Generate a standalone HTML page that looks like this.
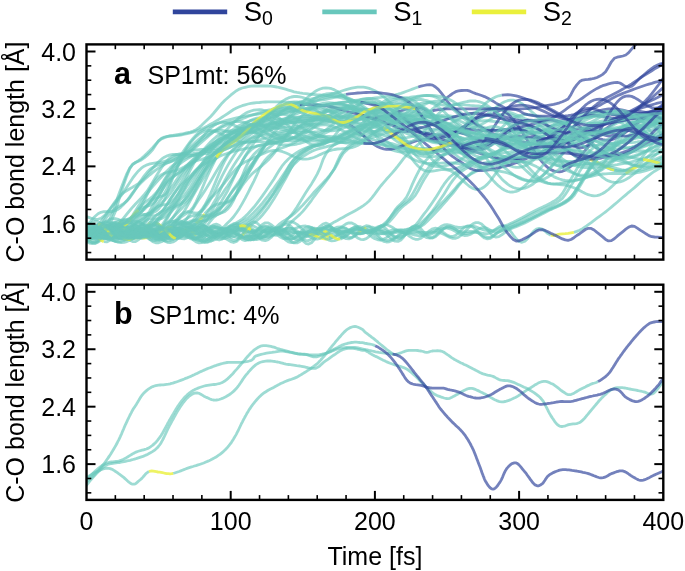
<!DOCTYPE html><html><head><meta charset="utf-8"><style>html,body{margin:0;padding:0;background:#fff;}svg{display:block;filter:blur(0.35px)}text{font-family:"Liberation Sans",sans-serif;fill:#000}</style></head><body>
<svg width="685" height="571" viewBox="0 0 685 571">
<defs><clipPath id="ca"><rect x="86.5" y="44.4" width="576.8" height="215.20000000000002"/></clipPath><clipPath id="cb"><rect x="86.5" y="284.7" width="576.8" height="215.20000000000002"/></clipPath></defs>
<g clip-path="url(#ca)">
<polyline points="86.5,233.6 89.4,234.0 92.3,233.7 95.2,232.7" fill="none" stroke="#68c7bc" stroke-opacity="0.65" stroke-width="2.8" stroke-linejoin="round" stroke-linecap="butt"/>
<polyline points="95.2,232.7 98.0,231.1 100.9,229.3 103.8,227.6 106.7,226.4 109.6,225.7" fill="none" stroke="#eaf03c" stroke-opacity="0.8" stroke-width="2.8" stroke-linejoin="round" stroke-linecap="butt"/>
<polyline points="109.6,225.7 112.5,225.6 115.3,225.8 118.2,225.9 121.1,225.6 124.0,224.5 126.9,222.3 129.8,219.2 132.6,215.2 135.5,210.7 138.4,206.1 141.3,201.7 144.2,197.8 147.1,193.8 149.9,189.9 152.8,186.4 155.7,183.1 158.6,179.9 161.5,176.7 164.4,173.6 167.3,170.7 170.1,167.9 173.0,165.4 175.9,163.1 178.8,160.9 181.7,158.8 184.6,156.6 187.4,154.1 190.3,151.4 193.2,148.4 196.1,145.1 199.0,141.6 201.9,138.0 204.7,134.4 207.6,131.1 210.5,128.2 213.4,125.8 216.3,124.0 219.2,122.9 222.0,122.3 224.9,122.3 227.8,122.9 230.7,123.9 233.6,125.1 236.5,126.6 239.4,128.0 242.2,129.4 245.1,130.7 248.0,131.6 250.9,132.3 253.8,132.6 256.7,132.6 259.5,132.3 262.4,131.8 265.3,131.1 268.2,130.3 271.1,129.4 274.0,128.7 276.8,128.0 279.7,127.5 282.6,127.2 285.5,127.0 288.4,126.8 291.3,126.8 294.1,126.6 297.0,126.4 299.9,126.0 302.8,125.3 305.7,124.3 308.6,123.0 311.5,121.3 314.3,119.4 317.2,117.2 320.1,114.9 323.0,112.6 325.9,110.4 328.8,108.4 331.6,106.8 334.5,105.5 337.4,104.8 340.3,104.6 343.2,104.9 346.1,105.7 348.9,107.0 351.8,108.6 354.7,110.4 357.6,112.2 360.5,114.1 363.4,115.7 366.2,117.1 369.1,118.2 372.0,118.8 374.9,119.1 377.8,119.0 380.7,118.6 383.6,118.0 386.4,117.3 389.3,116.7 392.2,116.2 395.1,116.0 398.0,116.2 400.9,116.9 403.7,118.0 406.6,119.6 409.5,121.7 412.4,124.1 415.3,126.8 418.2,129.6 421.0,132.4 423.9,135.1 426.8,137.4 429.7,139.4 432.6,140.9 435.5,141.8 438.3,142.2 441.2,142.0 444.1,141.2 447.0,140.0 449.9,138.5 452.8,136.6 455.7,134.6 458.5,132.5 461.4,130.4 464.3,128.3 467.2,126.4 470.1,124.5 473.0,122.7 475.8,121.0 478.7,119.3 481.6,117.6 484.5,115.8 487.4,113.8 490.3,111.7 493.1,109.5 496.0,107.3 498.9,105.2 501.8,103.3 504.7,101.8 507.6,100.7 510.4,100.1 513.3,100.1 516.2,100.8 519.1,102.0 522.0,103.7 524.9,105.8 527.8,108.2 530.6,110.8 533.5,113.4 536.4,115.9 539.3,118.4 542.2,120.6 545.1,122.7 547.9,126.2 550.8,130.0 553.7,133.4 556.6,136.2 559.5,138.3 562.4,139.8 565.2,140.7 568.1,141.0 571.0,140.8 573.9,140.2 576.8,139.4 579.7,138.5 582.5,137.5 585.4,136.6 588.3,135.8 591.2,135.2 594.1,134.8 597.0,134.5 599.9,134.2 602.7,134.0 605.6,133.8 608.5,133.3 611.4,132.7 614.3,131.8 617.2,130.6 620.0,129.0 622.9,127.2 625.8,125.1 628.7,123.1 631.6,122.0 634.5,120.9 637.3,119.9 640.2,119.0 643.1,118.2 646.0,117.6 648.9,117.2 651.8,116.9 654.6,116.8 657.5,116.9 660.4,117.1 663.3,117.3" fill="none" stroke="#68c7bc" stroke-opacity="0.65" stroke-width="2.8" stroke-linejoin="round" stroke-linecap="butt"/>
<polyline points="86.5,241.9 89.4,240.2" fill="none" stroke="#68c7bc" stroke-opacity="0.65" stroke-width="2.8" stroke-linejoin="round" stroke-linecap="butt"/>
<polyline points="89.4,240.2 92.3,237.1 95.2,233.5 98.0,230.5 100.9,228.9 103.8,228.8 106.7,229.6 109.6,230.7" fill="none" stroke="#eaf03c" stroke-opacity="0.8" stroke-width="2.8" stroke-linejoin="round" stroke-linecap="butt"/>
<polyline points="109.6,230.7 112.5,231.0 115.3,230.1 118.2,228.1 121.1,225.5 124.0,223.2 126.9,221.9 129.8,222.0 132.6,223.2 135.5,224.9 138.4,226.1 141.3,225.9 144.2,224.0 147.1,220.4 149.9,216.1 152.8,211.7 155.7,208.3 158.6,206.1 161.5,205.1 164.4,204.7 167.3,204.3 170.1,202.9 173.0,200.4 175.9,197.0 178.8,193.0 181.7,188.9 184.6,185.0 187.4,181.4 190.3,178.1 193.2,174.8 196.1,171.3 199.0,167.6 201.9,163.6 204.7,159.4 207.6,155.3 210.5,151.4 213.4,147.8 216.3,144.6 219.2,141.6 222.0,138.9 224.9,136.3 227.8,133.8 230.7,131.4 233.6,129.2 236.5,127.2 239.4,125.4 242.2,123.9 245.1,122.6 248.0,121.6 250.9,120.7 253.8,120.0 256.7,119.4 259.5,118.9 262.4,118.5 265.3,118.3 268.2,118.2 271.1,118.2 274.0,118.4 276.8,118.8 279.7,119.2 282.6,119.9 285.5,120.7 288.4,121.6 291.3,122.7 294.1,123.9 297.0,125.3 299.9,126.8 302.8,128.3 305.7,129.9 308.6,131.6 311.5,133.2 314.3,134.7 317.2,136.2 320.1,137.5 323.0,138.6 325.9,139.5 328.8,140.1 331.6,140.5 334.5,140.6 337.4,140.4 340.3,139.9 343.2,139.1 346.1,138.0 348.9,136.7 351.8,135.3 354.7,133.6 357.6,131.8 360.5,130.0 363.4,128.1 366.2,126.3 369.1,124.5 372.0,122.8 374.9,121.3 377.8,120.0 380.7,118.8 383.6,117.8 386.4,117.0 389.3,116.4 392.2,116.0 395.1,115.8 398.0,115.7 400.9,115.7 403.7,115.7 406.6,115.8 409.5,116.0 412.4,116.1 415.3,116.2 418.2,116.2 421.0,116.3 423.9,116.2 426.8,116.2 429.7,116.2 432.6,116.2 435.5,116.2 438.3,116.3 441.2,116.6 444.1,117.1 447.0,117.8 449.9,118.7 452.8,120.0 455.7,121.6 458.5,123.6 461.4,125.9 464.3,128.6 467.2,131.6 470.1,135.0 473.0,138.7 475.8,142.6 478.7,146.8 481.6,151.0 484.5,155.4 487.4,159.7 490.3,164.0 493.1,168.1 496.0,172.0 498.9,175.6 501.8,178.9 504.7,181.7 507.6,184.1 510.4,186.1 513.3,187.5 516.2,188.4 519.1,188.8 522.0,188.7 524.9,188.1 527.8,187.0 530.6,185.5 533.5,183.7 536.4,181.5 539.3,179.0 542.2,176.2 545.1,173.3 547.9,170.2 550.8,166.9 553.7,163.6 556.6,160.2 559.5,156.8 562.4,153.4 565.2,150.1 568.1,146.8 571.0,143.6 573.9,140.4 576.8,137.4 579.7,134.5 582.5,131.7 585.4,129.1 588.3,126.7 591.2,124.4 594.1,122.9 597.0,122.1 599.9,121.4 602.7,120.8 605.6,120.4 608.5,120.1 611.4,119.9 614.3,119.9 617.2,120.1 620.0,120.4 622.9,120.8 625.8,121.4 628.7,122.0 631.6,122.8 634.5,124.1 637.3,126.2 640.2,128.4 643.1,130.6 646.0,132.8 648.9,134.9 651.8,137.0 654.6,138.8 657.5,140.6 660.4,142.0 663.3,143.3" fill="none" stroke="#68c7bc" stroke-opacity="0.65" stroke-width="2.8" stroke-linejoin="round" stroke-linecap="butt"/>
<polyline points="86.5,225.9 89.4,222.8 92.3,219.3 95.2,216.2 98.0,213.8 100.9,212.3 103.8,211.7 106.7,211.6 109.6,211.7 112.5,211.5 115.3,210.7 118.2,209.2 121.1,206.8 124.0,203.9 126.9,200.8 129.8,196.9 132.6,192.8 135.5,189.0 138.4,185.6 141.3,182.6 144.2,179.8 147.1,177.3 149.9,174.8 152.8,172.4 155.7,170.2 158.6,168.1 161.5,166.2 164.4,164.6 167.3,163.1 170.1,161.7 173.0,160.2 175.9,158.7 178.8,156.9 181.7,154.8 184.6,152.5 187.4,149.9 190.3,147.1 193.2,144.4 196.1,141.7 199.0,139.1 201.9,136.8 204.7,134.8 207.6,133.2 210.5,131.9 213.4,131.0 216.3,130.5 219.2,130.3 222.0,130.4 224.9,130.8 227.8,131.4 230.7,132.1 233.6,132.8 236.5,133.4 239.4,133.8 242.2,133.9 245.1,133.6 248.0,132.9 250.9,131.6 253.8,129.9 256.7,127.7 259.5,125.1 262.4,122.2 265.3,119.0 268.2,115.7 271.1,112.4 274.0,109.2 276.8,106.2 279.7,103.6 282.6,101.2 285.5,99.3 288.4,97.9 291.3,97.0 294.1,96.5 297.0,96.5 299.9,96.8 302.8,97.5 305.7,98.6 308.6,99.8 311.5,101.2 314.3,102.7 317.2,104.3 320.1,105.9 323.0,107.6 325.9,109.2 328.8,110.9 331.6,112.5 334.5,114.1 337.4,115.8 340.3,117.5 343.2,119.1 346.1,120.8 348.9,122.3 351.8,123.9 354.7,125.2 357.6,126.5 360.5,127.4 363.4,128.1 366.2,128.5 369.1,128.4 372.0,128.0 374.9,127.1 377.8,125.8 380.7,124.1 383.6,122.0 386.4,119.6 389.3,117.1 392.2,114.4 395.1,111.7 398.0,109.1 400.9,106.6 403.7,104.4 406.6,102.6 409.5,101.1 412.4,100.1 415.3,99.5 418.2,99.3 421.0,99.5 423.9,100.0 426.8,100.7 429.7,101.6 432.6,102.5 435.5,103.4 438.3,104.2 441.2,104.8 444.1,105.2 447.0,105.3 449.9,105.2 452.8,104.9 455.7,104.3 458.5,103.6 461.4,102.8 464.3,102.1 467.2,101.5 470.1,101.0 473.0,100.9 475.8,101.0 478.7,101.6 481.6,102.5 484.5,103.8 487.4,105.6 490.3,107.6 493.1,109.9 496.0,112.6 498.9,115.3 501.8,117.9 504.7,120.4 507.6,122.7 510.4,124.8 513.3,126.7 516.2,128.4 519.1,129.8 522.0,130.8 524.9,131.6 527.8,132.2 530.6,132.5 533.5,132.6 536.4,132.7 539.3,132.7 542.2,132.6 545.1,132.5 547.9,132.3 550.8,132.1 553.7,131.9 556.6,131.6 559.5,131.2 562.4,130.6 565.2,129.8 568.1,128.7 571.0,127.3 573.9,125.7 576.8,123.8 579.7,122.5 582.5,121.4 585.4,120.2 588.3,119.0 591.2,117.7 594.1,116.5 597.0,115.3 599.9,114.3 602.7,113.3 605.6,112.6 608.5,112.0 611.4,111.7 614.3,111.6 617.2,111.7 620.0,112.0 622.9,112.4 625.8,113.1 628.7,113.8 631.6,114.6 634.5,115.5 637.3,116.4 640.2,117.3 643.1,118.1 646.0,118.9 648.9,119.7 651.8,120.5 654.6,121.2 657.5,121.8 660.4,122.5 663.3,123.2" fill="none" stroke="#68c7bc" stroke-opacity="0.65" stroke-width="2.8" stroke-linejoin="round" stroke-linecap="butt"/>
<polyline points="86.5,230.2 89.4,230.9 92.3,231.7 95.2,232.2 98.0,232.4 100.9,232.1 103.8,231.3 106.7,230.2 109.6,229.0 112.5,227.8 115.3,227.0 118.2,226.6 121.1,226.8 124.0,227.5 126.9,228.7 129.8,230.1 132.6,231.6 135.5,232.8 138.4,233.7 141.3,234.1 144.2,234.0 147.1,233.4 149.9,232.5 152.8,231.5 155.7,230.6 158.6,229.8 161.5,229.5 164.4,229.5 167.3,229.8 170.1,230.4 173.0,231.1 175.9,231.6 178.8,231.9 181.7,231.9 184.6,231.6 187.4,230.9 190.3,230.1 193.2,229.3 196.1,228.7 199.0,228.4 201.9,228.4 204.7,228.8 207.6,229.5 210.5,230.4 213.4,231.4 216.3,232.2 219.2,232.8 222.0,233.0 224.9,232.8 227.8,232.2 230.7,231.5 233.6,230.7 236.5,229.9 239.4,229.4 242.2,229.1 245.1,229.2 248.0,229.5 250.9,230.0 253.8,230.6 256.7,231.2 259.5,231.5 262.4,231.6 265.3,231.4 268.2,231.1 271.1,230.6 274.0,230.2 276.8,229.8 279.7,229.7 282.6,229.9 285.5,230.4 288.4,231.0 291.3,231.7 294.1,232.3 297.0,232.7 299.9,232.8 302.8,232.6 305.7,232.1 308.6,231.3 311.5,230.4 314.3,229.5 317.2,228.8 320.1,228.3 323.0,228.2 325.9,228.4 328.8,229.0 331.6,229.6 334.5,230.3 337.4,230.9 340.3,231.3 343.2,231.4 346.1,231.3 348.9,231.0 351.8,230.6 354.7,230.3 357.6,230.2 360.5,230.3 363.4,230.7 366.2,231.4 369.1,232.2 372.0,233.0 374.9,233.7 377.8,234.0 380.7,233.9 383.6,233.4 386.4,232.3 389.3,231.1 392.2,230.2 395.1,229.8 398.0,229.8 400.9,230.0 403.7,229.9 406.6,229.4 409.5,228.6 412.4,227.7 415.3,226.7 418.2,225.0 421.0,222.8 423.9,220.2 426.8,217.4 429.7,214.6 432.6,212.0 435.5,209.3 438.3,206.5 441.2,203.6 444.1,200.6 447.0,197.5 449.9,194.5 452.8,191.1 455.7,187.8 458.5,184.5 461.4,181.7 464.3,179.1 467.2,176.6 470.1,174.6 473.0,172.9 475.8,171.5 478.7,170.2 481.6,169.0 484.5,167.7 487.4,166.4 490.3,165.0 493.1,163.7 496.0,162.4 498.9,161.2 501.8,160.0 504.7,158.8 507.6,157.8 510.4,156.9 513.3,155.9 516.2,155.0 519.1,154.2 522.0,153.4 524.9,152.6 527.8,151.9 530.6,151.2 533.5,150.6 536.4,150.9 539.3,151.2 542.2,151.3 545.1,151.4 547.9,151.3 550.8,151.2 553.7,150.9 556.6,150.7 559.5,150.5 562.4,150.3 565.2,150.2 568.1,150.2 571.0,150.4 573.9,150.9 576.8,151.5 579.7,152.4 582.5,153.5 585.4,154.9 588.3,156.4 591.2,158.1 594.1,159.9 597.0,161.7 599.9,163.6 602.7,165.3 605.6,167.0 608.5,168.4 611.4,169.6 614.3,170.5 617.2,171.0 620.0,171.2 622.9,171.1 625.8,170.5 628.7,169.6 631.6,168.4 634.5,166.8 637.3,165.0 640.2,162.9 643.1,160.7 646.0,158.3 648.9,155.8 651.8,153.3 654.6,150.7 657.5,148.2 660.4,145.8 663.3,143.4" fill="none" stroke="#68c7bc" stroke-opacity="0.65" stroke-width="2.8" stroke-linejoin="round" stroke-linecap="butt"/>
<polyline points="86.5,239.8 89.4,237.9 92.3,234.8 95.2,231.1 98.0,227.6 100.9,225.2 103.8,224.5 106.7,225.4 109.6,227.8 112.5,230.9" fill="none" stroke="#68c7bc" stroke-opacity="0.65" stroke-width="2.8" stroke-linejoin="round" stroke-linecap="butt"/>
<polyline points="112.5,230.9 115.3,233.9 118.2,236.0 121.1,236.6 124.0,235.5" fill="none" stroke="#eaf03c" stroke-opacity="0.8" stroke-width="2.8" stroke-linejoin="round" stroke-linecap="butt"/>
<polyline points="124.0,235.5 126.9,232.9 129.8,229.5 132.6,226.0 135.5,223.3 138.4,222.1 141.3,222.7 144.2,224.9 147.1,228.3 149.9,232.0 152.8,235.2 155.7,237.3 158.6,237.9 161.5,236.8 164.4,234.6 167.3,231.9 170.1,229.5 173.0,227.9 175.9,227.7 178.8,228.9 181.7,231.2 184.6,234.0 187.4,236.7 190.3,238.6 193.2,239.3 196.1,238.7 199.0,236.8 201.9,234.2 204.7,231.5 207.6,229.1 210.5,227.6 213.4,227.0 216.3,227.4 219.2,228.3 222.0,229.0 224.9,229.1 227.8,228.1 230.7,226.4 233.6,224.5 236.5,222.7 239.4,221.0 242.2,219.1 245.1,216.6 248.0,213.7 250.9,210.5 253.8,207.3 256.7,203.7 259.5,199.9 262.4,195.9 265.3,191.7 268.2,187.5 271.1,183.3 274.0,179.0 276.8,174.3 279.7,169.6 282.6,165.3 285.5,161.9 288.4,159.0 291.3,156.5 294.1,154.4 297.0,152.5 299.9,150.8 302.8,149.3 305.7,148.1 308.6,147.1 311.5,146.3 314.3,145.5 317.2,144.8 320.1,144.0 323.0,143.0 325.9,142.0 328.8,140.9 331.6,139.8 334.5,138.6 337.4,137.4 340.3,136.1 343.2,134.8 346.1,133.5 348.9,131.2 351.8,129.3 354.7,127.7 357.6,126.5 360.5,125.7 363.4,125.1 366.2,124.8 369.1,124.7 372.0,124.7 374.9,124.8 377.8,124.9 380.7,124.9 383.6,124.8 386.4,124.6 389.3,124.1 392.2,123.4 395.1,122.5 398.0,121.3 400.9,119.8 403.7,118.1 406.6,116.3 409.5,114.3 412.4,112.3 415.3,110.2 418.2,108.3 421.0,106.4 423.9,104.8 426.8,103.4 429.7,102.3 432.6,101.6 435.5,101.2 438.3,101.3 441.2,101.7 444.1,102.5 447.0,103.7 449.9,105.2 452.8,107.0 455.7,108.9 458.5,111.0 461.4,113.2 464.3,115.5 467.2,117.7 470.1,119.8 473.0,121.7 475.8,123.5 478.7,125.1 481.6,126.5 484.5,127.7 487.4,128.6 490.3,129.4 493.1,130.0 496.0,130.4 498.9,130.7 501.8,130.9 504.7,131.1 507.6,131.2 510.4,131.3 513.3,131.4 516.2,131.6 519.1,131.7 522.0,131.8 524.9,131.9 527.8,131.9 530.6,131.8 533.5,131.6 536.4,131.3 539.3,130.8 542.2,130.0 545.1,129.0 547.9,127.8 550.8,126.3 553.7,124.6 556.6,123.0 559.5,122.0 562.4,121.0 565.2,119.9 568.1,118.7 571.0,117.6 573.9,116.5 576.8,115.5 579.7,114.6 582.5,113.7 585.4,113.0 588.3,112.5 591.2,112.1 594.1,112.0 597.0,111.9 599.9,112.1 602.7,112.4 605.6,112.8 608.5,113.3 611.4,113.9 614.3,114.6 617.2,115.3 620.0,116.0 622.9,116.7 625.8,117.3 628.7,117.9 631.6,118.3 634.5,118.7 637.3,118.9 640.2,119.1 643.1,119.2 646.0,119.2 648.9,119.1 651.8,119.0 654.6,118.9 657.5,118.7 660.4,118.7 663.3,118.6" fill="none" stroke="#68c7bc" stroke-opacity="0.65" stroke-width="2.8" stroke-linejoin="round" stroke-linecap="butt"/>
<polyline points="86.5,237.7 89.4,240.7 92.3,242.7 95.2,243.1 98.0,241.5 100.9,238.1 103.8,233.6 106.7,228.9 109.6,225.3 112.5,223.3 115.3,223.3 118.2,225.0 121.1,227.8 124.0,230.7 126.9,232.8 129.8,233.8 132.6,233.3 135.5,232.0 138.4,230.3 141.3,228.9 144.2,228.4 147.1,228.7 149.9,229.8 152.8,231.1 155.7,232.3 158.6,232.9 161.5,233.0 164.4,232.7 167.3,232.5 170.1,232.9 173.0,233.9 175.9,235.5 178.8,237.3 181.7,238.6 184.6,238.8 187.4,237.6 190.3,235.0 193.2,231.6 196.1,228.2 199.0,225.6 201.9,224.7 204.7,225.8 207.6,228.5 210.5,232.3 213.4,236.1 216.3,238.9 219.2,240.0 222.0,239.2 224.9,236.8 227.8,233.6 230.7,230.4 233.6,228.2 236.5,227.2 239.4,227.6 242.2,229.0 245.1,230.6 248.0,232.0 250.9,232.6 253.8,232.3 256.7,231.6 259.5,230.6 262.4,230.1 265.3,230.0 268.2,230.6 271.1,231.4 274.0,232.1 276.8,232.1 279.7,231.4 282.6,230.1 285.5,228.8 288.4,227.9 291.3,228.3 294.1,230.1 297.0,233.2 299.9,237.0 302.8,240.7 305.7,243.3 308.6,244.1 311.5,242.7 314.3,239.6 317.2,235.4 320.1,231.2 323.0,228.0 325.9,226.3 328.8,226.5 331.6,228.1 334.5,230.3 337.4,232.5 340.3,233.7 343.2,233.6 346.1,232.4 348.9,230.4 351.8,228.4 354.7,226.9 357.6,226.4 360.5,226.7 363.4,227.8 366.2,229.0 369.1,230.0 372.0,230.6 374.9,230.8 377.8,230.9 380.7,231.4 383.6,232.6 386.4,234.6 389.3,237.1 392.2,239.5 395.1,241.2 398.0,241.4 400.9,240.0 403.7,237.0 406.6,233.2 409.5,229.4 412.4,226.6 415.3,225.6 418.2,226.4 421.0,228.9 423.9,232.2 426.8,235.4 429.7,237.5 432.6,238.0 435.5,236.7 438.3,234.2 441.2,231.1 444.1,228.5 447.0,226.8 449.9,226.6 452.8,227.6 455.7,229.4 458.5,231.4 461.4,232.8 464.3,233.5 467.2,233.5 470.1,232.9 473.0,232.4 475.8,232.1 478.7,232.4 481.6,233.0 484.5,233.6 487.4,233.6 490.3,232.8 493.1,231.2 496.0,229.0 498.9,226.9 501.8,225.7 504.7,225.9 507.6,227.7 510.4,231.0 513.3,235.0 516.2,238.8 519.1,241.5 522.0,242.3 524.9,241.2 527.8,238.4 530.6,234.8 533.5,231.4 536.4,229.1 539.3,228.3 542.2,229.2 545.1,231.2 547.9,233.6 550.8,235.2" fill="none" stroke="#68c7bc" stroke-opacity="0.65" stroke-width="2.8" stroke-linejoin="round" stroke-linecap="butt"/>
<polyline points="550.8,235.2 553.7,235.5 556.6,234.9 559.5,234.2 562.4,233.8 565.2,233.7 568.1,233.3 571.0,232.8 573.9,232.3" fill="none" stroke="#eaf03c" stroke-opacity="0.8" stroke-width="2.8" stroke-linejoin="round" stroke-linecap="butt"/>
<polyline points="573.9,232.3 576.8,231.4 579.7,230.2 582.5,228.6 585.4,226.8 588.3,224.7 591.2,222.6 594.1,220.4 597.0,218.2 599.9,216.1 602.7,214.0 605.6,211.8 608.5,209.5 611.4,207.1 614.3,204.7 617.2,202.2 620.0,199.7 622.9,197.2 625.8,194.8 628.7,192.3 631.6,190.0 634.5,187.6 637.3,185.1 640.2,182.5 643.1,180.0 646.0,177.6 648.9,175.3 651.8,173.1 654.6,171.2 657.5,169.5 660.4,168.0 663.3,166.7" fill="none" stroke="#68c7bc" stroke-opacity="0.65" stroke-width="2.8" stroke-linejoin="round" stroke-linecap="butt"/>
<polyline points="86.5,227.3 89.4,228.7 92.3,229.6 95.2,229.7 98.0,229.1 100.9,228.3 103.8,227.4 106.7,226.9 109.6,226.8 112.5,227.1 115.3,227.6 118.2,227.9 121.1,227.8 124.0,226.9 126.9,225.2 129.8,222.9 132.6,220.2 135.5,217.7 138.4,215.8 141.3,214.6 144.2,214.3 147.1,214.6 149.9,215.2 152.8,215.6 155.7,215.3 158.6,214.0 161.5,211.7 164.4,208.5 167.3,204.5 170.1,199.8 173.0,195.3 175.9,191.2 178.8,187.6 181.7,184.4 184.6,181.5 187.4,178.8 190.3,175.9 193.2,173.0 196.1,169.9 199.0,166.7 201.9,163.7 204.7,160.8 207.6,158.3 210.5,156.2 213.4,154.4 216.3,153.0 219.2,151.8 222.0,150.7 224.9,149.6 227.8,148.3 230.7,146.9 233.6,145.2 236.5,143.2 239.4,141.0 242.2,138.5 245.1,135.8 248.0,132.9 250.9,129.9 253.8,127.0 256.7,124.0 259.5,121.2 262.4,118.5 265.3,116.1 268.2,113.9 271.1,112.1 274.0,110.6 276.8,109.4 279.7,108.5 282.6,108.0 285.5,107.7 288.4,107.6 291.3,107.7 294.1,108.0 297.0,108.3 299.9,108.7 302.8,109.2 305.7,109.7 308.6,110.2 311.5,110.7 314.3,111.4 317.2,112.1 320.1,112.8 323.0,113.7 325.9,114.8 328.8,116.0 331.6,117.3 334.5,118.8 337.4,120.5 340.3,122.2 343.2,124.1 346.1,126.0 348.9,127.9 351.8,129.8 354.7,131.6 357.6,133.3 360.5,134.9 363.4,136.2 366.2,137.5 369.1,138.5 372.0,139.4 374.9,140.1 377.8,140.8 380.7,141.3 383.6,141.9 386.4,142.4 389.3,143.0 392.2,143.7 395.1,144.5 398.0,145.4 400.9,146.4 403.7,147.5 406.6,148.6 409.5,149.8 412.4,150.9 415.3,151.9 418.2,152.7 421.0,153.3 423.9,153.6 426.8,153.5 429.7,153.1 432.6,152.3 435.5,151.1 438.3,149.6 441.2,147.6 444.1,145.4 447.0,143.0 449.9,140.3 452.8,137.7 455.7,135.0 458.5,132.4 461.4,129.9 464.3,127.7 467.2,125.8 470.1,124.1 473.0,122.8 475.8,121.8 478.7,121.2 481.6,120.8 484.5,120.7 487.4,120.7 490.3,121.0 493.1,121.3 496.0,121.7 498.9,122.1 501.8,122.4 504.7,122.7 507.6,123.0 510.4,123.2 513.3,123.4 516.2,123.6 519.1,123.9 522.0,124.2 524.9,124.7 527.8,125.3 530.6,126.0 533.5,127.0 536.4,128.2 539.3,129.5 542.2,131.1 545.1,132.9 547.9,134.8 550.8,136.8 553.7,138.8 556.6,140.9 559.5,143.0 562.4,145.0 565.2,146.9 568.1,148.7 571.0,150.4 573.9,151.9 576.8,153.4 579.7,154.8 582.5,156.1" fill="none" stroke="#68c7bc" stroke-opacity="0.65" stroke-width="2.8" stroke-linejoin="round" stroke-linecap="butt"/>
<polyline points="582.5,156.1 585.4,157.4 588.3,158.7 591.2,160.0 594.1,161.3 597.0,162.6 599.9,164.0 602.7,165.4 605.6,166.7 608.5,168.0 611.4,169.1 614.3,170.0" fill="none" stroke="#eaf03c" stroke-opacity="0.8" stroke-width="2.8" stroke-linejoin="round" stroke-linecap="butt"/>
<polyline points="614.3,170.0 617.2,170.6 620.0,170.8 622.9,170.6 625.8,170.0 628.7,168.9 631.6,167.2 634.5,165.1 637.3,162.4 640.2,159.4 643.1,156.0 646.0,152.3 648.9,148.5 651.8,144.7 654.6,141.0 657.5,137.5 660.4,134.4 663.3,131.6" fill="none" stroke="#68c7bc" stroke-opacity="0.65" stroke-width="2.8" stroke-linejoin="round" stroke-linecap="butt"/>
<polyline points="86.5,228.4 89.4,224.8 92.3,222.2 95.2,221.1 98.0,221.6 100.9,223.4 103.8,226.4 106.7,229.8 109.6,233.1 112.5,235.7 115.3,237.2 118.2,237.5 121.1,236.6 124.0,234.9 126.9,232.7 129.8,230.7 132.6,229.2 135.5,228.6 138.4,229.0 141.3,230.3 144.2,232.2 147.1,234.4 149.9,236.4 152.8,238.0 155.7,238.7 158.6,238.7 161.5,238.0 164.4,236.8 167.3,235.3 170.1,234.0 173.0,232.9 175.9,232.3 178.8,232.0 181.7,231.9 184.6,232.0 187.4,231.9 190.3,231.6 193.2,231.1 196.1,230.3 199.0,229.6 201.9,229.0 204.7,228.8 207.6,229.2 210.5,230.1 213.4,231.4 216.3,233.0 219.2,234.4 222.0,235.4 224.9,235.7 227.8,235.2 230.7,234.0 233.6,232.2 236.5,230.2 239.4,228.5 242.2,227.4 245.1,227.4 248.0,228.4 250.9,230.4 253.8,233.1 256.7,236.0 259.5,238.5 262.4,240.2 265.3,240.7 268.2,239.7 271.1,237.5 274.0,234.4 276.8,230.9 279.7,227.6 282.6,225.3 285.5,224.2 288.4,224.7 291.3,226.6 294.1,229.6 297.0,233.1 299.9,236.5 302.8,239.2 305.7,240.6 308.6,240.6 311.5,239.1 314.3,236.5 317.2,233.4 320.1,230.2 323.0,227.6 325.9,226.2 328.8,226.0 331.6,227.2 334.5,229.4 337.4,232.2 340.3,235.0 343.2,237.3 346.1,238.7 348.9,238.9 351.8,237.9 354.7,236.1 357.6,233.7" fill="none" stroke="#68c7bc" stroke-opacity="0.65" stroke-width="2.8" stroke-linejoin="round" stroke-linecap="butt"/>
<polyline points="357.6,233.7 360.5,231.2 363.4,229.0 366.2,227.6" fill="none" stroke="#eaf03c" stroke-opacity="0.8" stroke-width="2.8" stroke-linejoin="round" stroke-linecap="butt"/>
<polyline points="366.2,227.6 369.1,226.9 372.0,227.2 374.9,228.1 377.8,229.4 380.7,230.7 383.6,231.9 386.4,232.6 389.3,233.0 392.2,232.9 395.1,232.6 398.0,232.3 400.9,232.2 403.7,232.4 406.6,232.9 409.5,233.7 412.4,234.5 415.3,235.2 418.2,235.6 421.0,235.5 423.9,235.0 426.8,234.1 429.7,233.2 432.6,232.4 435.5,232.1 438.3,232.3 441.2,233.2 444.1,234.5 447.0,236.0 449.9,237.4 452.8,238.3 455.7,238.3 458.5,237.2 461.4,235.2 464.3,232.4 467.2,229.2 470.1,226.2 473.0,223.8 475.8,222.6 478.7,222.7 481.6,224.1 484.5,226.7 487.4,229.9 490.3,233.2 493.1,235.9 496.0,237.2 498.9,236.6 501.8,234.8 504.7,232.6 507.6,230.4 510.4,228.9 513.3,227.7 516.2,226.6 519.1,225.4 522.0,224.2 524.9,222.9 527.8,221.5 530.6,220.1 533.5,218.6 536.4,217.1 539.3,215.6 542.2,214.1 545.1,212.5 547.9,211.0 550.8,209.6 553.7,208.3 556.6,207.0 559.5,205.7 562.4,204.3 565.2,202.7 568.1,200.9 571.0,198.7 573.9,195.6 576.8,191.3 579.7,186.5 582.5,181.7 585.4,177.0 588.3,172.1 591.2,167.5 594.1,163.1 597.0,158.9 599.9,155.6 602.7,152.9 605.6,150.5 608.5,148.4 611.4,146.9 614.3,146.5 617.2,144.1 620.0,141.8 622.9,139.6 625.8,137.4 628.7,135.4 631.6,133.5 634.5,131.7 637.3,130.0 640.2,128.5 643.1,127.3 646.0,126.2 648.9,125.3 651.8,124.7 654.6,124.2 657.5,124.0 660.4,124.0 663.3,124.2" fill="none" stroke="#68c7bc" stroke-opacity="0.65" stroke-width="2.8" stroke-linejoin="round" stroke-linecap="butt"/>
<polyline points="86.5,230.1 89.4,229.5 92.3,229.7 95.2,230.7 98.0,232.2 100.9,233.8" fill="none" stroke="#68c7bc" stroke-opacity="0.65" stroke-width="2.8" stroke-linejoin="round" stroke-linecap="butt"/>
<polyline points="100.9,233.8 103.8,235.2 106.7,236.0 109.6,236.2 112.5,235.7" fill="none" stroke="#eaf03c" stroke-opacity="0.8" stroke-width="2.8" stroke-linejoin="round" stroke-linecap="butt"/>
<polyline points="112.5,235.7 115.3,234.7 118.2,233.2 121.1,231.6 124.0,230.0 126.9,228.5 129.8,227.0 132.6,225.4 135.5,223.8 138.4,222.0 141.3,219.9 144.2,217.7 147.1,215.3 149.9,212.9 152.8,210.5 155.7,208.1 158.6,205.7 161.5,203.0 164.4,200.2 167.3,197.1 170.1,193.7 173.0,189.6 175.9,184.9 178.8,180.4 181.7,176.1 184.6,172.2 187.4,168.7 190.3,165.7 193.2,162.9 196.1,160.2 199.0,157.7 201.9,155.1 204.7,152.6 207.6,150.1 210.5,147.7 213.4,145.6 216.3,143.6 219.2,141.9 222.0,140.4 224.9,139.2 227.8,138.2 230.7,137.3 233.6,136.5 236.5,135.8 239.4,135.1 242.2,134.4 245.1,133.8 248.0,133.1 250.9,132.4 253.8,131.8 256.7,131.1 259.5,130.4 262.4,129.6 265.3,128.8 268.2,127.9 271.1,127.0 274.0,126.0 276.8,125.1 279.7,124.1 282.6,123.2 285.5,122.3 288.4,121.5 291.3,120.8 294.1,120.2 297.0,119.7 299.9,119.3 302.8,119.0 305.7,118.7 308.6,118.5 311.5,118.3 314.3,118.0 317.2,117.7 320.1,117.3 323.0,116.7 325.9,116.1 328.8,115.2 331.6,114.2 334.5,113.0 337.4,111.6 340.3,110.1 343.2,108.5 346.1,106.9 348.9,105.2 351.8,103.6 354.7,102.1 357.6,100.8 360.5,99.7 363.4,98.9 366.2,98.5 369.1,98.4 372.0,98.7 374.9,99.4 377.8,100.4 380.7,101.9 383.6,103.6 386.4,105.7 389.3,108.0 392.2,110.4 395.1,112.9 398.0,115.5 400.9,118.1 403.7,120.5 406.6,122.8 409.5,125.0 412.4,126.9 415.3,128.6 418.2,130.1 421.0,131.3 423.9,132.4 426.8,133.3 429.7,134.1 432.6,134.7 435.5,135.4 438.3,136.0 441.2,136.7 444.1,137.4 447.0,138.1 449.9,139.0 452.8,139.9 455.7,140.9 458.5,141.9 461.4,142.9 464.3,143.8 467.2,144.7 470.1,145.4 473.0,145.9 475.8,146.1 478.7,146.2 481.6,145.9 484.5,145.3 487.4,144.5 490.3,143.4 493.1,142.1 496.0,140.6 498.9,138.9 501.8,137.2 504.7,135.6 507.6,134.0 510.4,132.6 513.3,131.4 516.2,130.6 519.1,130.1 522.0,130.0 524.9,130.3 527.8,131.0 530.6,132.2 533.5,133.8 536.4,135.7 539.3,137.9 542.2,140.4 545.1,143.0 547.9,145.8 550.8,148.6 553.7,151.3 556.6,154.0 559.5,156.5 562.4,158.8 565.2,160.8 568.1,162.6 571.0,164.1 573.9,165.3 576.8,166.2 579.7,166.9 582.5,167.4 585.4,167.6 588.3,167.7 591.2,167.6 594.1,167.4 597.0,167.2 599.9,166.9 602.7,166.6 605.6,166.2 608.5,165.9 611.4,165.5 614.3,165.1 617.2,164.7 620.0,164.2 622.9,163.7 625.8,163.2 628.7,162.6 631.6,161.9 634.5,161.2 637.3,160.4 640.2,159.5 643.1,158.6 646.0,157.6 648.9,156.6 651.8,155.6 654.6,154.6 657.5,153.5 660.4,152.5 663.3,151.5" fill="none" stroke="#68c7bc" stroke-opacity="0.65" stroke-width="2.8" stroke-linejoin="round" stroke-linecap="butt"/>
<polyline points="86.5,228.2 89.4,228.0 92.3,228.4 95.2,229.1 98.0,230.0 100.9,230.9 103.8,231.4 106.7,231.5 109.6,230.9 112.5,229.5" fill="none" stroke="#68c7bc" stroke-opacity="0.65" stroke-width="2.8" stroke-linejoin="round" stroke-linecap="butt"/>
<polyline points="112.5,229.5 115.3,227.3 118.2,224.5 121.1,221.2" fill="none" stroke="#eaf03c" stroke-opacity="0.8" stroke-width="2.8" stroke-linejoin="round" stroke-linecap="butt"/>
<polyline points="121.1,221.2 124.0,217.6 126.9,214.0 129.8,210.5 132.6,207.2 135.5,204.0 138.4,201.0 141.3,198.0 144.2,194.7 147.1,191.2 149.9,186.8 152.8,182.0 155.7,177.0 158.6,172.2 161.5,167.7 164.4,163.7 167.3,160.4 170.1,157.8 173.0,155.9 175.9,154.7 178.8,154.0 181.7,153.7 184.6,153.6 187.4,153.6 190.3,153.6 193.2,153.4 196.1,153.1 199.0,152.5 201.9,151.6 204.7,150.5 207.6,149.1 210.5,147.5 213.4,145.7 216.3,143.8 219.2,141.8 222.0,139.8 224.9,137.9 227.8,136.0 230.7,134.2 233.6,132.6 236.5,131.2 239.4,129.9 242.2,128.9 245.1,128.0 248.0,127.3 250.9,126.7 253.8,126.3 256.7,125.9 259.5,125.5 262.4,125.1 265.3,124.6 268.2,124.1 271.1,123.5 274.0,122.8 276.8,121.9 279.7,120.9 282.6,119.8 285.5,118.6 288.4,117.4 291.3,116.1 294.1,114.8 297.0,113.6 299.9,112.5 302.8,111.5 305.7,110.6 308.6,109.9 311.5,109.4 314.3,109.2 317.2,109.1 320.1,109.2 323.0,109.6 325.9,110.1 328.8,110.9 331.6,111.8 334.5,112.8 337.4,113.9 340.3,115.2 343.2,116.5 346.1,117.9 348.9,119.3 351.8,120.7 354.7,122.2 357.6,123.7 360.5,125.2 363.4,126.6 366.2,128.0 369.1,129.4 372.0,130.8 374.9,132.1 377.8,133.3 380.7,134.4 383.6,135.4 386.4,136.3 389.3,137.0 392.2,137.5 395.1,137.9 398.0,138.1 400.9,138.1 403.7,137.9 406.6,137.6 409.5,137.1 412.4,136.5 415.3,135.7 418.2,134.9 421.0,134.1 423.9,133.2 426.8,132.4 429.7,131.6 432.6,131.0 435.5,130.4 438.3,130.0 441.2,129.7 444.1,129.5 447.0,129.5 449.9,129.5 452.8,129.5 455.7,129.6 458.5,129.6 461.4,129.5 464.3,129.3 467.2,129.0 470.1,128.5 473.0,127.7 475.8,126.8 478.7,125.6 481.6,124.2 484.5,122.7 487.4,121.1 490.3,119.4 493.1,117.8 496.0,116.3 498.9,115.2 501.8,114.4 504.7,114.0 507.6,114.0 510.4,114.6 513.3,115.5 516.2,116.9 519.1,118.5 522.0,120.4 524.9,122.4 527.8,125.1 530.6,128.8 533.5,132.7 536.4,136.8 539.3,141.0 542.2,145.1 545.1,149.1 547.9,152.8 550.8,156.2 553.7,159.1 556.6,161.5 559.5,163.4 562.4,164.8 565.2,165.6 568.1,165.8 571.0,165.6 573.9,164.9 576.8,163.9 579.7,162.6 582.5,161.1 585.4,159.4 588.3,157.7 591.2,156.1 594.1,154.5 597.0,153.2 599.9,152.0 602.7,151.0 605.6,150.2 608.5,149.6 611.4,149.2 614.3,149.0 617.2,148.8 620.0,148.7 622.9,148.5 625.8,148.2 628.7,147.8 631.6,147.3 634.5,146.5 637.3,145.4 640.2,144.1 643.1,142.5 646.0,140.7 648.9,138.6 651.8,136.3 654.6,133.9 657.5,131.3 660.4,128.7 663.3,126.0" fill="none" stroke="#68c7bc" stroke-opacity="0.65" stroke-width="2.8" stroke-linejoin="round" stroke-linecap="butt"/>
<polyline points="86.5,237.6 89.4,237.6 92.3,236.0 95.2,233.5 98.0,230.7 100.9,228.6 103.8,227.7 106.7,228.3 109.6,230.3 112.5,233.1 115.3,236.0 118.2,238.2 121.1,239.1 124.0,238.5 126.9,236.3 129.8,233.0 132.6,229.5 135.5,226.6 138.4,224.8 141.3,224.7 144.2,226.1 147.1,228.7 149.9,231.7 152.8,234.4 155.7,235.8 158.6,235.8 161.5,234.1 164.4,231.1 167.3,227.5 170.1,224.1 173.0,221.5 175.9,220.2 178.8,220.3 181.7,221.3 184.6,222.7 187.4,223.8 190.3,223.9 193.2,222.5 196.1,219.7 199.0,215.7 201.9,211.0 204.7,206.3 207.6,202.0 210.5,198.4 213.4,195.7 216.3,192.5 219.2,189.3 222.0,186.0 224.9,182.5 227.8,178.8 230.7,175.1 233.6,171.6 236.5,168.5 239.4,165.8 242.2,163.7 245.1,161.9 248.0,160.5 250.9,159.2 253.8,157.9 256.7,156.6 259.5,155.2 262.4,153.9 265.3,152.6 268.2,151.5 271.1,150.8 274.0,150.4 276.8,150.4 279.7,150.9 282.6,151.7 285.5,152.8 288.4,154.0 291.3,155.4 294.1,156.7 297.0,157.8 299.9,158.6 302.8,159.1 305.7,159.2 308.6,158.8 311.5,158.2 314.3,157.2 317.2,156.0 320.1,154.6 323.0,153.3 325.9,152.0 328.8,151.0 331.6,150.1 334.5,149.5 337.4,149.0 340.3,148.8 343.2,148.6 346.1,148.5 348.9,148.2 351.8,147.6 354.7,146.7 357.6,145.5 360.5,143.8 363.4,141.8 366.2,139.4 369.1,136.9 372.0,134.4 374.9,132.0 377.8,130.0 380.7,128.5 383.6,127.7 386.4,127.8 389.3,128.8 392.2,130.7 395.1,133.5 398.0,137.0 400.9,141.2 403.7,145.7 406.6,150.4 409.5,155.0 412.4,159.3 415.3,163.1 418.2,166.3 421.0,168.7 423.9,170.3 426.8,171.2 429.7,171.4 432.6,171.2 435.5,170.7 438.3,170.1 441.2,169.6 444.1,169.5 447.0,169.8 449.9,170.6 452.8,172.1 455.7,174.0 458.5,176.4 461.4,179.1 464.3,181.9 467.2,184.5 470.1,186.8 473.0,188.4 475.8,189.3 478.7,189.4 481.6,188.5 484.5,186.7 487.4,184.1 490.3,180.8 493.1,177.1 496.0,173.1 498.9,169.2 501.8,165.6 504.7,162.4 507.6,160.0 510.4,158.5 513.3,157.9 516.2,158.2 519.1,159.4 522.0,161.3 524.9,163.8 527.8,166.7 530.6,169.7 533.5,172.8 536.4,175.6 539.3,178.2 542.2,180.2 545.1,181.9 547.9,183.0 550.8,183.8 553.7,184.2 556.6,184.4 559.5,184.6 562.4,184.8 565.2,185.2 568.1,185.8 571.0,186.7 573.9,187.8 576.8,189.1 579.7,190.6 582.5,192.1 585.4,193.5 588.3,194.7 591.2,195.5 594.1,195.8 597.0,195.6 599.9,194.8 602.7,193.5 605.6,191.7 608.5,189.5 611.4,186.9 614.3,184.2 617.2,181.4 620.0,178.6 622.9,176.0 625.8,173.6" fill="none" stroke="#68c7bc" stroke-opacity="0.65" stroke-width="2.8" stroke-linejoin="round" stroke-linecap="butt"/>
<polyline points="625.8,173.6 628.7,171.5 631.6,169.7 634.5,168.1 637.3,166.7 640.2,165.5" fill="none" stroke="#eaf03c" stroke-opacity="0.8" stroke-width="2.8" stroke-linejoin="round" stroke-linecap="butt"/>
<polyline points="640.2,165.5 643.1,164.3 646.0,163.2 648.9,162.0 651.8,160.8 654.6,159.6 657.5,158.3 660.4,157.1 663.3,156.0" fill="none" stroke="#68c7bc" stroke-opacity="0.65" stroke-width="2.8" stroke-linejoin="round" stroke-linecap="butt"/>
<polyline points="86.5,235.3 89.4,236.4 92.3,237.5 95.2,238.1 98.0,237.9 100.9,236.9 103.8,235.0 106.7,232.4 109.6,229.6 112.5,227.1 115.3,225.3 118.2,224.5 121.1,224.9 124.0,226.2 126.9,228.3 129.8,230.6 132.6,232.6 135.5,233.8 138.4,233.7" fill="none" stroke="#68c7bc" stroke-opacity="0.65" stroke-width="2.8" stroke-linejoin="round" stroke-linecap="butt"/>
<polyline points="138.4,233.7 141.3,232.4 144.2,229.9 147.1,226.6 149.9,222.8" fill="none" stroke="#eaf03c" stroke-opacity="0.8" stroke-width="2.8" stroke-linejoin="round" stroke-linecap="butt"/>
<polyline points="149.9,222.8 152.8,219.2 155.7,216.0 158.6,213.5 161.5,211.6 164.4,210.2 167.3,208.8 170.1,207.1 173.0,204.8 175.9,201.6 178.8,197.6 181.7,193.0 184.6,188.1 187.4,182.6 190.3,177.6 193.2,173.4 196.1,170.0 199.0,167.5 201.9,165.6 204.7,164.0 207.6,162.5 210.5,160.8 213.4,158.8 216.3,156.3 219.2,153.3 222.0,150.0 224.9,146.4 227.8,142.8 230.7,139.2 233.6,135.7 236.5,132.4 239.4,129.3 242.2,126.5 245.1,124.1 248.0,122.0 250.9,120.3 253.8,119.0 256.7,118.2 259.5,117.8 262.4,117.9 265.3,118.5 268.2,119.4 271.1,120.7 274.0,122.2 276.8,123.8 279.7,125.4 282.6,126.9 285.5,128.1 288.4,129.1 291.3,129.7 294.1,129.8 297.0,129.5 299.9,128.8 302.8,127.7 305.7,126.2 308.6,124.4 311.5,122.4 314.3,120.2 317.2,118.0 320.1,115.9 323.0,113.9 325.9,112.1 328.8,110.6 331.6,109.4 334.5,108.5 337.4,107.9 340.3,107.6 343.2,107.6 346.1,107.9 348.9,108.3 351.8,108.7 354.7,109.2 357.6,109.6 360.5,109.9 363.4,110.0 366.2,109.9 369.1,109.5 372.0,108.8 374.9,107.9 377.8,106.8 380.7,105.5 383.6,104.1 386.4,102.7 389.3,101.3 392.2,100.0 395.1,98.9 398.0,98.1 400.9,97.6 403.7,97.6 406.6,97.9 409.5,98.7 412.4,100.0 415.3,101.6 418.2,103.6 421.0,106.0 423.9,108.6 426.8,111.4 429.7,114.2 432.6,117.1 435.5,119.8 438.3,122.5 441.2,124.9 444.1,127.0 447.0,128.8 449.9,130.4 452.8,131.6 455.7,132.4 458.5,133.0 461.4,133.3 464.3,133.4 467.2,133.2 470.1,133.0 473.0,132.7 475.8,132.3 478.7,131.9 481.6,131.5 484.5,131.1 487.4,130.8 490.3,130.5 493.1,130.3 496.0,130.1 498.9,129.9 501.8,129.7 504.7,129.6 507.6,129.3 510.4,129.1 513.3,128.8 516.2,128.6 519.1,128.3 522.0,128.0 524.9,127.8 527.8,127.7 530.6,127.7 533.5,128.0 536.4,128.4 539.3,129.1 542.2,130.0 545.1,131.3 547.9,132.8 550.8,134.7 553.7,136.8 556.6,139.2 559.5,141.8 562.4,144.5 565.2,147.3 568.1,150.1 571.0,152.8 573.9,155.4 576.8,157.7 579.7,159.8 582.5,161.5 585.4,162.8 588.3,163.7 591.2,164.2 594.1,164.1 597.0,163.7 599.9,162.8 602.7,161.5 605.6,159.9 608.5,158.1 611.4,156.0 614.3,153.7 617.2,151.4 620.0,149.0 622.9,146.6 625.8,144.3 628.7,142.1 631.6,140.0 634.5,138.1 637.3,136.4 640.2,134.8 643.1,133.4 646.0,132.1 648.9,131.0 651.8,130.1 654.6,129.3 657.5,128.6 660.4,128.1 663.3,127.8" fill="none" stroke="#68c7bc" stroke-opacity="0.65" stroke-width="2.8" stroke-linejoin="round" stroke-linecap="butt"/>
<polyline points="86.5,234.6 89.4,234.6 92.3,234.6 95.2,234.5 98.0,234.5 100.9,234.5 103.8,234.4 106.7,234.4 109.6,234.3 112.5,234.2 115.3,234.1 118.2,234.0 121.1,233.9 124.0,233.7 126.9,233.6 129.8,233.4 132.6,233.2 135.5,233.0 138.4,232.8 141.3,232.6 144.2,232.4 147.1,232.1 149.9,231.9 152.8,231.6 155.7,231.3 158.6,231.0 161.5,230.1 164.4,228.1 167.3,225.2 170.1,221.7 173.0,217.5 175.9,213.1 178.8,208.4 181.7,203.7 184.6,199.2 187.4,195.1 190.3,191.0 193.2,186.5 196.1,181.7 199.0,176.8 201.9,172.0 204.7,167.2 207.6,162.8 210.5,158.6 213.4,155.0 216.3,152.0 219.2,149.4 222.0,146.9 224.9,144.4 227.8,142.1 230.7,139.8 233.6,137.6 236.5,135.5 239.4,133.4 242.2,131.5 245.1,129.6 248.0,127.9 250.9,126.2 253.8,124.6 256.7,123.1 259.5,121.7 262.4,120.4 265.3,119.2 268.2,118.1 271.1,117.1 274.0,116.1 276.8,115.3 279.7,114.4 282.6,113.6 285.5,112.9 288.4,112.2 291.3,111.5 294.1,110.8 297.0,110.2 299.9,109.6 302.8,109.0 305.7,108.5 308.6,107.9 311.5,107.4 314.3,106.9 317.2,106.4 320.1,105.9 323.0,105.4 325.9,105.0 328.8,104.5 331.6,104.1 334.5,103.6 337.4,103.2 340.3,102.7 343.2,102.2 346.1,101.8 348.9,101.3 351.8,100.9 354.7,100.5 357.6,100.1 360.5,99.7 363.4,99.4 366.2,99.1 369.1,98.7 372.0,98.4 374.9,98.0 377.8,97.6 380.7,97.3 383.6,96.9 386.4,96.4 389.3,95.9 392.2,95.4 395.1,94.9 398.0,94.2 400.9,93.4 403.7,92.4 406.6,91.3 409.5,90.2 412.4,89.1 415.3,88.0 418.2,87.0" fill="none" stroke="#68c7bc" stroke-opacity="0.65" stroke-width="2.8" stroke-linejoin="round" stroke-linecap="butt"/>
<polyline points="418.2,87.0 421.0,86.2 423.9,85.5 426.8,84.9 429.7,84.6 432.6,85.1 435.5,87.0 438.3,89.4 441.2,92.9 444.1,96.6 447.0,100.8 449.9,104.4 452.8,107.3 455.7,110.0 458.5,112.4 461.4,114.7 464.3,116.8 467.2,118.8 470.1,120.6 473.0,122.4 475.8,124.2 478.7,126.0 481.6,127.6 484.5,129.3 487.4,130.8 490.3,132.2 493.1,133.6 496.0,134.8 498.9,135.9 501.8,136.9 504.7,137.7 507.6,138.4 510.4,139.1 513.3,139.8 516.2,140.5 519.1,141.1 522.0,141.8 524.9,142.3 527.8,142.9 530.6,143.4 533.5,143.8 536.4,144.2 539.3,144.4 542.2,144.7 545.1,144.8 547.9,144.8 550.8,144.7 553.7,144.4 556.6,143.9 559.5,143.2 562.4,142.4 565.2,141.4 568.1,140.4 571.0,139.2 573.9,138.0 576.8,136.8 579.7,135.5 582.5,134.2 585.4,132.9 588.3,131.7 591.2,130.5 594.1,129.3 597.0,128.0 599.9,126.7 602.7,125.4 605.6,123.9 608.5,122.5 611.4,121.0 614.3,119.5 617.2,118.0 620.0,116.4 622.9,114.9 625.8,113.4 628.7,111.9 631.6,110.4 634.5,108.9 637.3,107.5 640.2,106.1 643.1,104.6 646.0,103.2 648.9,101.8 651.8,100.3 654.6,98.9 657.5,97.5 660.4,96.0 663.3,94.6" fill="none" stroke="#30459c" stroke-opacity="0.68" stroke-width="2.8" stroke-linejoin="round" stroke-linecap="butt"/>
<polyline points="86.5,231.0 89.4,234.2 92.3,236.8 95.2,238.1 98.0,237.5 100.9,235.2 103.8,231.7 106.7,227.8 109.6,224.4 112.5,222.3 115.3,222.0 118.2,223.5 121.1,226.1 124.0,229.2 126.9,231.8 129.8,233.2 132.6,232.9 135.5,231.1 138.4,228.2 141.3,224.9 144.2,221.9 147.1,219.7 149.9,218.7 152.8,218.5 155.7,218.8 158.6,219.0 161.5,218.5 164.4,216.9 167.3,214.2 170.1,210.8 173.0,206.8 175.9,202.9 178.8,199.3 181.7,194.4 184.6,189.9 187.4,185.6 190.3,181.4 193.2,177.3 196.1,173.2 199.0,169.2 201.9,165.4 204.7,162.0 207.6,158.8 210.5,156.1 213.4,153.5 216.3,151.2 219.2,149.0 222.0,146.7 224.9,144.4 227.8,142.0 230.7,139.7 233.6,137.3 236.5,134.9 239.4,132.6 242.2,130.5 245.1,128.4 248.0,126.4 250.9,124.5 253.8,122.7 256.7,121.0 259.5,119.4 262.4,117.9 265.3,116.6 268.2,115.3 271.1,114.3 274.0,113.3 276.8,112.4 279.7,111.6 282.6,110.9 285.5,110.2 288.4,109.5 291.3,108.8 294.1,108.0 297.0,107.2 299.9,106.3 302.8,105.4 305.7,104.4 308.6,103.3 311.5,102.3 314.3,101.2 317.2,100.2 320.1,99.2 323.0,98.3 325.9,97.5 328.8,96.8 331.6,96.3 334.5,96.1 337.4,96.0 340.3,96.2 343.2,96.7 346.1,97.4 348.9,98.4 351.8,99.6 354.7,101.0 357.6,102.7 360.5,104.4 363.4,106.3 366.2,108.3 369.1,110.3 372.0,112.3 374.9,114.2 377.8,116.0 380.7,117.6 383.6,119.1 386.4,120.3 389.3,121.3 392.2,122.1 395.1,122.6 398.0,122.8 400.9,122.8 403.7,122.6 406.6,122.2 409.5,121.7 412.4,121.0 415.3,120.2 418.2,119.4 421.0,118.6 423.9,117.9 426.8,117.2 429.7,116.6 432.6,116.1 435.5,115.8 438.3,115.6 441.2,115.5 444.1,115.6 447.0,115.8 449.9,116.0 452.8,116.4 455.7,116.8 458.5,117.2 461.4,117.5 464.3,117.8 467.2,118.0 470.1,118.1 473.0,118.0 475.8,117.8 478.7,117.4 481.6,116.9 484.5,116.2 487.4,115.3 490.3,114.3 493.1,113.2" fill="none" stroke="#68c7bc" stroke-opacity="0.65" stroke-width="2.8" stroke-linejoin="round" stroke-linecap="butt"/>
<polyline points="493.1,113.2 496.0,112.1 498.9,110.9 501.8,109.8 504.7,108.7 507.6,107.6 510.4,106.8 513.3,106.1 516.2,105.6 519.1,105.3 522.0,105.2 524.9,105.4 527.8,105.8 530.6,106.4 533.5,107.2 536.4,108.2 539.3,109.4 542.2,110.6 545.1,111.9 547.9,113.2 550.8,114.5 553.7,115.7 556.6,116.8 559.5,117.8 562.4,118.6 565.2,119.1 568.1,119.3 571.0,119.2 573.9,118.8 576.8,118.3 579.7,117.5 582.5,116.6 585.4,115.6 588.3,114.6 591.2,113.5 594.1,112.5 597.0,111.5 599.9,110.6 602.7,109.9 605.6,109.4 608.5,109.0 611.4,108.9 614.3,108.9 617.2,109.2 620.0,109.6 622.9,110.2 625.8,110.8 628.7,111.5 631.6,112.2 634.5,112.8 637.3,113.3 640.2,113.5 643.1,113.6 646.0,113.3 648.9,112.7 651.8,111.8 654.6,110.4 657.5,108.6 660.4,106.4 663.3,103.7" fill="none" stroke="#30459c" stroke-opacity="0.68" stroke-width="2.8" stroke-linejoin="round" stroke-linecap="butt"/>
<polyline points="86.5,234.3 89.4,236.8 92.3,238.0 95.2,237.7 98.0,236.2 100.9,234.2 103.8,232.3 106.7,231.3 109.6,231.4 112.5,232.6 115.3,234.6 118.2,236.6 121.1,238.3 124.0,239.2 126.9,239.4 129.8,238.9 132.6,238.3" fill="none" stroke="#68c7bc" stroke-opacity="0.65" stroke-width="2.8" stroke-linejoin="round" stroke-linecap="butt"/>
<polyline points="132.6,238.3 135.5,237.9 138.4,237.7 141.3,237.9 144.2,238.0 147.1,237.7 149.9,236.9 152.8,235.5" fill="none" stroke="#eaf03c" stroke-opacity="0.8" stroke-width="2.8" stroke-linejoin="round" stroke-linecap="butt"/>
<polyline points="152.8,235.5 155.7,233.8 158.6,232.2 161.5,231.3 164.4,231.4 167.3,232.5 170.1,234.3 173.0,236.2 175.9,237.5 178.8,237.6 181.7,236.3 184.6,233.9 187.4,230.9 190.3,228.1 193.2,226.4 196.1,226.2 199.0,227.6 201.9,230.2 204.7,233.3 207.6,236.0 210.5,237.6 213.4,237.8 216.3,236.8 219.2,235.0 222.0,233.1 224.9,231.8 227.8,231.4 230.7,231.9 233.6,233.1 236.5,234.5 239.4,235.7 242.2,236.4 245.1,236.5 248.0,236.4 250.9,236.2 253.8,236.2 256.7,236.7 259.5,237.4 262.4,238.0 265.3,238.1 268.2,237.4 271.1,236.0 274.0,234.0 276.8,232.2 279.7,230.9 282.6,230.8 285.5,232.0 288.4,234.1 291.3,236.7 294.1,238.8 297.0,239.8 299.9,239.3 302.8,237.3 305.7,234.5 308.6,231.5 311.5,229.1 314.3,228.1 317.2,228.6 320.1,230.5 323.0,233.0 325.9,235.4 328.8,237.1 331.6,237.6 334.5,237.0 337.4,235.5 340.3,233.7 343.2,232.3 346.1,231.5 348.9,231.5 351.8,232.0 354.7,232.7 357.6,233.3 360.5,233.3 363.4,232.9 366.2,232.4 369.1,232.0 372.0,231.6 374.9,230.7 377.8,229.2 380.7,227.5 383.6,226.0 386.4,224.4 389.3,221.8 392.2,218.6 395.1,215.0 398.0,211.4 400.9,208.2 403.7,205.6 406.6,203.5 409.5,201.3 412.4,198.7 415.3,195.3 418.2,190.5 421.0,185.0 423.9,179.8 426.8,175.2 429.7,170.8 432.6,166.6 435.5,162.9 438.3,160.0 441.2,157.4 444.1,155.1 447.0,153.1 449.9,151.3 452.8,149.7 455.7,148.3 458.5,146.9 461.4,145.6 464.3,144.5 467.2,143.6 470.1,142.9 473.0,141.2 475.8,139.8 478.7,138.7 481.6,137.7 484.5,137.0 487.4,136.5 490.3,136.2 493.1,136.0 496.0,135.9 498.9,136.0 501.8,136.1 504.7,136.3 507.6,136.5 510.4,136.8 513.3,137.1 516.2,137.4 519.1,137.6 522.0,137.8 524.9,137.9 527.8,138.0 530.6,137.9 533.5,137.7 536.4,137.3 539.3,136.8 542.2,136.1 545.1,135.1 547.9,134.0 550.8,132.6 553.7,131.0 556.6,129.2 559.5,127.2 562.4,125.1 565.2,123.1 568.1,122.0 571.0,120.9 573.9,119.7 576.8,118.6 579.7,117.5 582.5,116.5 585.4,115.5 588.3,114.6 591.2,113.8 594.1,113.1 597.0,112.5 599.9,112.1 602.7,111.7 605.6,111.6 608.5,111.5 611.4,111.6 614.3,111.8 617.2,112.1 620.0,112.5 622.9,113.1 625.8,113.6 628.7,114.3 631.6,115.0 634.5,115.8 637.3,116.6 640.2,117.4 643.1,118.3 646.0,119.2 648.9,120.1 651.8,121.0 654.6,121.9 657.5,122.9 660.4,124.4 663.3,126.5" fill="none" stroke="#68c7bc" stroke-opacity="0.65" stroke-width="2.8" stroke-linejoin="round" stroke-linecap="butt"/>
<polyline points="86.5,241.6 89.4,243.1 92.3,243.7 95.2,243.4 98.0,242.2 100.9,240.3 103.8,238.2 106.7,236.1 109.6,234.5 112.5,233.3 115.3,232.8 118.2,232.9 121.1,233.3 124.0,233.9 126.9,234.3 129.8,234.5 132.6,234.3 135.5,233.9 138.4,233.2 141.3,232.5 144.2,232.0 147.1,231.7 149.9,231.7 152.8,232.1 155.7,232.5 158.6,232.9 161.5,233.0 164.4,232.9 167.3,232.3 170.1,231.4 173.0,230.3 175.9,229.2 178.8,228.3 181.7,227.7 184.6,227.4 187.4,227.3 190.3,227.2 193.2,226.8 196.1,225.8 199.0,223.9 201.9,221.1 204.7,217.4 207.6,213.0 210.5,208.1 213.4,203.2 216.3,198.4 219.2,192.1 222.0,186.1 224.9,180.5 227.8,175.3 230.7,170.3 233.6,165.6 236.5,161.0 239.4,156.7 242.2,152.6 245.1,148.8 248.0,145.3 250.9,142.4 253.8,139.8 256.7,137.7 259.5,135.9 262.4,134.3 265.3,132.9 268.2,131.4 271.1,129.9 274.0,128.3 276.8,126.5 279.7,124.4 282.6,122.1 285.5,119.6 288.4,116.9 291.3,114.1 294.1,111.1 297.0,108.0 299.9,105.0 302.8,102.0 305.7,99.2 308.6,96.5 311.5,94.1 314.3,92.0 317.2,90.3 320.1,89.0 323.0,88.2 325.9,87.9 328.8,88.1 331.6,88.7 334.5,89.9 337.4,91.5 340.3,93.5 343.2,95.8 346.1,98.4 348.9,101.3 351.8,104.3 354.7,107.3 357.6,110.4 360.5,113.4 363.4,116.3 366.2,119.0 369.1,121.4 372.0,123.6 374.9,125.5 377.8,127.1 380.7,128.4 383.6,129.5" fill="none" stroke="#68c7bc" stroke-opacity="0.65" stroke-width="2.8" stroke-linejoin="round" stroke-linecap="butt"/>
<polyline points="383.6,129.5 386.4,130.3 389.3,130.8 392.2,131.2 395.1,131.4 398.0,131.5 400.9,131.5 403.7,131.5 406.6,131.6 409.5,131.6 412.4,131.7 415.3,131.9 418.2,132.2 421.0,132.6 423.9,133.0 426.8,133.4 429.7,133.9 432.6,134.3 435.5,134.7 438.3,134.9 441.2,135.0 444.1,134.8 447.0,134.5 449.9,133.9 452.8,133.0 455.7,131.8 458.5,130.4 461.4,128.7 464.3,126.8 467.2,124.6 470.1,122.4 473.0,120.1 475.8,117.8 478.7,115.5 481.6,113.5 484.5,111.6 487.4,110.1 490.3,109.1 493.1,108.4 496.0,108.3 498.9,108.8 501.8,109.8 504.7,111.4 507.6,113.6 510.4,116.4 513.3,119.6 516.2,123.3 519.1,127.4 522.0,131.8 524.9,136.4 527.8,141.0 530.6,145.7 533.5,150.2 536.4,154.5 539.3,158.4 542.2,162.0 545.1,165.1 547.9,167.6 550.8,169.6 553.7,170.9 556.6,171.6 559.5,171.8 562.4,171.3 565.2,170.1 568.1,168.4 571.0,166.1 573.9,163.4 576.8,160.4 579.7,157.1 582.5,153.7 585.4,150.2 588.3,146.8 591.2,143.4 594.1,140.1 597.0,137.1 599.9,134.2 602.7,131.5 605.6,129.1 608.5,126.9 611.4,124.9 614.3,123.0 617.2,121.3 620.0,119.7 622.9,118.1 625.8,116.5 628.7,114.9 631.6,113.2 634.5,111.4 637.3,109.5 640.2,107.4 643.1,105.2 646.0,102.9 648.9,100.4 651.8,97.8 654.6,95.3 657.5,92.7 660.4,90.1 663.3,87.7" fill="none" stroke="#30459c" stroke-opacity="0.68" stroke-width="2.8" stroke-linejoin="round" stroke-linecap="butt"/>
<polyline points="86.5,232.2 89.4,230.7 92.3,229.8 95.2,229.5 98.0,230.1 100.9,231.4 103.8,233.4 106.7,235.6 109.6,237.9 112.5,239.9 115.3,241.3 118.2,241.9 121.1,241.5 124.0,240.3 126.9,238.3 129.8,235.9 132.6,233.3 135.5,230.9 138.4,229.0 141.3,227.9 144.2,227.8 147.1,228.6 149.9,230.2 152.8,232.4 155.7,234.9 158.6,237.3 161.5,239.3 164.4,240.6 167.3,241.0 170.1,240.5 173.0,239.2 175.9,237.4 178.8,235.2 181.7,233.2 184.6,231.5 187.4,230.4 190.3,230.2 193.2,230.8 196.1,232.1 199.0,234.0 201.9,236.1 204.7,238.1 207.6,239.6 210.5,240.4 213.4,240.3 216.3,239.3 219.2,236.9 222.0,233.8 224.9,230.8 227.8,228.7 230.7,227.1 233.6,225.9 236.5,224.5 239.4,223.0 242.2,221.5 245.1,219.8 248.0,217.8 250.9,215.3 253.8,212.5 256.7,209.5 259.5,206.5 262.4,203.1 265.3,199.5 268.2,195.8 271.1,191.9 274.0,188.0 276.8,184.0 279.7,180.0 282.6,175.8 285.5,171.4 288.4,166.9 291.3,162.9 294.1,159.7 297.0,157.0 299.9,154.5 302.8,152.4 305.7,150.6 308.6,148.9 311.5,147.4 314.3,146.1 317.2,145.0 320.1,144.1 323.0,143.3 325.9,142.6 328.8,141.9 331.6,141.1 334.5,140.2 337.4,139.3 340.3,138.3 343.2,137.3 346.1,136.2 348.9,135.1 351.8,133.9 354.7,132.7 357.6,131.5 360.5,130.2 363.4,128.0 366.2,125.9 369.1,123.9 372.0,122.1 374.9,120.6 377.8,119.5 380.7,118.7 383.6,118.4 386.4,118.6 389.3,119.2 392.2,120.3 395.1,121.8 398.0,123.5 400.9,125.5 403.7,127.7 406.6,129.8 409.5,131.8 412.4,133.7 415.3,135.2 418.2,136.4 421.0,137.2 423.9,137.6 426.8,137.7 429.7,137.4 432.6,136.8 435.5,136.0 438.3,135.0 441.2,134.1 444.1,133.2" fill="none" stroke="#68c7bc" stroke-opacity="0.65" stroke-width="2.8" stroke-linejoin="round" stroke-linecap="butt"/>
<polyline points="444.1,133.2 447.0,132.5 449.9,132.0 452.8,131.8 455.7,131.9 458.5,132.2 461.4,132.9 464.3,133.8 467.2,134.9 470.1,136.1 473.0,137.3 475.8,138.4 478.7,139.4 481.6,140.3 484.5,140.9 487.4,141.2 490.3,141.3 493.1,141.1 496.0,140.6 498.9,140.0 501.8,139.3 504.7,138.5 507.6,137.8 510.4,137.1 513.3,136.6 516.2,136.2 519.1,136.1 522.0,136.1 524.9,136.4 527.8,136.8 530.6,137.2 533.5,137.8 536.4,138.3 539.3,138.7 542.2,138.9 545.1,139.0 547.9,138.8 550.8,138.4 553.7,137.7 556.6,136.9 559.5,135.9 562.4,134.8 565.2,133.6 568.1,132.3 571.0,131.0 573.9,130.0 576.8,129.2 579.7,128.7 582.5,128.5 585.4,128.7 588.3,129.2 591.2,130.0 594.1,131.0 597.0,132.1 599.9,133.3 602.7,134.4 605.6,135.4 608.5,136.1 611.4,136.4 614.3,136.4 617.2,136.0 620.0,135.1 622.9,133.8 625.8,132.2 628.7,130.3 631.6,128.1 634.5,125.9 637.3,123.5 640.2,121.2 643.1,119.0 646.0,117.0 648.9,115.1 651.8,113.5 654.6,112.1 657.5,110.9 660.4,109.9 663.3,108.9" fill="none" stroke="#30459c" stroke-opacity="0.68" stroke-width="2.8" stroke-linejoin="round" stroke-linecap="butt"/>
<polyline points="86.5,238.2 89.4,238.2 92.3,238.2 95.2,238.2 98.0,238.1 100.9,238.1 103.8,238.1 106.7,238.0 109.6,238.0 112.5,237.9 115.3,237.8 118.2,237.8 121.1,237.7 124.0,237.6 126.9,237.5 129.8,237.4 132.6,237.3 135.5,237.2 138.4,237.0 141.3,236.9 144.2,236.7 147.1,236.6 149.9,236.4 152.8,236.2 155.7,236.0 158.6,235.8 161.5,235.6 164.4,235.3 167.3,235.1 170.1,234.9 173.0,234.6 175.9,234.0 178.8,232.8 181.7,231.0 184.6,228.7 187.4,226.1 190.3,223.1 193.2,219.9 196.1,216.5 199.0,213.0 201.9,209.5 204.7,205.3 207.6,200.0 210.5,193.8 213.4,187.1 216.3,180.1 219.2,173.2 222.0,166.6 224.9,160.7 227.8,155.7 230.7,152.0 233.6,149.1 236.5,146.3 239.4,143.6 242.2,141.0 245.1,138.6 248.0,136.3 250.9,134.1 253.8,132.1 256.7,130.3 259.5,128.6 262.4,127.2 265.3,125.9 268.2,124.8 271.1,123.9 274.0,123.3 276.8,122.8 279.7,122.3 282.6,121.8 285.5,121.3 288.4,120.9 291.3,120.4 294.1,120.0 297.0,119.6 299.9,119.2 302.8,118.9 305.7,118.5 308.6,118.2 311.5,117.9 314.3,117.6 317.2,117.4 320.1,117.1 323.0,116.9 325.9,116.7 328.8,116.6 331.6,116.4 334.5,116.3 337.4,116.2 340.3,116.2 343.2,116.1 346.1,116.1 348.9,116.1 351.8,116.2 354.7,116.3 357.6,116.5 360.5,116.6 363.4,116.8 366.2,117.1 369.1,117.4 372.0,117.6 374.9,118.0 377.8,118.3 380.7,118.6 383.6,119.0 386.4,119.4 389.3,119.7 392.2,120.1 395.1,120.5 398.0,120.9 400.9,121.3 403.7,121.6 406.6,122.0 409.5,122.3 412.4,122.7 415.3,123.0 418.2,123.3 421.0,123.6 423.9,123.9 426.8,124.3 429.7,124.6 432.6,125.0 435.5,125.3 438.3,125.7 441.2,126.1 444.1,126.5 447.0,126.9 449.9,127.2 452.8,127.6 455.7,128.0 458.5,128.3 461.4,128.6" fill="none" stroke="#68c7bc" stroke-opacity="0.65" stroke-width="2.8" stroke-linejoin="round" stroke-linecap="butt"/>
<polyline points="461.4,128.6 464.3,129.0 467.2,129.2 470.1,129.5 473.0,129.8 475.8,130.0 478.7,130.1 481.6,130.3 484.5,130.4 487.4,130.5 490.3,130.5 493.1,130.4 496.0,130.3 498.9,130.2 501.8,129.9 504.7,129.6 507.6,129.3 510.4,128.8 513.3,128.4 516.2,127.9 519.1,127.3 522.0,126.7 524.9,126.0 527.8,125.4 530.6,124.6 533.5,123.9 536.4,123.1 539.3,122.3 542.2,121.4 545.1,120.6 547.9,119.7 550.8,118.7 553.7,117.3 556.6,115.7 559.5,113.8 562.4,111.8 565.2,109.8 568.1,107.7 571.0,105.6 573.9,103.6 576.8,101.8 579.7,99.9 582.5,98.0 585.4,95.9 588.3,93.9 591.2,91.9 594.1,90.1 597.0,88.4 599.9,86.9 602.7,85.7 605.6,84.8 608.5,83.9 611.4,83.2 614.3,82.6 617.2,82.4 620.0,83.0 622.9,84.8 625.8,86.7 628.7,87.4 631.6,86.3 634.5,83.9 637.3,80.9 640.2,77.9 643.1,75.5 646.0,73.0 648.9,70.5 651.8,68.3 654.6,66.4 657.5,65.0 660.4,63.8 663.3,63.0" fill="none" stroke="#30459c" stroke-opacity="0.68" stroke-width="2.8" stroke-linejoin="round" stroke-linecap="butt"/>
<polyline points="86.5,234.4 89.4,233.6 92.3,233.5 95.2,234.1 98.0,235.4 100.9,236.9 103.8,238.2 106.7,238.8 109.6,238.5 112.5,237.3 115.3,235.4 118.2,233.5 121.1,232.1 124.0,231.5 126.9,232.0 129.8,233.3 132.6,235.1 135.5,236.6 138.4,237.4 141.3,237.2 144.2,235.8 147.1,233.8 149.9,231.8 152.8,230.3 155.7,229.9 158.6,230.8 161.5,232.8 164.4,235.4 167.3,237.8 170.1,239.3 173.0,239.3 175.9,238.0 178.8,235.5 181.7,232.5 184.6,229.8 187.4,228.0 190.3,227.2 193.2,227.4 196.1,227.8 199.0,227.7 201.9,226.5 204.7,223.6 207.6,219.3 210.5,213.8 213.4,208.0 216.3,202.7 219.2,198.1 222.0,194.3 224.9,189.8 227.8,185.7 230.7,181.4 233.6,176.7 236.5,171.7 239.4,166.5 242.2,161.3 245.1,156.2 248.0,151.5 250.9,147.2 253.8,143.2 256.7,139.4 259.5,135.8 262.4,132.3 265.3,128.8 268.2,125.5 271.1,122.2 274.0,119.1 276.8,116.3 279.7,113.6 282.6,111.2 285.5,109.1 288.4,107.3 291.3,105.6 294.1,104.2 297.0,103.0 299.9,101.9 302.8,101.0 305.7,100.2 308.6,99.5 311.5,98.9 314.3,98.3 317.2,97.7 320.1,97.1 323.0,96.5 325.9,95.8 328.8,95.0 331.6,94.2 334.5,93.3 337.4,92.4 340.3,91.5 343.2,90.5 346.1,89.6 348.9,88.8 351.8,88.1 354.7,87.6 357.6,87.2 360.5,87.1 363.4,87.2 366.2,87.7 369.1,88.4 372.0,89.5 374.9,90.8 377.8,92.5 380.7,94.5 383.6,96.8 386.4,99.3 389.3,101.9 392.2,104.7 395.1,107.6 398.0,110.5 400.9,113.3 403.7,116.1 406.6,118.7 409.5,121.1 412.4,123.2 415.3,125.1 418.2,126.6 421.0,127.8 423.9,128.7 426.8,129.2 429.7,129.4 432.6,129.3 435.5,128.8 438.3,128.2 441.2,127.2 444.1,126.2 447.0,124.9 449.9,123.6 452.8,122.2 455.7,120.7 458.5,119.3 461.4,117.9 464.3,116.6 467.2,115.3 470.1,114.2 473.0,113.1 475.8,112.2 478.7,111.3 481.6,110.6 484.5,110.0 487.4,109.6 490.3,109.2 493.1,109.1 496.0,109.2 498.9,109.4 501.8,110.0 504.7,110.6 507.6,111.5 510.4,112.5 513.3,113.6 516.2,114.8 519.1,116.1 522.0,117.3 524.9,118.6 527.8,119.8 530.6,121.0 533.5,122.1 536.4,123.2 539.3,125.1 542.2,127.2 545.1,129.3 547.9,131.3 550.8,133.4 553.7,135.3 556.6,137.2 559.5,138.9 562.4,140.5 565.2,141.9 568.1,143.1 571.0,144.1 573.9,144.9 576.8,145.5 579.7,146.0 582.5,146.2 585.4,146.4 588.3,146.4 591.2,146.2 594.1,146.0 597.0,145.7 599.9,145.4 602.7,145.0 605.6,144.6 608.5,144.1 611.4,143.5 614.3,143.0 617.2,142.3 620.0,141.5 622.9,140.7 625.8,139.6 628.7,138.5 631.6,137.1 634.5,135.5 637.3,133.6 640.2,131.5 643.1,129.2 646.0,126.7 648.9,123.9 651.8,122.3 654.6,120.9 657.5,119.4 660.4,118.0 663.3,116.6" fill="none" stroke="#68c7bc" stroke-opacity="0.65" stroke-width="2.8" stroke-linejoin="round" stroke-linecap="butt"/>
<polyline points="86.5,235.3 89.4,232.1 92.3,228.9 95.2,226.2 98.0,224.4 100.9,223.6 103.8,224.0 106.7,225.2 109.6,226.8 112.5,228.5 115.3,229.9 118.2,230.8 121.1,231.1 124.0,230.9 126.9,230.4 129.8,229.9 132.6,229.4 135.5,229.1 138.4,229.0 141.3,228.8 144.2,228.5 147.1,227.7 149.9,226.3 152.8,224.3 155.7,221.7 158.6,218.8 161.5,215.8 164.4,213.1 167.3,210.7 170.1,208.8 173.0,207.2 175.9,205.7 178.8,204.1 181.7,202.2 184.6,199.7 187.4,196.8 190.3,192.5 193.2,188.0 196.1,183.4 199.0,178.9 201.9,174.8 204.7,171.0 207.6,167.5 210.5,164.2 213.4,161.0 216.3,157.8 219.2,154.6 222.0,151.3 224.9,148.0 227.8,144.8 230.7,141.8 233.6,139.1 236.5,136.6 239.4,134.4 242.2,132.6 245.1,130.9 248.0,129.4 250.9,128.1 253.8,126.7 256.7,125.4 259.5,124.1 262.4,122.7 265.3,121.3 268.2,120.0 271.1,118.6 274.0,117.3 276.8,116.1 279.7,115.0 282.6,114.0 285.5,113.2 288.4,112.5 291.3,111.9 294.1,111.3 297.0,110.9 299.9,110.5 302.8,110.1 305.7,109.7 308.6,109.2 311.5,108.7 314.3,108.1 317.2,107.4 320.1,106.6 323.0,105.9 325.9,105.1 328.8,104.4 331.6,103.8 334.5,103.4 337.4,103.3 340.3,103.5 343.2,104.1 346.1,105.2 348.9,106.6 351.8,108.6 354.7,111.0 357.6,113.7 360.5,116.9 363.4,120.3 366.2,123.9 369.1,127.6 372.0,131.3 374.9,134.9 377.8,138.3 380.7,141.4 383.6,144.1 386.4,146.5 389.3,148.4 392.2,149.9 395.1,151.0 398.0,151.7 400.9,152.1 403.7,152.1 406.6,152.0 409.5,151.7 412.4,151.4 415.3,151.0 418.2,150.7 421.0,150.4 423.9,150.2 426.8,150.2 429.7,150.2 432.6,150.3 435.5,150.5 438.3,150.6 441.2,150.8 444.1,150.8 447.0,150.8 449.9,150.6 452.8,150.3 455.7,149.8 458.5,149.2 461.4,148.5 464.3,147.6 467.2,146.7 470.1,145.7 473.0,144.8 475.8,143.9 478.7,143.0 481.6,142.2 484.5,141.6 487.4,141.0 490.3,140.6 493.1,140.3 496.0,140.0 498.9,139.8 501.8,139.7 504.7,139.6 507.6,139.4 510.4,139.3 513.3,139.2 516.2,139.0 519.1,138.9 522.0,138.9 524.9,139.0 527.8,139.2 530.6,139.6 533.5,140.3 536.4,141.3 539.3,142.6 542.2,144.2 545.1,146.2 547.9,148.5 550.8,151.1 553.7,153.9 556.6,156.9 559.5,160.0 562.4,163.0 565.2,166.0 568.1,168.7 571.0,171.2 573.9,173.2 576.8,174.8 579.7,175.9 582.5,176.5 585.4,176.5 588.3,176.0 591.2,175.1 594.1,173.8 597.0,172.1 599.9,170.1 602.7,168.0 605.6,165.8 608.5,163.7 611.4,161.5 614.3,159.5 617.2,157.7 620.0,156.0 622.9,154.6 625.8,153.3 628.7,152.1 631.6,151.1 634.5,150.1 637.3,149.1 640.2,148.1 643.1,147.0 646.0,145.9 648.9,144.6 651.8,143.1 654.6,141.6 657.5,139.9 660.4,138.2 663.3,136.4" fill="none" stroke="#68c7bc" stroke-opacity="0.65" stroke-width="2.8" stroke-linejoin="round" stroke-linecap="butt"/>
<polyline points="86.5,235.6 89.4,233.9 92.3,231.9 95.2,230.2 98.0,229.5 100.9,230.2 103.8,232.2 106.7,235.2 109.6,238.1 112.5,240.3 115.3,240.9 118.2,239.8 121.1,237.1 124.0,233.5 126.9,230.0 129.8,227.5 132.6,226.4 135.5,226.8 138.4,228.4 141.3,230.5 144.2,232.4 147.1,233.7 149.9,234.3 152.8,234.2 155.7,234.1 158.6,234.3 161.5,235.0 164.4,236.3 167.3,237.5 170.1,238.4 173.0,238.2 175.9,237.0 178.8,234.9 181.7,232.4" fill="none" stroke="#68c7bc" stroke-opacity="0.65" stroke-width="2.8" stroke-linejoin="round" stroke-linecap="butt"/>
<polyline points="181.7,232.4 184.6,230.4 187.4,229.5 190.3,230.3 193.2,232.6 196.1,235.8" fill="none" stroke="#eaf03c" stroke-opacity="0.8" stroke-width="2.8" stroke-linejoin="round" stroke-linecap="butt"/>
<polyline points="196.1,235.8 199.0,239.2 201.9,241.7 204.7,242.7 207.6,241.9 210.5,239.6 213.4,236.4 216.3,233.1 219.2,230.6 222.0,229.2 224.9,229.0 227.8,229.6 230.7,230.4 233.6,231.0 236.5,231.1 239.4,230.8 242.2,230.4 245.1,230.4 248.0,231.2 250.9,232.7 253.8,234.7 256.7,236.7 259.5,237.9 262.4,237.8 265.3,236.4 268.2,234.0 271.1,231.2 274.0,229.0 276.8,228.0 279.7,228.8 282.6,231.3 285.5,234.8 288.4,238.4 291.3,241.4 294.1,242.9 297.0,242.9 299.9,241.4 302.8,239.1 305.7,236.8 308.6,235.0 311.5,233.9 314.3,233.6 317.2,233.6 320.1,233.4 323.0,232.8 325.9,231.6 328.8,230.2 331.6,229.1 334.5,228.8 337.4,229.7 340.3,231.5 343.2,233.9 346.1,236.2 348.9,237.5 351.8,237.4 354.7,235.7 357.6,232.9 360.5,229.6 363.4,227.0 366.2,225.7 369.1,226.1 372.0,228.3 374.9,231.5 377.8,235.1 380.7,238.1 383.6,239.9 386.4,240.5 389.3,240.1 392.2,239.0 395.1,237.5 398.0,236.1 400.9,234.9 403.7,233.7 406.6,232.3 409.5,230.8 412.4,229.5 415.3,228.6 418.2,227.6 421.0,226.4 423.9,224.4 426.8,221.8 429.7,218.8 432.6,215.7 435.5,212.8 438.3,209.8 441.2,206.7 444.1,203.4 447.0,200.1 449.9,196.7 452.8,193.3 455.7,189.6 458.5,185.8 461.4,182.4 464.3,179.3 467.2,176.5 470.1,174.0 473.0,172.0 475.8,170.4 478.7,169.0 481.6,167.6 484.5,166.2 487.4,164.7 490.3,163.2 493.1,161.7 496.0,160.3 498.9,158.9 501.8,157.7 504.7,156.5 507.6,155.4 510.4,154.4 513.3,153.4 516.2,152.4 519.1,151.5 522.0,150.7 524.9,149.9 527.8,149.2 530.6,148.7 533.5,147.5 536.4,146.5 539.3,145.7 542.2,145.1 545.1,144.4 547.9,143.7 550.8,142.9 553.7,141.9 556.6,140.6 559.5,139.1 562.4,137.3" fill="none" stroke="#68c7bc" stroke-opacity="0.65" stroke-width="2.8" stroke-linejoin="round" stroke-linecap="butt"/>
<polyline points="562.4,137.3 565.2,135.1 568.1,132.6 571.0,129.8 573.9,126.8 576.8,123.7 579.7,120.6 582.5,117.4 585.4,114.4 588.3,111.5 591.2,108.8 594.1,106.3 597.0,104.0 599.9,102.0 602.7,100.1 605.6,98.3 608.5,96.7 611.4,95.2 614.3,93.7 617.2,92.2 620.0,90.7 622.9,89.1 625.8,87.4 628.7,85.7 631.6,83.9 634.5,82.0 637.3,80.1 640.2,78.2 643.1,76.2 646.0,74.3 648.9,72.5 651.8,70.7 654.6,68.9 657.5,67.2 660.4,65.5 663.3,63.8" fill="none" stroke="#30459c" stroke-opacity="0.68" stroke-width="2.8" stroke-linejoin="round" stroke-linecap="butt"/>
<polyline points="86.5,239.8 89.4,241.8 92.3,242.6 95.2,242.0 98.0,240.3 100.9,237.9 103.8,235.3 106.7,233.2 109.6,231.8 112.5,231.4 115.3,231.9 118.2,232.9 121.1,234.0 124.0,234.8 126.9,235.2 129.8,235.1 132.6,234.6 135.5,234.0 138.4,233.6 141.3,233.5 144.2,233.8 147.1,234.1 149.9,234.2 152.8,233.6 155.7,232.1 158.6,229.4 161.5,225.8 164.4,221.5 167.3,217.1 170.1,213.1 173.0,209.8 175.9,207.3 178.8,205.5 181.7,204.0 184.6,202.3 187.4,199.7 190.3,195.6 193.2,190.7 196.1,185.2 199.0,179.7 201.9,174.5 204.7,169.8 207.6,165.9 210.5,162.7 213.4,160.2 216.3,158.2 219.2,156.6 222.0,155.3 224.9,154.2 227.8,153.2 230.7,152.3 233.6,151.5 236.5,150.7 239.4,150.0 242.2,149.3 245.1,148.7 248.0,148.1 250.9,147.5 253.8,146.8 256.7,146.2 259.5,145.6 262.4,145.0 265.3,144.4 268.2,143.8 271.1,143.3 274.0,142.7 276.8,142.2 279.7,141.7 282.6,141.1 285.5,140.5 288.4,139.8 291.3,139.0 294.1,138.1 297.0,137.0 299.9,135.8 302.8,134.4 305.7,132.9 308.6,131.1 311.5,129.2 314.3,127.1 317.2,124.9 320.1,122.6 323.0,120.3 325.9,117.9 328.8,115.6 331.6,113.5 334.5,111.5 337.4,109.7 340.3,108.3 343.2,107.2 346.1,106.5 348.9,106.1 351.8,106.3 354.7,106.8 357.6,107.8 360.5,109.3 363.4,111.1 366.2,113.2 369.1,115.7 372.0,118.4 374.9,121.2 377.8,124.2 380.7,127.1 383.6,130.0 386.4,132.9 389.3,135.5 392.2,138.0 395.1,140.2 398.0,142.1 400.9,143.7 403.7,145.1 406.6,146.1 409.5,147.0 412.4,147.6 415.3,147.9 418.2,148.2 421.0,148.3 423.9,148.4 426.8,148.5 429.7,148.6 432.6,148.7 435.5,148.8 438.3,149.1 441.2,149.4 444.1,149.8 447.0,150.3 449.9,150.7 452.8,151.2 455.7,151.6 458.5,151.9 461.4,152.0 464.3,152.0 467.2,151.7 470.1,151.2 473.0,150.4 475.8,149.3 478.7,147.8 481.6,146.1 484.5,144.1 487.4,141.7 490.3,139.2 493.1,136.5 496.0,133.6 498.9,130.6 501.8,127.7 504.7,124.7 507.6,122.1 510.4,119.9 513.3,118.0 516.2,116.6 519.1,115.6 522.0,115.0 524.9,114.7 527.8,114.7 530.6,114.9 533.5,115.3 536.4,115.8 539.3,116.4 542.2,117.1 545.1,117.7 547.9,118.4 550.8,119.1 553.7,119.8 556.6,120.7 559.5,121.6 562.4,122.5 565.2,123.8 568.1,126.0 571.0,128.3 573.9,130.6 576.8,133.0 579.7,135.3 582.5,137.7 585.4,140.0 588.3,142.3 591.2,144.5 594.1,146.7 597.0,148.8 599.9,150.7 602.7,152.5 605.6,154.1 608.5,155.6 611.4,156.8 614.3,157.7 617.2,158.4 620.0,158.9 622.9,159.0 625.8,158.9 628.7,158.4 631.6,157.7 634.5,156.8 637.3,155.7 640.2,154.4 643.1,152.9 646.0,151.3 648.9,149.7 651.8,148.1 654.6,146.4 657.5,144.9 660.4,143.4 663.3,142.0" fill="none" stroke="#68c7bc" stroke-opacity="0.65" stroke-width="2.8" stroke-linejoin="round" stroke-linecap="butt"/>
<polyline points="86.5,234.7 89.4,232.4 92.3,230.9 95.2,230.8 98.0,231.7 100.9,233.3 103.8,234.8 106.7,235.7 109.6,235.7 112.5,235.0 115.3,234.1 118.2,233.6 121.1,234.0 124.0,235.5 126.9,237.7 129.8,240.0 132.6,241.5 135.5,241.6 138.4,239.9 141.3,236.7 144.2,232.7 147.1,228.9 149.9,226.1 152.8,224.8 155.7,225.0 158.6,226.3 161.5,227.8 164.4,228.7 167.3,228.5 170.1,227.0 173.0,224.6 175.9,221.7 178.8,219.0 181.7,216.7 184.6,214.7 187.4,212.8 190.3,210.6 193.2,207.1 196.1,201.8 199.0,195.7 201.9,189.1 204.7,182.3 207.6,175.8 210.5,169.5 213.4,163.6 216.3,157.9 219.2,152.5 222.0,147.4 224.9,142.6 227.8,138.4 230.7,134.8 233.6,132.0 236.5,130.0 239.4,128.8 242.2,128.3 245.1,128.5 248.0,129.2 250.9,130.3 253.8,131.6 256.7,133.2 259.5,134.9 262.4,136.7 265.3,138.4 268.2,140.0 271.1,141.4 274.0,142.6 276.8,143.6 279.7,144.3 282.6,144.8 285.5,145.0 288.4,145.0 291.3,144.9 294.1,144.5 297.0,144.0 299.9,143.3 302.8,142.5 305.7,141.6 308.6,140.5 311.5,139.4 314.3,138.2 317.2,137.0 320.1,135.6 323.0,134.2 325.9,132.8 328.8,131.3 331.6,129.8 334.5,128.3 337.4,126.9 340.3,125.4 343.2,124.1 346.1,122.9 348.9,121.7 351.8,120.7 354.7,119.9 357.6,119.2 360.5,118.6 363.4,118.2 366.2,117.9 369.1,117.6 372.0,117.4 374.9,117.2" fill="none" stroke="#68c7bc" stroke-opacity="0.65" stroke-width="2.8" stroke-linejoin="round" stroke-linecap="butt"/>
<polyline points="374.9,117.2 377.8,117.0 380.7,116.6 383.6,116.2 386.4,115.6 389.3,114.9 392.2,114.1 395.1,113.1 398.0,112.1 400.9,111.0 403.7,109.9 406.6,108.9 409.5,108.1 412.4,107.5 415.3,107.2 418.2,107.3 421.0,107.9 423.9,109.0 426.8,110.5 429.7,112.7 432.6,115.3 435.5,118.4 438.3,121.8 441.2,125.6 444.1,129.5 447.0,133.5 449.9,137.5 452.8,141.2 455.7,144.5 458.5,147.4 461.4,149.7 464.3,151.2 467.2,152.0 470.1,152.1 473.0,151.3 475.8,149.7 478.7,147.4 481.6,144.4 484.5,140.9 487.4,136.9 490.3,132.6 493.1,128.2 496.0,123.7 498.9,119.4 501.8,115.3 504.7,111.5 507.6,108.2 510.4,105.4 513.3,103.1 516.2,101.3 519.1,100.1 522.0,99.5 524.9,99.3 527.8,99.5 530.6,100.1 533.5,101.0 536.4,102.1 539.3,103.4 542.2,104.8 545.1,106.3 547.9,107.8 550.8,109.3 553.7,110.8 556.6,112.4 559.5,114.0 562.4,115.6 565.2,117.2 568.1,119.0 571.0,120.7 573.9,122.6 576.8,124.6 579.7,126.6 582.5,128.6 585.4,130.7 588.3,132.7 591.2,134.6 594.1,136.3 597.0,137.7 599.9,138.9 602.7,139.7 605.6,140.1 608.5,140.1 611.4,139.7 614.3,138.8 617.2,137.5 620.0,135.8 622.9,133.8 625.8,131.5 628.7,129.0 631.6,126.4 634.5,123.8 637.3,121.2 640.2,118.8 643.1,116.5 646.0,114.4 648.9,112.6 651.8,111.0 654.6,109.7 657.5,108.6 660.4,107.7 663.3,106.9" fill="none" stroke="#30459c" stroke-opacity="0.68" stroke-width="2.8" stroke-linejoin="round" stroke-linecap="butt"/>
<polyline points="86.5,237.4 89.4,236.2 92.3,233.8 95.2,230.7 98.0,227.4 100.9,224.6 103.8,222.9 106.7,222.6 109.6,223.7 112.5,226.0 115.3,228.8 118.2,231.5 121.1,233.4 124.0,234.0 126.9,233.0 129.8,230.6 132.6,227.2 135.5,223.3 138.4,219.7 141.3,216.7 144.2,214.8 147.1,213.7 149.9,213.2 152.8,212.6 155.7,211.3 158.6,208.9 161.5,205.2 164.4,199.8 167.3,192.8 170.1,185.1 173.0,177.4 175.9,170.0 178.8,163.2 181.7,157.1 184.6,151.8 187.4,147.1 190.3,143.1 193.2,139.6 196.1,136.6 199.0,134.2 201.9,132.3 204.7,131.1 207.6,130.5 210.5,130.4 213.4,130.9 216.3,131.8 219.2,132.9 222.0,134.4 224.9,135.8 227.8,137.3 230.7,138.7 233.6,139.9 236.5,140.9 239.4,141.7 242.2,142.2 245.1,142.4 248.0,142.3 250.9,142.0 253.8,141.4 256.7,140.7 259.5,139.9 262.4,139.0 265.3,138.0 268.2,137.0 271.1,136.1 274.0,135.2 276.8,134.4 279.7,133.8 282.6,133.2 285.5,132.8 288.4,132.5 291.3,132.4 294.1,132.3 297.0,132.2 299.9,132.3 302.8,132.3 305.7,132.3 308.6,132.2 311.5,132.1 314.3,132.0 317.2,131.7 320.1,131.3 323.0,130.8 325.9,130.2 328.8,129.4 331.6,128.6 334.5,127.7 337.4,126.7 340.3,125.6 343.2,124.5 346.1,123.3 348.9,122.0 351.8,120.8 354.7,119.5 357.6,118.2 360.5,116.9 363.4,115.7 366.2,114.4 369.1,113.1 372.0,111.9 374.9,110.7 377.8,109.6 380.7,108.5 383.6,107.5 386.4,106.6 389.3,105.9 392.2,105.3 395.1,104.8 398.0,104.5 400.9,104.4 403.7,104.5 406.6,104.8 409.5,105.3 412.4,105.9 415.3,106.8 418.2,107.9 421.0,109.1 423.9,110.4 426.8,111.9 429.7,113.4 432.6,115.0 435.5,116.6 438.3,118.2 441.2,119.8 444.1,121.4 447.0,123.0 449.9,124.5 452.8,126.0 455.7,127.6 458.5,129.1 461.4,130.6 464.3,132.2 467.2,133.9 470.1,135.6 473.0,137.5 475.8,139.5 478.7,141.6 481.6,143.9 484.5,146.2 487.4,148.7 490.3,151.2 493.1,153.7 496.0,156.2 498.9,158.6 501.8,160.8 504.7,162.8 507.6,164.5 510.4,165.9 513.3,166.8 516.2,167.3 519.1,167.3 522.0,166.8 524.9,165.9 527.8,164.4 530.6,162.5 533.5,160.2 536.4,157.5 539.3,154.6 542.2,151.5 545.1,148.3 547.9,145.1 550.8,142.0 553.7,139.1 556.6,136.4 559.5,134.0 562.4,131.9 565.2,130.3 568.1,129.0 571.0,128.2 573.9,127.7 576.8,127.5 579.7,127.7 582.5,128.0 585.4,128.4 588.3,128.9 591.2,129.4 594.1,129.7 597.0,129.9 599.9,129.8 602.7,129.4 605.6,128.7 608.5,127.7 611.4,126.3 614.3,124.6 617.2,123.0 620.0,122.1 622.9,121.1 625.8,120.0 628.7,119.0 631.6,118.0 634.5,117.2 637.3,116.4 640.2,115.8 643.1,115.4 646.0,115.1 648.9,115.1 651.8,115.3 654.6,115.8 657.5,116.4 660.4,117.2 663.3,118.1" fill="none" stroke="#68c7bc" stroke-opacity="0.65" stroke-width="2.8" stroke-linejoin="round" stroke-linecap="butt"/>
<polyline points="86.5,230.3 89.4,231.1" fill="none" stroke="#68c7bc" stroke-opacity="0.65" stroke-width="2.8" stroke-linejoin="round" stroke-linecap="butt"/>
<polyline points="89.4,231.1 92.3,232.7 95.2,235.0 98.0,237.7 100.9,240.2 103.8,241.7" fill="none" stroke="#eaf03c" stroke-opacity="0.8" stroke-width="2.8" stroke-linejoin="round" stroke-linecap="butt"/>
<polyline points="103.8,241.7 106.7,241.9 109.6,240.4 112.5,237.6 115.3,234.1 118.2,230.6 121.1,228.1 124.0,227.2 126.9,227.9 129.8,230.0 132.6,232.9 135.5,235.7 138.4,237.7 141.3,238.4 144.2,237.7 147.1,235.9 149.9,233.6 152.8,231.5 155.7,230.0 158.6,229.4 161.5,229.6 164.4,230.2 167.3,230.8 170.1,231.2 173.0,231.1 175.9,230.8 178.8,230.5 181.7,230.7 184.6,231.5 187.4,233.2 190.3,235.2 193.2,237.1 196.1,238.3 199.0,238.2 201.9,236.6 204.7,233.9 207.6,230.4 210.5,227.1 213.4,224.8 216.3,224.1 219.2,225.2 222.0,227.9 224.9,231.4 227.8,234.9 230.7,237.0 233.6,236.8 236.5,234.8 239.4,232.0 242.2,228.9 245.1,226.0 248.0,223.5 250.9,221.4 253.8,219.3 256.7,216.7 259.5,213.4 262.4,209.8 265.3,206.1 268.2,201.9 271.1,197.5 274.0,192.9 276.8,188.1 279.7,183.2 282.6,178.4 285.5,173.1 288.4,167.7 291.3,162.8 294.1,159.1 297.0,155.9 299.9,153.2 302.8,151.0 305.7,148.9 308.6,147.2 311.5,145.7 314.3,144.6 317.2,143.6 320.1,142.8 323.0,141.9 325.9,140.9 328.8,139.8 331.6,138.6 334.5,137.3 337.4,136.0 340.3,134.6 343.2,133.2 346.1,131.7 348.9,130.8 351.8,132.2 354.7,133.3 357.6,134.2 360.5,134.8 363.4,134.9 366.2,134.7 369.1,134.2 372.0,133.2 374.9,132.0 377.8,130.4 380.7,128.8 383.6,127.0 386.4,125.2 389.3,123.5 392.2,121.9 395.1,120.5 398.0,119.3 400.9,118.4 403.7,117.7 406.6,117.2 409.5,116.9 412.4,116.8 415.3,116.8 418.2,116.9 421.0,117.0 423.9,117.0 426.8,117.1 429.7,117.1 432.6,117.1 435.5,117.1 438.3,117.2 441.2,117.2 444.1,117.4 447.0,117.7 449.9,118.1 452.8,118.7 455.7,119.5 458.5,120.5 461.4,121.7 464.3,123.1 467.2,124.6 470.1,126.2 473.0,128.0 475.8,129.8 478.7,131.7 481.6,133.6 484.5,135.6 487.4,137.5 490.3,139.5 493.1,141.5 496.0,143.6 498.9,145.8 501.8,148.1 504.7,150.5 507.6,153.0 510.4,155.6 513.3,158.3 516.2,161.1 519.1,163.9 522.0,166.8 524.9,169.5 527.8,172.1 530.6,174.6 533.5,176.8 536.4,178.8 539.3,180.4 542.2,181.7 545.1,182.7 547.9,183.4 550.8,183.7 553.7,183.9 556.6,183.7 559.5,183.5 562.4,183.0 565.2,182.5 568.1,182.0 571.0,181.4 573.9,180.8 576.8,180.1 579.7,179.4 582.5,178.6 585.4,177.7 588.3,176.7 591.2,175.6 594.1,174.2 597.0,172.7 599.9,171.0 602.7,169.2 605.6,167.1 608.5,165.1 611.4,162.9 614.3,160.8 617.2,158.8 620.0,157.0 622.9,155.3 625.8,153.9 628.7,152.8 631.6,152.0 634.5,151.5 637.3,151.2 640.2,151.0 643.1,151.0 646.0,151.1 648.9,151.1 651.8,151.1 654.6,150.9 657.5,150.5 660.4,150.0 663.3,149.2" fill="none" stroke="#68c7bc" stroke-opacity="0.65" stroke-width="2.8" stroke-linejoin="round" stroke-linecap="butt"/>
<polyline points="86.5,233.0 89.4,234.2 92.3,235.4 95.2,236.4 98.0,237.1 100.9,237.7 103.8,238.2 106.7,238.9 109.6,239.6 112.5,240.5 115.3,241.5 118.2,242.2 121.1,242.6 124.0,242.4 126.9,241.6 129.8,240.2 132.6,238.5 135.5,236.8 138.4,235.4 141.3,234.8 144.2,234.9 147.1,235.9 149.9,237.3 152.8,238.8 155.7,239.9 158.6,240.3 161.5,239.7 164.4,238.0 167.3,235.6 170.1,232.8 173.0,230.2 175.9,228.4 178.8,227.8 181.7,228.6 184.6,230.6 187.4,233.5 190.3,236.8 193.2,239.8 196.1,241.9 199.0,242.9 201.9,242.6 204.7,241.3 207.6,239.4 210.5,237.3 213.4,235.7 216.3,234.9 219.2,235.1 222.0,236.2 224.9,238.0 227.8,239.9 230.7,241.6 233.6,242.5 236.5,241.5 239.4,238.8" fill="none" stroke="#68c7bc" stroke-opacity="0.65" stroke-width="2.8" stroke-linejoin="round" stroke-linecap="butt"/>
<polyline points="239.4,238.8 242.2,235.4 245.1,232.0 248.0,228.6 250.9,225.5" fill="none" stroke="#eaf03c" stroke-opacity="0.8" stroke-width="2.8" stroke-linejoin="round" stroke-linecap="butt"/>
<polyline points="250.9,225.5 253.8,222.8 256.7,220.6 259.5,218.2 262.4,215.0 265.3,211.4 268.2,207.6 271.1,203.3 274.0,198.8 276.8,194.0 279.7,189.0 282.6,183.9 285.5,178.9 288.4,173.3 291.3,167.7 294.1,163.0 297.0,159.4 299.9,156.3 302.8,153.7 305.7,151.5 308.6,149.5 311.5,147.9 314.3,146.6 317.2,145.6 320.1,144.7 323.0,143.8 325.9,142.8 328.8,141.6 331.6,140.3 334.5,139.0 337.4,137.6 340.3,136.2 343.2,134.6 346.1,133.1 348.9,132.1 351.8,130.8 354.7,129.2 357.6,127.2 360.5,124.9 363.4,122.2 366.2,119.3 369.1,116.3 372.0,113.1 374.9,109.9 377.8,106.9 380.7,104.1 383.6,101.7 386.4,99.8 389.3,98.4 392.2,97.5 395.1,97.4 398.0,97.8 400.9,98.8 403.7,100.4 406.6,102.4 409.5,104.7 412.4,107.3 415.3,110.1 418.2,112.8 421.0,115.5 423.9,118.0 426.8,120.3 429.7,122.3 432.6,123.9 435.5,125.3 438.3,126.3 441.2,127.1 444.1,127.8 447.0,128.3 449.9,128.8 452.8,129.4 455.7,130.2 458.5,131.1 461.4,132.3 464.3,133.8 467.2,135.6 470.1,137.7 473.0,140.0 475.8,142.6 478.7,145.3 481.6,148.0 484.5,150.7 487.4,153.4 490.3,155.8 493.1,157.9 496.0,159.7 498.9,161.0 501.8,162.0 504.7,162.5 507.6,162.5 510.4,162.1" fill="none" stroke="#68c7bc" stroke-opacity="0.65" stroke-width="2.8" stroke-linejoin="round" stroke-linecap="butt"/>
<polyline points="510.4,162.1 513.3,161.3 516.2,160.1 519.1,158.6 522.0,156.9 524.9,155.0 527.8,152.9 530.6,150.7 533.5,148.5 536.4,146.3 539.3,144.1 542.2,141.9 545.1,139.7 547.9,137.6 550.8,135.5 553.7,133.5 556.6,131.6 559.5,129.7 562.4,127.8 565.2,126.0 568.1,124.2 571.0,122.5 573.9,120.9 576.8,119.4 579.7,118.2 582.5,117.1 585.4,116.3 588.3,115.8 591.2,115.5 594.1,115.5 597.0,115.6 599.9,116.0 602.7,116.4 605.6,117.0 608.5,117.5 611.4,118.0 614.3,118.4 617.2,118.7 620.0,118.7 622.9,118.6 625.8,118.2 628.7,117.6 631.6,116.9 634.5,116.0 637.3,115.0 640.2,114.0 643.1,113.1 646.0,112.4 648.9,111.9 651.8,111.6 654.6,111.8 657.5,112.3 660.4,113.1 663.3,114.4" fill="none" stroke="#30459c" stroke-opacity="0.68" stroke-width="2.8" stroke-linejoin="round" stroke-linecap="butt"/>
<polyline points="86.5,227.3 89.4,230.4 92.3,233.5 95.2,236.2 98.0,238.0 100.9,238.6 103.8,238.0 106.7,236.1 109.6,233.3 112.5,230.0 115.3,226.6 118.2,223.7 121.1,221.5 124.0,220.2 126.9,219.8 129.8,220.1 132.6,220.8 135.5,221.3 138.4,221.2 141.3,220.2 144.2,218.2 147.1,214.9 149.9,210.7 152.8,205.8 155.7,200.7 158.6,195.6 161.5,191.0 164.4,186.8 167.3,183.0 170.1,179.8 173.0,177.2 175.9,175.0 178.8,173.0 181.7,171.1 184.6,169.0 187.4,166.9 190.3,164.6 193.2,162.2 196.1,159.7 199.0,157.1 201.9,154.5 204.7,151.9 207.6,149.2 210.5,146.4 213.4,143.6 216.3,140.7 219.2,137.7 222.0,134.6 224.9,131.5 227.8,128.5 230.7,125.5 233.6,122.7 236.5,120.0 239.4,117.6 242.2,115.5 245.1,113.6 248.0,112.1 250.9,111.0 253.8,110.2 256.7,109.8 259.5,109.7 262.4,110.0 265.3,110.6 268.2,111.6 271.1,112.9 274.0,114.4 276.8,116.3 279.7,118.4 282.6,120.7 285.5,123.2 288.4,125.8 291.3,128.6 294.1,131.3 297.0,134.0 299.9,136.7 302.8,139.1 305.7,141.2 308.6,143.0 311.5,144.4 314.3,145.3 317.2,145.7 320.1,145.5 323.0,144.7 325.9,143.2 328.8,141.2 331.6,138.6 334.5,135.6 337.4,132.1 340.3,128.3 343.2,124.4 346.1,120.4 348.9,116.4 351.8,112.6 354.7,109.2 357.6,106.3 360.5,103.8 363.4,102.1 366.2,101.0 369.1,100.7 372.0,101.2 374.9,102.4 377.8,104.3 380.7,106.9 383.6,110.1 386.4,113.7 389.3,117.8 392.2,122.1 395.1,126.6 398.0,131.2 400.9,135.7 403.7,140.1 406.6,144.2 409.5,148.1 412.4,151.7 415.3,154.9 418.2,157.7 421.0,160.1 423.9,162.1 426.8,163.7 429.7,164.9 432.6,165.8 435.5,166.3 438.3,166.5 441.2,166.4 444.1,166.1 447.0,165.4 449.9,164.6 452.8,163.5 455.7,162.2 458.5,160.7 461.4,159.0 464.3,157.2 467.2,155.2 470.1,153.2 473.0,151.2 475.8,149.1 478.7,147.1 481.6,145.2 484.5,143.4 487.4,141.9 490.3,140.5 493.1,139.4 496.0,138.7 498.9,138.2 501.8,138.1 504.7,138.2 507.6,138.7 510.4,139.5 513.3,140.5 516.2,141.8 519.1,143.2 522.0,144.8 524.9,146.4 527.8,148.2 530.6,149.9 533.5,151.7 536.4,153.4 539.3,155.1 542.2,156.8 545.1,158.5 547.9,160.1 550.8,161.7 553.7,163.3 556.6,164.9 559.5,166.5 562.4,168.0 565.2,169.5 568.1,170.9 571.0,172.2 573.9,173.3 576.8,174.3 579.7,174.9 582.5,175.2 585.4,175.1 588.3,174.6 591.2,173.6 594.1,172.1 597.0,170.0 599.9,167.4 602.7,164.4 605.6,160.8 608.5,156.9 611.4,152.7 614.3,148.3 617.2,143.8 620.0,139.3 622.9,135.0 625.8,131.1 628.7,127.5 631.6,124.5 634.5,122.8 637.3,122.0 640.2,121.6 643.1,121.5 646.0,121.8 648.9,122.4 651.8,123.3 654.6,126.1 657.5,129.3 660.4,133.1 663.3,137.2" fill="none" stroke="#68c7bc" stroke-opacity="0.65" stroke-width="2.8" stroke-linejoin="round" stroke-linecap="butt"/>
<polyline points="86.5,227.9 89.4,227.8 92.3,228.7 95.2,230.4 98.0,232.5 100.9,234.8 103.8,236.6 106.7,237.7 109.6,237.8 112.5,236.7 115.3,234.8 118.2,232.2 121.1,229.4 124.0,226.8 126.9,225.0 129.8,224.1 132.6,224.2 135.5,225.3 138.4,227.2 141.3,229.3 144.2,231.3 147.1,232.7 149.9,233.3 152.8,232.8 155.7,231.4 158.6,229.3 161.5,226.9 164.4,224.6 167.3,222.7 170.1,221.6 173.0,221.4 175.9,222.1 178.8,223.4 181.7,224.9 184.6,226.3 187.4,227.0 190.3,226.9 193.2,225.8 196.1,223.6" fill="none" stroke="#68c7bc" stroke-opacity="0.65" stroke-width="2.8" stroke-linejoin="round" stroke-linecap="butt"/>
<polyline points="196.1,223.6 199.0,220.7 201.9,217.3 204.7,213.8" fill="none" stroke="#eaf03c" stroke-opacity="0.8" stroke-width="2.8" stroke-linejoin="round" stroke-linecap="butt"/>
<polyline points="204.7,213.8 207.6,210.6 210.5,208.0 213.4,205.9 216.3,204.6 219.2,203.7 222.0,203.2 224.9,202.7 227.8,202.0 230.7,201.0 233.6,198.6 236.5,194.4 239.4,190.1 242.2,185.8 245.1,181.8 248.0,178.2 250.9,175.1 253.8,172.3 256.7,169.9 259.5,167.6 262.4,165.3 265.3,162.8 268.2,160.1 271.1,156.9 274.0,153.4 276.8,149.6 279.7,145.4 282.6,141.2 285.5,136.9 288.4,132.6 291.3,128.6 294.1,124.7 297.0,121.1 299.9,117.9 302.8,114.9 305.7,112.3 308.6,110.0 311.5,108.0 314.3,106.3 317.2,105.0 320.1,104.0 323.0,103.3 325.9,102.9 328.8,102.7 331.6,102.8 334.5,103.1 337.4,103.5 340.3,104.0 343.2,104.6 346.1,105.2 348.9,105.9 351.8,106.5 354.7,107.1 357.6,107.7 360.5,108.3 363.4,108.8 366.2,109.3 369.1,109.8 372.0,110.3 374.9,110.7 377.8,111.1 380.7,111.4 383.6,111.8 386.4,112.0 389.3,112.3 392.2,112.5 395.1,112.6 398.0,112.8 400.9,112.9 403.7,112.9 406.6,113.0 409.5,113.1 412.4,113.3 415.3,113.6 418.2,114.0 421.0,114.5 423.9,115.2 426.8,116.2 429.7,117.4 432.6,118.8 435.5,120.5 438.3,122.5 441.2,124.8 444.1,127.3 447.0,130.1 449.9,133.0 452.8,136.0 455.7,139.1 458.5,142.1 461.4,145.1 464.3,147.9 467.2,150.4 470.1,152.7 473.0,154.5 475.8,156.0 478.7,156.9 481.6,157.4 484.5,157.3 487.4,156.8 490.3,155.8 493.1,154.3 496.0,152.5 498.9,150.4 501.8,148.1 504.7,145.6 507.6,143.0 510.4,140.5 513.3,138.0 516.2,135.7 519.1,133.6 522.0,131.8 524.9,130.2 527.8,128.9 530.6,128.0 533.5,127.2 536.4,126.7 539.3,126.4 542.2,126.2 545.1,126.1 547.9,125.9 550.8,125.7 553.7,125.4 556.6,124.9 559.5,124.2 562.4,123.4 565.2,122.8 568.1,122.3 571.0,121.6 573.9,120.9 576.8,120.1 579.7,119.4 582.5,118.7 585.4,118.0 588.3,117.4 591.2,117.0 594.1,116.7 597.0,116.6 599.9,116.7 602.7,117.0 605.6,117.5 608.5,118.1 611.4,119.0 614.3,120.0 617.2,121.1 620.0,122.3 622.9,123.8 625.8,126.5 628.7,129.1 631.6,131.6 634.5,133.8 637.3,135.7 640.2,137.3 643.1,138.4 646.0,139.2 648.9,139.6 651.8,139.6 654.6,139.2 657.5,138.7 660.4,137.9 663.3,137.0" fill="none" stroke="#68c7bc" stroke-opacity="0.65" stroke-width="2.8" stroke-linejoin="round" stroke-linecap="butt"/>
<polyline points="86.5,230.9 89.4,233.8 92.3,236.1 95.2,237.2 98.0,236.8 100.9,235.2 103.8,232.9 106.7,230.5 109.6,228.8 112.5,228.2 115.3,229.1 118.2,231.1 121.1,233.7 124.0,236.4 126.9,238.3 129.8,239.1 132.6,238.5 135.5,236.9 138.4,234.6 141.3,232.3 144.2,230.5 147.1,229.6 149.9,229.7 152.8,230.7 155.7,232.1 158.6,233.5 161.5,234.6 164.4,235.1 167.3,235.0 170.1,234.4 173.0,233.7 175.9,233.2 178.8,233.1 181.7,233.3 184.6,233.8 187.4,234.3 190.3,234.5 193.2,234.3 196.1,233.7 199.0,232.8 201.9,231.9 204.7,231.3 207.6,231.3 210.5,231.8 213.4,232.7 216.3,233.6 219.2,234.3 222.0,234.2 224.9,233.4 227.8,231.8 230.7,229.9 233.6,228.2 236.5,227.1 239.4,227.2 242.2,228.5 245.1,230.9 248.0,233.8 250.9,236.7 253.8,238.8 256.7,239.6 259.5,239.0 262.4,237.2 265.3,234.6 268.2,232.1 271.1,230.3 274.0,229.7 276.8,230.5 279.7,232.5 282.6,235.0 285.5,237.4 288.4,238.9 291.3,239.2 294.1,238.0 297.0,235.6 299.9,232.6 302.8,229.7 305.7,227.6 308.6,226.8 311.5,227.3 314.3,229.0" fill="none" stroke="#68c7bc" stroke-opacity="0.65" stroke-width="2.8" stroke-linejoin="round" stroke-linecap="butt"/>
<polyline points="314.3,229.0 317.2,231.3 320.1,233.6 323.0,235.3 325.9,236.1 328.8,235.9" fill="none" stroke="#eaf03c" stroke-opacity="0.8" stroke-width="2.8" stroke-linejoin="round" stroke-linecap="butt"/>
<polyline points="328.8,235.9 331.6,234.9 334.5,233.5 337.4,232.1 340.3,231.2 343.2,230.9 346.1,231.3 348.9,232.1 351.8,233.0 354.7,233.7 357.6,233.9 360.5,233.7 363.4,233.1 366.2,232.5 369.1,232.0 372.0,231.9 374.9,232.2 377.8,232.8 380.7,233.4 383.6,233.8 386.4,233.7 389.3,233.2 392.2,232.3 395.1,231.5 398.0,231.1 400.9,231.4 403.7,232.5 406.6,234.2 409.5,236.3 412.4,238.2 415.3,239.3 418.2,239.3 421.0,238.1 423.9,235.9 426.8,233.2 429.7,230.6 432.6,228.8 435.5,228.2 438.3,228.9 441.2,230.6 444.1,233.0 447.0,235.1 449.9,236.4 452.8,236.5 455.7,235.2 458.5,232.8 461.4,230.0 464.3,227.5 467.2,225.9 470.1,225.8 473.0,227.2 475.8,229.8 478.7,232.9 481.6,235.9 484.5,238.0 487.4,238.9 490.3,238.4 493.1,236.5 496.0,233.9 498.9,232.0 501.8,230.9 504.7,230.0 507.6,229.1 510.4,227.9 513.3,226.6 516.2,225.5 519.1,224.2 522.0,222.9 524.9,221.6 527.8,220.1 530.6,218.7 533.5,217.2 536.4,215.7 539.3,214.2 542.2,212.6 545.1,211.1 547.9,209.6 550.8,208.3 553.7,207.0 556.6,205.7 559.5,204.4 562.4,202.9 565.2,201.2 568.1,199.3 571.0,196.9 573.9,193.4 576.8,188.9 579.7,184.0 582.5,179.3 585.4,174.5 588.3,169.6 591.2,165.0 594.1,160.7 597.0,156.5 599.9,153.2 602.7,150.6 605.6,148.2 608.5,146.1 611.4,144.5 614.3,143.5 617.2,143.1 620.0,142.9 622.9,142.8 625.8,142.8 628.7,142.7 631.6,142.6 634.5,142.3 637.3,141.9 640.2,141.3 643.1,140.5 646.0,139.5 648.9,138.3 651.8,136.9 654.6,135.4 657.5,133.8 660.4,132.0 663.3,130.2" fill="none" stroke="#68c7bc" stroke-opacity="0.65" stroke-width="2.8" stroke-linejoin="round" stroke-linecap="butt"/>
<polyline points="86.5,234.6 89.4,234.4 92.3,233.9 95.2,233.2 98.0,232.2 100.9,231.0 103.8,228.6 106.7,224.5 109.6,219.4 112.5,213.4 115.3,205.1 118.2,196.0 121.1,188.2 124.0,180.7 126.9,173.6 129.8,168.0 132.6,164.6 135.5,162.5 138.4,160.7 141.3,158.6 144.2,156.1 147.1,153.3 149.9,150.4 152.8,147.5 155.7,144.2 158.6,141.0 161.5,138.9 164.4,137.6 167.3,136.6 170.1,135.9 173.0,135.5 175.9,135.0 178.8,134.5 181.7,134.0 184.6,133.4 187.4,132.7 190.3,132.1 193.2,131.1 196.1,129.7 199.0,127.6 201.9,125.1 204.7,122.3 207.6,119.5 210.5,116.7 213.4,113.5 216.3,110.0 219.2,106.5 222.0,103.2 224.9,100.3 227.8,97.8 230.7,95.2 233.6,92.8 236.5,90.7 239.4,89.1 242.2,88.0 245.1,87.3 248.0,86.7 250.9,86.2 253.8,86.0 256.7,86.0 259.5,86.0 262.4,86.0 265.3,86.0 268.2,86.0 271.1,86.1 274.0,86.5 276.8,87.0 279.7,87.6 282.6,88.4 285.5,89.2 288.4,90.1 291.3,90.9 294.1,91.8 297.0,92.4 299.9,92.9 302.8,93.3 305.7,93.6 308.6,94.0 311.5,94.3 314.3,94.5 317.2,94.8 320.1,95.0 323.0,95.3 325.9,95.6 328.8,95.9 331.6,96.2 334.5,96.7 337.4,97.2 340.3,97.7 343.2,98.3 346.1,98.9 348.9,99.5 351.8,100.1 354.7,100.7 357.6,101.2 360.5,101.8 363.4,102.3 366.2,102.7 369.1,103.2 372.0,103.6 374.9,104.0 377.8,104.5 380.7,104.9 383.6,105.3 386.4,105.8 389.3,106.2 392.2,106.7 395.1,107.2 398.0,107.8 400.9,108.3 403.7,108.9 406.6,109.6 409.5,110.4 412.4,111.2 415.3,112.1 418.2,113.0 421.0,114.0 423.9,115.0 426.8,116.0 429.7,117.1 432.6,118.2 435.5,119.2 438.3,120.3 441.2,121.3 444.1,122.3 447.0,123.3 449.9,124.3 452.8,125.3 455.7,126.3 458.5,127.4 461.4,128.4 464.3,129.5 467.2,130.6 470.1,131.6 473.0,132.6 475.8,133.6 478.7,134.5 481.6,135.4 484.5,136.2 487.4,137.0 490.3,137.7 493.1,138.3 496.0,139.0 498.9,139.6 501.8,140.3 504.7,140.9 507.6,141.6 510.4,142.2 513.3,142.7 516.2,143.2 519.1,143.7 522.0,144.1 524.9,144.4 527.8,144.6 530.6,144.8 533.5,144.8 536.4,144.8 539.3,144.6 542.2,144.4 545.1,144.0 547.9,143.6 550.8,143.1 553.7,142.6 556.6,142.0 559.5,141.4 562.4,140.8 565.2,140.2 568.1,139.5 571.0,138.9 573.9,138.3 576.8,137.7 579.7,137.0 582.5,136.4 585.4,135.6 588.3,134.8 591.2,134.0 594.1,133.1 597.0,132.3 599.9,131.5 602.7,130.6 605.6,129.8 608.5,129.1 611.4,128.4 614.3,127.8 617.2,127.3 620.0,126.9 622.9,126.5 625.8,126.2 628.7,125.8 631.6,125.5 634.5,125.2 637.3,124.9 640.2,124.6 643.1,124.3 646.0,124.0 648.9,123.8 651.8,123.6 654.6,123.5 657.5,123.4 660.4,123.3 663.3,123.3" fill="none" stroke="#68c7bc" stroke-opacity="0.65" stroke-width="2.8" stroke-linejoin="round" stroke-linecap="butt"/>
<polyline points="86.5,223.2 89.4,224.6 92.3,226.3 95.2,227.9 98.0,229.1 100.9,229.5 103.8,229.1 106.7,227.9 109.6,226.1 112.5,224.2 115.3,222.4 118.2,221.0 121.1,220.2 124.0,219.7 126.9,219.3 129.8,218.6 132.6,217.1 135.5,214.6 138.4,210.9 141.3,206.1 144.2,200.5 147.1,194.6 149.9,189.0 152.8,184.0 155.7,179.9 158.6,176.8 161.5,174.7 164.4,173.3 167.3,172.5 170.1,171.8 173.0,171.2 175.9,170.5 178.8,169.5 181.7,168.2 184.6,166.7 187.4,164.9 190.3,162.7 193.2,160.3 196.1,157.5 199.0,154.6 201.9,151.5 204.7,148.3 207.6,145.1 210.5,142.0 213.4,139.2 216.3,136.7 219.2,134.6 222.0,133.0 224.9,131.8 227.8,131.1 230.7,130.7 233.6,130.6 236.5,130.7 239.4,130.9 242.2,131.1 245.1,131.3 248.0,131.3 250.9,131.1 253.8,130.7 256.7,130.0 259.5,129.2 262.4,128.2 265.3,127.1 268.2,125.9 271.1,124.8 274.0,123.7 276.8,122.8 279.7,122.1 282.6,121.6 285.5,121.3 288.4,121.3 291.3,121.4 294.1,121.8 297.0,122.2 299.9,122.8 302.8,123.3 305.7,123.7 308.6,124.1 311.5,124.2 314.3,124.3 317.2,124.1 320.1,123.8 323.0,123.3 325.9,122.8 328.8,122.3 331.6,121.9 334.5,121.7 337.4,121.6 340.3,121.9 343.2,122.4 346.1,123.4 348.9,124.7" fill="none" stroke="#68c7bc" stroke-opacity="0.65" stroke-width="2.8" stroke-linejoin="round" stroke-linecap="butt"/>
<polyline points="348.9,124.7 351.8,126.4 354.7,128.4 357.6,130.7 360.5,133.2 363.4,135.7 366.2,138.3 369.1,140.8 372.0,143.0 374.9,145.0 377.8,146.7 380.7,148.0 383.6,148.8 386.4,149.3 389.3,149.3 392.2,149.0 395.1,148.4 398.0,147.5 400.9,146.4 403.7,145.3 406.6,144.2 409.5,143.1 412.4,142.1 415.3,141.2 418.2,140.5 421.0,140.0 423.9,139.6 426.8,139.3 429.7,139.1 432.6,138.9 435.5,138.6 438.3,138.2 441.2,137.7 444.1,137.0 447.0,136.1 449.9,134.9 452.8,133.5 455.7,131.9 458.5,130.1 461.4,128.2 464.3,126.2 467.2,124.2 470.1,122.3 473.0,120.5 475.8,118.8 478.7,117.4 481.6,116.3 484.5,115.5 487.4,115.0 490.3,114.8 493.1,114.8 496.0,115.1 498.9,115.6 501.8,116.2 504.7,116.9 507.6,117.7 510.4,118.5 513.3,119.2 516.2,119.8 519.1,120.3 522.0,120.6 524.9,120.8 527.8,120.9 530.6,120.9 533.5,120.8 536.4,120.6 539.3,120.4 542.2,120.2 545.1,120.1 547.9,120.1 550.8,120.2 553.7,120.6 556.6,121.1 559.5,121.9 562.4,123.0 565.2,124.2 568.1,125.7 571.0,127.5 573.9,129.4 576.8,131.6 579.7,133.8 582.5,136.2 585.4,138.6 588.3,141.1 591.2,143.5 594.1,145.8 597.0,147.9 599.9,149.9 602.7,151.6 605.6,153.1 608.5,154.2 611.4,155.0 614.3,155.4 617.2,155.6 620.0,155.3 622.9,154.8 625.8,154.0 628.7,152.9 631.6,151.6 634.5,150.1 637.3,148.5 640.2,146.8 643.1,145.1 646.0,143.4 648.9,141.7 651.8,140.1 654.6,138.5 657.5,137.1 660.4,135.7 663.3,134.4" fill="none" stroke="#30459c" stroke-opacity="0.68" stroke-width="2.8" stroke-linejoin="round" stroke-linecap="butt"/>
<polyline points="86.5,234.6 89.4,234.6 92.3,234.5 95.2,234.4 98.0,234.3 100.9,234.2 103.8,234.0 106.7,233.8 109.6,233.5 112.5,233.3 115.3,233.0 118.2,232.6 121.1,232.3 124.0,231.9 126.9,231.5 129.8,231.0 132.6,230.1 135.5,228.6 138.4,226.4 141.3,223.7 144.2,220.6 147.1,217.2 149.9,213.6 152.8,209.8 155.7,206.0 158.6,202.3 161.5,198.2 164.4,193.3 167.3,187.9 170.1,182.1 173.0,176.2 175.9,170.3 178.8,164.8 181.7,159.7 184.6,155.4 187.4,152.0 190.3,149.2 193.2,146.6 196.1,144.1 199.0,141.8 201.9,139.6 204.7,137.5 207.6,135.6 210.5,133.7 213.4,132.0 216.3,130.3 219.2,128.8 222.0,127.3 224.9,125.9 227.8,124.6 230.7,123.3 233.6,122.1 236.5,120.9 239.4,119.7 242.2,118.6 245.1,117.6 248.0,116.5 250.9,115.5 253.8,114.6 256.7,113.7 259.5,112.8 262.4,111.9 265.3,111.1 268.2,110.2 271.1,109.5 274.0,108.7 276.8,108.0 279.7,107.3 282.6,106.6 285.5,106.0 288.4,105.3 291.3,104.8 294.1,104.2 297.0,103.7 299.9,103.2 302.8,102.8 305.7,102.3 308.6,101.9 311.5,101.5 314.3,101.1 317.2,100.7 320.1,100.2 323.0,99.8 325.9,99.3 328.8,98.7 331.6,98.2 334.5,97.5 337.4,96.7 340.3,95.8 343.2,95.0 346.1,94.3" fill="none" stroke="#68c7bc" stroke-opacity="0.65" stroke-width="2.8" stroke-linejoin="round" stroke-linecap="butt"/>
<polyline points="346.1,94.3 348.9,93.9 351.8,93.6 354.7,93.3 357.6,93.0 360.5,92.8 363.4,92.6 366.2,92.5 369.1,92.4 372.0,92.4 374.9,92.5 377.8,92.7 380.7,93.0 383.6,93.3 386.4,93.7 389.3,94.1 392.2,94.7 395.1,95.5 398.0,96.5 400.9,97.6 403.7,98.8 406.6,100.5 409.5,102.5 412.4,104.8 415.3,107.5 418.2,110.9 421.0,114.8 423.9,119.1 426.8,123.3 429.7,127.7 432.6,132.4 435.5,137.2 438.3,141.5 441.2,145.2 444.1,148.6 447.0,151.6 449.9,154.4 452.8,156.7 455.7,158.7 458.5,160.6 461.4,162.4 464.3,164.5 467.2,166.7 470.1,168.4 473.0,169.5 475.8,170.3 478.7,170.7 481.6,170.6 484.5,170.4 487.4,170.0 490.3,169.5 493.1,169.0 496.0,168.4 498.9,167.7 501.8,167.0 504.7,166.4 507.6,165.6 510.4,164.8 513.3,163.8 516.2,162.7 519.1,161.5 522.0,160.3 524.9,159.1 527.8,157.9 530.6,156.7 533.5,155.6 536.4,154.5 539.3,153.5 542.2,152.5 545.1,151.4 547.9,150.4 550.8,149.4 553.7,148.3 556.6,147.2 559.5,146.0 562.4,144.8 565.2,143.6 568.1,142.2 571.0,140.8 573.9,139.4 576.8,137.9 579.7,136.4 582.5,134.9 585.4,133.4 588.3,131.9 591.2,130.5 594.1,129.0 597.0,127.5 599.9,126.0 602.7,124.5 605.6,123.0 608.5,121.5 611.4,120.0 614.3,118.6 617.2,117.3 620.0,116.1 622.9,115.0 625.8,113.8 628.7,112.7 631.6,111.6 634.5,110.6 637.3,109.5 640.2,108.5 643.1,107.5 646.0,106.6 648.9,105.7 651.8,104.8 654.6,104.0 657.5,103.2 660.4,102.5 663.3,101.8" fill="none" stroke="#30459c" stroke-opacity="0.68" stroke-width="2.8" stroke-linejoin="round" stroke-linecap="butt"/>
<polyline points="86.5,230.2 89.4,230.6 92.3,229.9 95.2,228.1 98.0,225.3 100.9,221.7 103.8,217.8 106.7,213.7 109.6,209.8 112.5,206.1 115.3,202.7 118.2,199.5 121.1,195.7 124.0,191.4 126.9,186.9 129.8,182.4 132.6,178.2 135.5,174.3 138.4,170.9 141.3,168.2 144.2,166.2 147.1,164.8 149.9,163.9 152.8,163.3 155.7,162.9 158.6,162.5 161.5,162.0 164.4,161.4 167.3,160.5 170.1,159.5 173.0,158.3 175.9,156.9 178.8,155.6 181.7,154.2 184.6,153.0 187.4,151.9 190.3,151.0 193.2,150.3 196.1,149.8 199.0,149.6 201.9,149.4 204.7,149.4 207.6,149.3 210.5,149.1 213.4,148.8 216.3,148.1 219.2,147.2 222.0,145.9 224.9,144.3 227.8,142.3 230.7,140.0 233.6,137.5 236.5,134.9 239.4,132.4 242.2,130.0 245.1,127.9 248.0,126.1 250.9,124.9 253.8,124.2 256.7,124.1 259.5,124.6 262.4,125.6 265.3,127.1 268.2,128.9 271.1,130.9 274.0,132.9 276.8,134.9 279.7,136.5 282.6,137.8 285.5,138.6 288.4,138.8 291.3,138.5 294.1,137.5 297.0,136.0 299.9,134.1 302.8,131.9 305.7,129.4 308.6,127.0 311.5,124.6 314.3,122.5 317.2,120.7 320.1,119.3 323.0,118.4 325.9,118.0 328.8,118.0 331.6,118.3 334.5,119.0 337.4,119.7 340.3,120.5 343.2,121.1 346.1,121.6 348.9,121.7 351.8,121.5 354.7,120.9 357.6,119.9 360.5,118.7 363.4,117.2 366.2,115.7 369.1,114.3 372.0,113.0 374.9,112.2 377.8,111.9 380.7,112.2 383.6,113.2 386.4,114.9 389.3,117.3 392.2,120.4 395.1,124.0 398.0,128.0 400.9,132.3 403.7,136.6 406.6,140.7 409.5,144.5 412.4,147.8 415.3,150.5 418.2,152.4 421.0,153.7 423.9,154.2 426.8,154.0 429.7,153.2 432.6,151.9" fill="none" stroke="#68c7bc" stroke-opacity="0.65" stroke-width="2.8" stroke-linejoin="round" stroke-linecap="butt"/>
<polyline points="432.6,151.9 435.5,150.4 438.3,148.7 441.2,147.0 444.1,145.5 447.0,144.3 449.9,143.5 452.8,143.1 455.7,143.1 458.5,143.6 461.4,144.4 464.3,145.5 467.2,146.6 470.1,147.7 473.0,148.7 475.8,149.3 478.7,149.5 481.6,149.3 484.5,148.5 487.4,147.3 490.3,145.6 493.1,143.5 496.0,141.1 498.9,138.7 501.8,136.2 504.7,134.0 507.6,132.0 510.4,130.5 513.3,129.5 516.2,129.1 519.1,129.2 522.0,129.8 524.9,130.8 527.8,132.2 530.6,133.7 533.5,135.2 536.4,136.6 539.3,137.7 542.2,138.4 545.1,138.5 547.9,138.1 550.8,137.0 553.7,135.3 556.6,133.2 559.5,130.6 562.4,127.7 565.2,124.5 568.1,121.3 571.0,118.2 573.9,115.3 576.8,112.9 579.7,110.9 582.5,109.5 585.4,108.6 588.3,108.3 591.2,108.5 594.1,109.1 597.0,109.9 599.9,111.0 602.7,112.1 605.6,113.1 608.5,113.9 611.4,114.5 614.3,114.9 617.2,114.9 620.0,114.7 622.9,114.3 625.8,113.7 628.7,113.0 631.6,112.4 634.5,111.9 637.3,111.5 640.2,111.5 643.1,111.8 646.0,112.3 648.9,113.2 651.8,114.4 654.6,115.7 657.5,117.1 660.4,118.5 663.3,119.8" fill="none" stroke="#30459c" stroke-opacity="0.68" stroke-width="2.8" stroke-linejoin="round" stroke-linecap="butt"/>
<polyline points="86.5,231.0 89.4,231.5 92.3,232.0 95.2,232.4 98.0,232.8 100.9,233.1 103.8,233.4 106.7,233.6 109.6,233.8 112.5,234.0 115.3,234.1 118.2,234.3 121.1,234.4 124.0,234.4 126.9,234.5 129.8,234.5 132.6,234.6 135.5,234.6 138.4,234.6 141.3,234.6 144.2,234.6 147.1,234.4 149.9,233.7 152.8,232.7 155.7,231.3 158.6,229.7 161.5,227.7 164.4,225.4 167.3,223.0 170.1,220.3 173.0,217.5 175.9,214.6 178.8,211.6 181.7,208.5 184.6,205.4 187.4,202.3 190.3,198.6 193.2,194.0 196.1,188.7 199.0,182.9 201.9,176.9 204.7,170.9 207.6,165.1 210.5,159.9 213.4,155.5 216.3,152.0 219.2,149.3 222.0,146.7 224.9,144.3 227.8,142.0 230.7,139.9 233.6,137.9 236.5,136.0 239.4,134.2 242.2,132.5 245.1,130.9 248.0,129.3 250.9,127.8 253.8,126.3 256.7,124.8 259.5,123.3 262.4,121.8 265.3,120.2 268.2,118.6 271.1,117.0 274.0,115.3 276.8,113.7 279.7,112.2 282.6,110.7 285.5,109.4 288.4,108.2 291.3,107.1 294.1,106.2 297.0,105.4 299.9,104.9" fill="none" stroke="#68c7bc" stroke-opacity="0.65" stroke-width="2.8" stroke-linejoin="round" stroke-linecap="butt"/>
<polyline points="299.9,104.9 302.8,104.7 305.7,104.6 308.6,104.7 311.5,104.8 314.3,105.0 317.2,105.2 320.1,105.4 323.0,105.6 325.9,105.9 328.8,106.2 331.6,106.8 334.5,107.5 337.4,108.4 340.3,109.3 343.2,110.3 346.1,111.2 348.9,112.0 351.8,112.7 354.7,113.4 357.6,114.1 360.5,114.9 363.4,115.7 366.2,116.5 369.1,117.4 372.0,118.3 374.9,119.2 377.8,120.1 380.7,121.1 383.6,122.1 386.4,123.2 389.3,124.2 392.2,125.3 395.1,126.5 398.0,127.7 400.9,128.7 403.7,129.3 406.6,129.6 409.5,129.9 412.4,130.3 415.3,130.8 418.2,131.6 421.0,132.6 423.9,133.6 426.8,134.5 429.7,135.5 432.6,136.4 435.5,137.3 438.3,138.3 441.2,139.3 444.1,140.2 447.0,141.2 449.9,142.3 452.8,143.4 455.7,144.5 458.5,145.7 461.4,146.8 464.3,148.0 467.2,149.1 470.1,150.1 473.0,151.1 475.8,152.0 478.7,152.9 481.6,153.9 484.5,154.8 487.4,155.8 490.3,156.7 493.1,157.5 496.0,158.2 498.9,158.7 501.8,159.1 504.7,159.2 507.6,159.2 510.4,159.0 513.3,158.8 516.2,158.5 519.1,158.1 522.0,157.7 524.9,157.2 527.8,156.7 530.6,156.2 533.5,155.6 536.4,154.9 539.3,153.8 542.2,152.6 545.1,151.1 547.9,149.5 550.8,147.8 553.7,146.1 556.6,144.4 559.5,142.8 562.4,141.2 565.2,139.8 568.1,138.2 571.0,136.6 573.9,134.9 576.8,133.3 579.7,131.8 582.5,130.3 585.4,129.0 588.3,127.8 591.2,126.9 594.1,126.1 597.0,125.4 599.9,124.7 602.7,124.1 605.6,123.6 608.5,123.0 611.4,122.5 614.3,122.0 617.2,121.5 620.0,121.0 622.9,120.5 625.8,120.0 628.7,119.4 631.6,118.8 634.5,118.3 637.3,117.7 640.2,117.1 643.1,116.6 646.0,116.0 648.9,115.4 651.8,114.8 654.6,114.3 657.5,113.7 660.4,113.1 663.3,112.5" fill="none" stroke="#30459c" stroke-opacity="0.68" stroke-width="2.8" stroke-linejoin="round" stroke-linecap="butt"/>
<polyline points="86.5,233.0 89.4,232.2 92.3,231.1 95.2,229.8 98.0,228.5 100.9,227.5 103.8,227.0 106.7,227.2 109.6,228.1 112.5,229.9 115.3,232.1" fill="none" stroke="#68c7bc" stroke-opacity="0.65" stroke-width="2.8" stroke-linejoin="round" stroke-linecap="butt"/>
<polyline points="115.3,232.1 118.2,234.6 121.1,236.9 124.0,238.6 126.9,239.5 129.8,239.3 132.6,238.1" fill="none" stroke="#eaf03c" stroke-opacity="0.8" stroke-width="2.8" stroke-linejoin="round" stroke-linecap="butt"/>
<polyline points="132.6,238.1 135.5,236.2 138.4,234.0 141.3,232.0 144.2,230.5 147.1,230.0 149.9,230.6 152.8,232.1 155.7,234.3 158.6,236.5 161.5,238.3 164.4,239.1 167.3,238.7 170.1,237.0 173.0,234.1 175.9,230.6 178.8,227.0 181.7,224.1 184.6,222.5 187.4,222.4 190.3,224.0 193.2,227.0 196.1,230.9 199.0,235.1 201.9,238.7 204.7,241.2 207.6,242.2 210.5,241.5 213.4,239.4 216.3,236.4 219.2,233.2 222.0,230.4 224.9,228.7 227.8,228.4 230.7,229.5 233.6,231.8 236.5,234.6 239.4,237.5 242.2,239.6 245.1,240.6 248.0,240.0 250.9,237.9 253.8,234.7 256.7,231.0 259.5,227.3 262.4,224.4 265.3,222.8 268.2,222.9 271.1,224.7 274.0,227.0 276.8,228.8 279.7,228.2 282.6,225.5 285.5,221.7 288.4,218.1 291.3,215.0 294.1,211.3 297.0,207.0 299.9,202.3 302.8,197.5 305.7,192.8 308.6,188.3 311.5,183.9 314.3,179.2 317.2,174.1 320.1,167.9 323.0,159.7 325.9,153.8 328.8,149.9 331.6,146.8 334.5,144.7 337.4,143.0 340.3,141.7 343.2,140.3 346.1,138.8 348.9,137.4 351.8,135.9 354.7,134.5 357.6,133.2 360.5,130.2 363.4,127.3 366.2,124.8 369.1,122.8 372.0,121.4 374.9,120.8 377.8,120.9 380.7,121.8 383.6,123.3 386.4,125.5 389.3,128.0 392.2,130.8 395.1,133.6 398.0,136.3 400.9,138.6 403.7,140.3 406.6,141.4 409.5,141.7 412.4,141.1 415.3,139.8 418.2,137.6 421.0,134.9 423.9,131.6 426.8,128.1 429.7,124.3 432.6,120.6 435.5,117.1 438.3,113.9 441.2,111.1 444.1,108.8 447.0,107.0 449.9,105.8 452.8,105.0 455.7,104.6 458.5,104.5 461.4,104.6 464.3,104.8 467.2,105.1 470.1,105.4 473.0,105.6 475.8,105.8 478.7,106.0 481.6,106.3 484.5,106.8 487.4,107.5 490.3,108.4 493.1,109.9 496.0,111.9 498.9,114.3 501.8,117.2 504.7,120.4 507.6,123.7 510.4,127.6 513.3,131.7 516.2,135.8 519.1,139.7 522.0,143.3 524.9,146.4 527.8,149.0 530.6,151.0 533.5,152.4 536.4,153.0 539.3,153.0 542.2,152.4 545.1,151.4 547.9,149.9 550.8,148.2 553.7,146.3 556.6,144.4 559.5,142.4 562.4,140.6 565.2,138.9 568.1,137.2 571.0,135.6 573.9,134.0 576.8,132.3 579.7,130.4 582.5,128.3 585.4,126.0 588.3,123.3 591.2,121.9 594.1,120.5 597.0,118.9 599.9,117.3 602.7,115.7 605.6,114.2 608.5,112.8 611.4,111.7 614.3,110.9 617.2,110.4 620.0,110.3 622.9,110.6 625.8,111.4 628.7,112.5 631.6,114.0 634.5,115.8 637.3,117.7 640.2,119.8 643.1,122.0 646.0,125.0 648.9,129.4 651.8,133.4 654.6,136.9 657.5,139.7 660.4,142.0 663.3,143.7" fill="none" stroke="#68c7bc" stroke-opacity="0.65" stroke-width="2.8" stroke-linejoin="round" stroke-linecap="butt"/>
<polyline points="86.5,225.0 89.4,224.7 92.3,225.4 95.2,227.0 98.0,229.1 100.9,231.2 103.8,232.4 106.7,232.4 109.6,231.0 112.5,228.7 115.3,226.1 118.2,224.2 121.1,223.7 124.0,224.9 126.9,227.6 129.8,231.1 132.6,234.4 135.5,236.5 138.4,236.8 141.3,235.2 144.2,232.2 147.1,228.5 149.9,225.2 152.8,223.1 155.7,222.8" fill="none" stroke="#68c7bc" stroke-opacity="0.65" stroke-width="2.8" stroke-linejoin="round" stroke-linecap="butt"/>
<polyline points="155.7,222.8 158.6,224.2 161.5,226.6 164.4,229.3 167.3,231.4 170.1,232.4" fill="none" stroke="#eaf03c" stroke-opacity="0.8" stroke-width="2.8" stroke-linejoin="round" stroke-linecap="butt"/>
<polyline points="170.1,232.4 173.0,232.1 175.9,230.8 178.8,229.1 181.7,227.6 184.6,227.0 187.4,227.2 190.3,228.2 193.2,229.5 196.1,230.4 199.0,230.8 201.9,230.5 204.7,229.7 207.6,228.9 210.5,228.5 213.4,228.8 216.3,229.4 219.2,229.6 222.0,228.3 224.9,225.8 227.8,222.7 230.7,220.0 233.6,216.8 236.5,212.8 239.4,208.4 242.2,203.6 245.1,198.4 248.0,192.8 250.9,187.0 253.8,181.3 256.7,175.1 259.5,168.7 262.4,163.8 265.3,159.9 268.2,156.7 271.1,154.1 274.0,151.9 276.8,150.1 279.7,148.7 282.6,147.7 285.5,146.7 288.4,145.5 291.3,144.2 294.1,142.7 297.0,141.2 299.9,139.6 302.8,137.9 305.7,136.1 308.6,135.5 311.5,135.2 314.3,135.2 317.2,135.5 320.1,136.0 323.0,136.6 325.9,137.3 328.8,138.0 331.6,138.5 334.5,139.0 337.4,139.1 340.3,139.0 343.2,138.5 346.1,137.6 348.9,136.4 351.8,134.8 354.7,132.8 357.6,130.5 360.5,128.0 363.4,125.2 366.2,122.5 369.1,119.7 372.0,117.0 374.9,114.6 377.8,112.5 380.7,110.8 383.6,109.7 386.4,109.1 389.3,109.1 392.2,109.8 395.1,111.1 398.0,113.1 400.9,115.7 403.7,118.8 406.6,122.5 409.5,126.5 412.4,130.8 415.3,135.3 418.2,139.9 421.0,144.4 423.9,148.8 426.8,153.0 429.7,156.7 432.6,160.1 435.5,163.0 438.3,165.3 441.2,167.1 444.1,168.4 447.0,169.1 449.9,169.3 452.8,169.1 455.7,168.5 458.5,167.5 461.4,166.3 464.3,165.0 467.2,163.5 470.1,162.0 473.0,160.6 475.8,159.2 478.7,157.9 481.6,156.9 484.5,155.9 487.4,155.2 490.3,154.6 493.1,154.1 496.0,153.7 498.9,153.4 501.8,153.1 504.7,152.7 507.6,152.3 510.4,151.8 513.3,151.0 516.2,150.1 519.1,149.1 522.0,147.8 524.9,146.4 527.8,144.8 530.6,143.1 533.5,141.3 536.4,139.6 539.3,137.9 542.2,136.4 545.1,135.1 547.9,134.0 550.8,133.3 553.7,133.0 556.6,133.1 559.5,133.7 562.4,134.8 565.2,136.4 568.1,138.5 571.0,141.0 573.9,143.9 576.8,147.1 579.7,150.6 582.5,154.2 585.4,158.0 588.3,161.7 591.2,165.4 594.1,168.8 597.0,172.0 599.9,174.9 602.7,177.4 605.6,179.4 608.5,180.9 611.4,181.9 614.3,182.4 617.2,182.4 620.0,181.9 622.9,180.9 625.8,179.5 628.7,177.8 631.6,175.7 634.5,173.5 637.3,171.0 640.2,168.5 643.1,165.9 646.0,163.2 648.9,160.7 651.8,158.1 654.6,155.7 657.5,153.5 660.4,151.3 663.3,149.3" fill="none" stroke="#68c7bc" stroke-opacity="0.65" stroke-width="2.8" stroke-linejoin="round" stroke-linecap="butt"/>
<polyline points="86.5,229.0 89.4,227.8 92.3,227.9 95.2,229.4 98.0,231.8 100.9,234.3 103.8,235.9 106.7,235.9 109.6,234.2 112.5,231.0 115.3,227.4 118.2,224.4 121.1,223.0 124.0,223.4 126.9,225.6 129.8,228.8 132.6,232.1 135.5,234.6 138.4,235.8 141.3,235.7 144.2,234.7 147.1,233.8 149.9,233.5 152.8,234.2 155.7,235.7 158.6,237.5 161.5,238.8 164.4,239.0 167.3,237.6 170.1,235.0 173.0,232.0 175.9,229.3 178.8,228.0 181.7,228.5 184.6,230.6 187.4,233.7 190.3,236.7 193.2,238.6 196.1,238.8 199.0,237.2 201.9,234.2 204.7,230.8 207.6,227.9 210.5,226.2 213.4,226.1 216.3,227.1 219.2,228.6 222.0,229.9 224.9,230.3 227.8,229.7 230.7,228.5 233.6,227.4 236.5,227.2 239.4,228.3 242.2,230.8 245.1,234.0 248.0,237.2 250.9,239.4 253.8,239.8 256.7,238.4 259.5,235.6 262.4,232.3 265.3,229.5 268.2,228.3 271.1,228.8 274.0,230.9 276.8,233.9 279.7,236.7 282.6,238.4 285.5,238.8 288.4,237.7 291.3,235.8 294.1,233.8 297.0,232.5 299.9,232.2 302.8,232.8 305.7,233.8 308.6,234.4 311.5,233.9 314.3,232.2 317.2,229.4 320.1,226.3 323.0,224.0 325.9,223.1 328.8,224.2 331.6,226.9 334.5,230.6 337.4,234.2 340.3,236.7 343.2,237.4 346.1,236.3 348.9,234.0 351.8,231.3 354.7,229.2 357.6,228.5 360.5,229.4 363.4,230.9 366.2,232.1 369.1,232.1 372.0,231.0 374.9,229.4 377.8,227.7 380.7,226.1 383.6,224.4 386.4,221.8 389.3,218.5 392.2,214.8 395.1,211.3 398.0,208.2 400.9,205.8 403.7,203.6 406.6,201.3 409.5,198.5 412.4,194.4 415.3,189.1 418.2,183.6 421.0,178.8 423.9,174.2 426.8,170.0 429.7,166.0 432.6,162.9 435.5,160.3 438.3,157.9 441.2,155.8 444.1,153.9 447.0,152.4 449.9,150.9 452.8,149.5 455.7,148.2 458.5,147.2 461.4,146.3 464.3,145.5 467.2,142.9 470.1,140.4 473.0,137.8 475.8,135.3 478.7,132.9 481.6,130.8 484.5,129.0 487.4,127.7 490.3,126.8 493.1,126.5 496.0,126.7 498.9,127.5 501.8,128.7 504.7,130.4 507.6,132.2 510.4,134.3 513.3,136.3 516.2,138.2 519.1,139.9 522.0,141.2 524.9,142.1 527.8,142.5 530.6,142.6 533.5,142.2 536.4,141.6" fill="none" stroke="#68c7bc" stroke-opacity="0.65" stroke-width="2.8" stroke-linejoin="round" stroke-linecap="butt"/>
<polyline points="536.4,141.6 539.3,140.8 542.2,139.9 545.1,139.0 547.9,138.4 550.8,138.0 553.7,138.0 556.6,138.4 559.5,139.2 562.4,140.4 565.2,141.8 568.1,143.4 571.0,144.9 573.9,146.3 576.8,147.3 579.7,147.8 582.5,147.7 585.4,146.8 588.3,145.0 591.2,142.4 594.1,139.0 597.0,134.9 599.9,130.2 602.7,125.2 605.6,120.0 608.5,114.9 611.4,110.0 614.3,105.7 617.2,102.0 620.0,99.1 622.9,97.1 625.8,96.1 628.7,95.8 631.6,96.4 634.5,97.6 637.3,99.2 640.2,101.2 643.1,103.1 646.0,105.0 648.9,106.5 651.8,107.6 654.6,108.1 657.5,108.0 660.4,107.4 663.3,106.3" fill="none" stroke="#30459c" stroke-opacity="0.68" stroke-width="2.8" stroke-linejoin="round" stroke-linecap="butt"/>
<polyline points="86.5,238.2 89.4,235.9 92.3,233.3 95.2,231.1 98.0,229.7 100.9,229.3 103.8,229.8 106.7,231.2 109.6,233.0 112.5,234.8 115.3,236.2 118.2,237.0 121.1,237.2 124.0,236.7 126.9,235.7 129.8,234.6 132.6,233.4 135.5,232.5 138.4,231.8 141.3,231.4 144.2,231.2 147.1,231.0 149.9,230.8 152.8,230.6 155.7,230.3 158.6,229.9 161.5,229.6 164.4,229.2 167.3,228.6 170.1,228.0 173.0,227.0 175.9,225.7 178.8,224.0 181.7,222.0 184.6,220.0 187.4,218.1 190.3,216.5 193.2,215.5 196.1,215.1 199.0,215.2 201.9,215.6 204.7,216.0 207.6,216.0 210.5,215.6 213.4,214.4 216.3,212.6 219.2,210.3 222.0,206.5 224.9,202.0 227.8,197.7 230.7,193.7 233.6,189.9 236.5,186.4 239.4,182.9 242.2,179.2 245.1,175.2 248.0,170.9 250.9,166.4 253.8,161.7 256.7,157.1 259.5,152.8 262.4,149.0 265.3,145.7 268.2,143.1 271.1,141.1 274.0,139.6 276.8,138.6 279.7,138.0 282.6,137.7 285.5,137.6 288.4,137.7 291.3,137.9 294.1,138.1 297.0,138.3 299.9,138.4 302.8,138.4 305.7,138.3 308.6,137.9 311.5,137.3 314.3,136.3 317.2,135.1 320.1,133.6 323.0,131.8 325.9,129.8 328.8,127.6 331.6,125.4 334.5,123.1 337.4,120.9 340.3,118.8 343.2,116.8 346.1,115.0 348.9,113.5 351.8,112.2 354.7,111.2 357.6,110.4 360.5,109.9 363.4,109.6 366.2,109.4 369.1,109.4 372.0,109.4 374.9,109.5 377.8,109.6 380.7,109.6 383.6,109.5 386.4,109.3 389.3,109.0 392.2,108.6 395.1,108.1 398.0,107.6 400.9,107.0 403.7,106.5 406.6,106.0 409.5,105.7 412.4,105.6 415.3,105.8 418.2,106.2 421.0,107.0 423.9,108.2 426.8,109.8 429.7,111.7 432.6,114.0 435.5,116.7 438.3,119.6 441.2,122.7 444.1,126.0 447.0,129.4 449.9,132.7 452.8,135.9 455.7,139.0 458.5,141.8 461.4,144.2 464.3,146.3 467.2,148.0 470.1,149.2 473.0,149.9 475.8,150.2 478.7,150.0 481.6,149.5 484.5,148.6 487.4,147.4 490.3,146.0 493.1,144.4 496.0,142.8 498.9,141.2 501.8,139.6 504.7,138.1 507.6,136.7 510.4,135.6 513.3,134.6 516.2,133.8 519.1,133.2 522.0,132.8 524.9,132.5 527.8,132.3 530.6,132.2 533.5,132.1 536.4,131.9 539.3,131.7 542.2,131.4 545.1,130.9 547.9,130.3 550.8,129.4 553.7,128.4 556.6,127.2 559.5,125.8 562.4,124.2 565.2,122.9 568.1,122.1 571.0,121.3 573.9,120.5 576.8,119.7 579.7,118.9 582.5,118.1 585.4,117.4 588.3,116.8 591.2,116.2 594.1,115.7 597.0,115.3 599.9,114.9 602.7,114.6 605.6,114.4 608.5,114.2 611.4,114.0 614.3,113.9 617.2,113.9 620.0,113.8 622.9,113.8 625.8,113.9 628.7,113.9 631.6,114.0 634.5,114.1 637.3,114.3 640.2,114.6 643.1,114.9 646.0,115.2 648.9,115.7 651.8,116.3 654.6,116.9 657.5,117.6 660.4,118.4 663.3,119.3" fill="none" stroke="#68c7bc" stroke-opacity="0.65" stroke-width="2.8" stroke-linejoin="round" stroke-linecap="butt"/>
<polyline points="86.5,236.0 89.4,236.1 92.3,236.0 95.2,235.8 98.0,235.3 100.9,234.5 103.8,233.5 106.7,232.4 109.6,231.3 112.5,230.4 115.3,229.8" fill="none" stroke="#68c7bc" stroke-opacity="0.65" stroke-width="2.8" stroke-linejoin="round" stroke-linecap="butt"/>
<polyline points="115.3,229.8 118.2,229.4 121.1,229.5 124.0,229.7 126.9,230.2" fill="none" stroke="#eaf03c" stroke-opacity="0.8" stroke-width="2.8" stroke-linejoin="round" stroke-linecap="butt"/>
<polyline points="126.9,230.2 129.8,230.9 132.6,231.6 135.5,232.3 138.4,233.1 141.3,233.8 144.2,234.5 147.1,235.0 149.9,235.5 152.8,235.8 155.7,236.1 158.6,236.1 161.5,236.1 164.4,235.9 167.3,235.6 170.1,235.2 173.0,234.6 175.9,233.7 178.8,232.5 181.7,231.1 184.6,229.5 187.4,227.8 190.3,226.1 193.2,224.5 196.1,223.2 199.0,221.9 201.9,220.8 204.7,219.5 207.6,217.9 210.5,215.7 213.4,212.9 216.3,209.3 219.2,205.1 222.0,200.4 224.9,195.5 227.8,190.5 230.7,184.5 233.6,178.2 236.5,172.1 239.4,166.4 242.2,161.3 245.1,156.7 248.0,153.0 250.9,150.0 253.8,147.8 256.7,146.2 259.5,145.3 262.4,144.7 265.3,144.4 268.2,144.1 271.1,143.7 274.0,143.1 276.8,142.1 279.7,140.9 282.6,139.3 285.5,137.5 288.4,135.4 291.3,133.2 294.1,130.9 297.0,128.6 299.9,126.4 302.8,124.4 305.7,122.7 308.6,121.3 311.5,120.2 314.3,119.5 317.2,119.2 320.1,119.2 323.0,119.5 325.9,120.0 328.8,120.7 331.6,121.4 334.5,122.2 337.4,122.8 340.3,123.3 343.2,123.5 346.1,123.4 348.9,123.0 351.8,122.3 354.7,121.3 357.6,120.1 360.5,118.6 363.4,117.0 366.2,115.4 369.1,113.7 372.0,112.2 374.9,110.9 377.8,109.9 380.7,109.2 383.6,108.9 386.4,109.0 389.3,109.5 392.2,110.5 395.1,111.9 398.0,113.6" fill="none" stroke="#68c7bc" stroke-opacity="0.65" stroke-width="2.8" stroke-linejoin="round" stroke-linecap="butt"/>
<polyline points="398.0,113.6 400.9,115.6 403.7,117.9 406.6,120.3 409.5,122.9 412.4,125.4 415.3,127.9 418.2,130.3 421.0,132.6 423.9,134.7 426.8,136.6 429.7,138.3 432.6,139.8 435.5,141.1 438.3,142.2 441.2,143.2 444.1,144.0 447.0,144.8 449.9,145.4 452.8,146.0 455.7,146.6 458.5,147.1 461.4,147.5 464.3,147.9 467.2,148.2 470.1,148.3 473.0,148.2 475.8,148.0 478.7,147.5 481.6,146.8 484.5,145.8 487.4,144.5 490.3,142.9 493.1,141.2 496.0,139.2 498.9,137.0 501.8,134.8 504.7,132.5 507.6,130.2 510.4,128.0 513.3,126.0 516.2,124.2 519.1,122.7 522.0,121.5 524.9,120.7 527.8,120.2 530.6,120.1 533.5,120.4 536.4,121.0 539.3,121.9 542.2,123.0 545.1,124.3 547.9,125.7 550.8,127.1 553.7,128.5 556.6,129.8 559.5,131.0 562.4,132.0 565.2,132.7 568.1,133.2 571.0,133.4 573.9,133.3 576.8,133.2 579.7,132.8 582.5,132.5 585.4,132.1 588.3,131.7 591.2,131.4 594.1,131.3 597.0,131.2 599.9,131.4 602.7,131.7 605.6,132.2 608.5,132.8 611.4,133.5 614.3,134.2 617.2,134.9 620.0,135.5 622.9,135.9 625.8,136.1 628.7,136.0 631.6,135.5 634.5,134.6 637.3,133.3 640.2,131.5 643.1,129.3 646.0,126.6 648.9,123.6 651.8,120.1 654.6,116.4 657.5,112.5 660.4,108.4 663.3,104.3" fill="none" stroke="#30459c" stroke-opacity="0.68" stroke-width="2.8" stroke-linejoin="round" stroke-linecap="butt"/>
<polyline points="86.5,237.3 89.4,238.2 92.3,238.1 95.2,236.9 98.0,234.9 100.9,232.6 103.8,230.4 106.7,228.7 109.6,228.0 112.5,227.9 115.3,228.2 118.2,228.3 121.1,227.8 124.0,226.2" fill="none" stroke="#68c7bc" stroke-opacity="0.65" stroke-width="2.8" stroke-linejoin="round" stroke-linecap="butt"/>
<polyline points="124.0,226.2 126.9,223.5 129.8,220.0 132.6,216.2 135.5,212.7 138.4,209.9" fill="none" stroke="#eaf03c" stroke-opacity="0.8" stroke-width="2.8" stroke-linejoin="round" stroke-linecap="butt"/>
<polyline points="138.4,209.9 141.3,208.1 144.2,207.0 147.1,206.2 149.9,205.4 152.8,203.8 155.7,201.3 158.6,197.0 161.5,191.6 164.4,185.9 167.3,180.4 170.1,175.4 173.0,171.1 175.9,167.6 178.8,164.7 181.7,162.4 184.6,160.4 187.4,158.6 190.3,157.0 193.2,155.6 196.1,154.4 199.0,153.4 201.9,152.7 204.7,152.1 207.6,151.7 210.5,151.3 213.4,150.8 216.3,150.1 219.2,149.2 222.0,148.0 224.9,146.6 227.8,145.0 230.7,143.2 233.6,141.3 236.5,139.4 239.4,137.5 242.2,135.7 245.1,134.0 248.0,132.4 250.9,130.9 253.8,129.6 256.7,128.5 259.5,127.5 262.4,126.8 265.3,126.1 268.2,125.6 271.1,125.2 274.0,124.8 276.8,124.5 279.7,124.2 282.6,123.9 285.5,123.5 288.4,123.1 291.3,122.7 294.1,122.3 297.0,121.9 299.9,121.5 302.8,121.1 305.7,120.7 308.6,120.4 311.5,120.3 314.3,120.2 317.2,120.2 320.1,120.4 323.0,120.7 325.9,121.1 328.8,121.6 331.6,122.2 334.5,122.8 337.4,123.5 340.3,124.2 343.2,125.0 346.1,125.7 348.9,126.5 351.8,127.2 354.7,127.9 357.6,128.7 360.5,129.5 363.4,130.3 366.2,131.2 369.1,132.2 372.0,133.4 374.9,134.6 377.8,136.1 380.7,137.6 383.6,139.4 386.4,141.2 389.3,143.2 392.2,145.3 395.1,147.4 398.0,149.6 400.9,151.7 403.7,153.7 406.6,155.6 409.5,157.3 412.4,158.9 415.3,160.2 418.2,161.3 421.0,162.2 423.9,162.8 426.8,163.2 429.7,163.4 432.6,163.5 435.5,163.4 438.3,163.3 441.2,163.1 444.1,163.0 447.0,162.9 449.9,162.9 452.8,163.0 455.7,163.3 458.5,163.6 461.4,164.0 464.3,164.5 467.2,165.0 470.1,165.5 473.0,166.0 475.8,166.5 478.7,166.8 481.6,167.0 484.5,167.1 487.4,166.9 490.3,166.7 493.1,166.2 496.0,165.6 498.9,164.9 501.8,164.2 504.7,163.4 507.6,162.7 510.4,162.1 513.3,161.6 516.2,161.4 519.1,161.3 522.0,161.6 524.9,162.1 527.8,162.8 530.6,163.9 533.5,165.2 536.4,166.6 539.3,168.3 542.2,170.0 545.1,171.8 547.9,173.5 550.8,175.1 553.7,176.6 556.6,177.9 559.5,179.0 562.4,179.8 565.2,180.3 568.1,180.6 571.0,180.6 573.9,180.4 576.8,179.9 579.7,179.3 582.5,178.6 585.4,177.8 588.3,177.0 591.2,176.3 594.1,175.6 597.0,174.9 599.9,174.4 602.7,174.0 605.6,173.8 608.5,173.6 611.4,173.5 614.3,173.5 617.2,173.6 620.0,173.6 622.9,173.7 625.8,173.7 628.7,173.6 631.6,173.4 634.5,173.1 637.3,172.6 640.2,172.1 643.1,171.4 646.0,170.6 648.9,169.7 651.8,168.7 654.6,167.7 657.5,166.7 660.4,165.6 663.3,164.5" fill="none" stroke="#68c7bc" stroke-opacity="0.65" stroke-width="2.8" stroke-linejoin="round" stroke-linecap="butt"/>
<polyline points="86.5,231.0 89.4,231.0 92.3,231.0 95.2,231.0 98.0,231.0 100.9,231.0 103.8,231.0 106.7,231.0 109.6,231.0 112.5,231.0 115.3,231.0 118.2,231.0 121.1,231.0 124.0,231.0 126.9,231.0 129.8,231.0 132.6,231.0 135.5,231.0 138.4,231.0 141.3,231.0 144.2,231.0 147.1,231.0 149.9,231.0 152.8,231.0 155.7,231.0 158.6,231.0 161.5,231.0 164.4,231.0 167.3,231.0 170.1,231.0 173.0,231.0 175.9,230.3 178.8,228.5 181.7,225.7 184.6,222.1 187.4,217.9 190.3,213.4 193.2,208.6 196.1,203.8 199.0,199.3 201.9,195.1 204.7,190.9 207.6,186.3 210.5,181.5 213.4,176.5 216.3,171.5 219.2,166.7 222.0,162.2 224.9,158.2 227.8,154.7 230.7,152.0 233.6,149.8 236.5,147.6 239.4,145.5 242.2,143.5 245.1,141.5 248.0,139.7 250.9,137.9 253.8,136.2 256.7,134.6 259.5,133.0 262.4,131.6 265.3,130.3 268.2,129.0 271.1,127.9 274.0,126.9 276.8,125.9 279.7,125.1 282.6,124.4 285.5,123.8 288.4,123.3 291.3,122.9 294.1,122.5 297.0,122.1 299.9,121.7 302.8,121.3 305.7,120.9 308.6,120.5 311.5,120.2 314.3,119.8 317.2,119.5 320.1,119.2 323.0,118.9 325.9,118.6 328.8,118.4 331.6,118.1 334.5,117.9 337.4,117.6 340.3,117.4 343.2,117.2 346.1,117.0 348.9,116.9 351.8,116.7 354.7,116.6 357.6,116.5 360.5,116.4 363.4,116.3 366.2,116.2 369.1,116.2 372.0,116.1 374.9,116.1 377.8,116.2 380.7,116.3 383.6,116.5 386.4,116.7 389.3,117.1 392.2,117.4 395.1,117.7 398.0,118.1 400.9,118.4 403.7,118.8 406.6,119.1 409.5,119.3 412.4,119.5 415.3,119.7 418.2,119.7 421.0,118.9 423.9,117.0 426.8,114.3 429.7,111.5 432.6,108.9 435.5,106.7 438.3,104.3 441.2,102.0" fill="none" stroke="#68c7bc" stroke-opacity="0.65" stroke-width="2.8" stroke-linejoin="round" stroke-linecap="butt"/>
<polyline points="441.2,102.0 444.1,99.7 447.0,97.7 449.9,95.5 452.8,93.4 455.7,91.7 458.5,90.9 461.4,90.5 464.3,90.3 467.2,90.4 470.1,91.2 473.0,92.5 475.8,93.6 478.7,94.5 481.6,95.5 484.5,96.6 487.4,98.1 490.3,99.6 493.1,101.2 496.0,103.1 498.9,104.8 501.8,106.3 504.7,107.8 507.6,108.8 510.4,109.2 513.3,109.3 516.2,109.6 519.1,110.6 522.0,112.4 524.9,113.9 527.8,114.6 530.6,115.1 533.5,115.6 536.4,116.0 539.3,116.1 542.2,116.1 545.1,116.1 547.9,116.1 550.8,116.1 553.7,116.1 556.6,116.1 559.5,116.1 562.4,116.1 565.2,116.0 568.1,115.7 571.0,115.2 573.9,114.5 576.8,113.7 579.7,112.8 582.5,111.9 585.4,110.9 588.3,109.9 591.2,108.9 594.1,107.9 597.0,106.6 599.9,105.2 602.7,103.6 605.6,102.0 608.5,100.4 611.4,98.8 614.3,97.3 617.2,95.8 620.0,94.6 622.9,93.4 625.8,92.3 628.7,91.2 631.6,90.1 634.5,89.0 637.3,88.0 640.2,87.0 643.1,86.0 646.0,85.0 648.9,84.1 651.8,83.3 654.6,82.4 657.5,81.7 660.4,80.9 663.3,80.2" fill="none" stroke="#30459c" stroke-opacity="0.68" stroke-width="2.8" stroke-linejoin="round" stroke-linecap="butt"/>
<polyline points="86.5,229.5 89.4,231.2 92.3,232.8 95.2,233.8 98.0,233.8 100.9,232.8 103.8,231.1 106.7,229.0 109.6,227.2 112.5,226.2 115.3,226.5 118.2,228.0 121.1,230.4 124.0,233.1 126.9,235.5 129.8,236.8 132.6,236.9 135.5,235.6 138.4,233.3" fill="none" stroke="#68c7bc" stroke-opacity="0.65" stroke-width="2.8" stroke-linejoin="round" stroke-linecap="butt"/>
<polyline points="138.4,233.3 141.3,230.6 144.2,228.4 147.1,227.1" fill="none" stroke="#eaf03c" stroke-opacity="0.8" stroke-width="2.8" stroke-linejoin="round" stroke-linecap="butt"/>
<polyline points="147.1,227.1 149.9,227.2 152.8,228.6 155.7,230.7 158.6,232.9 161.5,234.5 164.4,234.8 167.3,233.6 170.1,231.1 173.0,227.8 175.9,224.7 178.8,222.4 181.7,221.8 184.6,222.8 187.4,225.3 190.3,228.5 193.2,231.5 196.1,233.5 199.0,233.7 201.9,232.1 204.7,229.0 207.6,225.0 210.5,221.0 213.4,217.6 216.3,215.3 219.2,213.8 222.0,212.8 224.9,211.4 227.8,209.0 230.7,205.3 233.6,200.4 236.5,193.1 239.4,184.3 242.2,176.0 245.1,168.8 248.0,162.8 250.9,158.1 253.8,154.5 256.7,151.5 259.5,149.1 262.4,146.9 265.3,144.9 268.2,143.1 271.1,141.5 274.0,140.0 276.8,138.7 279.7,137.4 282.6,136.1 285.5,134.8 288.4,133.3 291.3,131.6 294.1,129.9 297.0,127.9 299.9,125.9 302.8,123.8 305.7,121.8 308.6,119.8 311.5,117.9 314.3,116.2 317.2,114.8 320.1,113.5 323.0,112.5 325.9,111.8 328.8,111.4 331.6,111.3 334.5,111.4 337.4,111.8 340.3,112.3 343.2,113.1 346.1,113.9 348.9,114.8 351.8,115.7 354.7,116.6 357.6,117.4 360.5,118.1 363.4,118.6 366.2,119.0 369.1,119.2 372.0,119.2 374.9,118.9 377.8,118.6 380.7,118.1 383.6,117.4 386.4,116.8 389.3,116.1 392.2,115.5 395.1,114.9 398.0,114.5 400.9,114.4 403.7,114.4 406.6,114.8 409.5,115.4 412.4,116.4 415.3,117.7 418.2,119.4 421.0,121.4 423.9,123.6 426.8,126.2 429.7,128.9 432.6,131.9 435.5,134.9 438.3,138.1 441.2,141.2 444.1,144.2 447.0,147.2 449.9,150.0 452.8,152.6 455.7,155.0 458.5,157.1 461.4,158.9 464.3,160.3 467.2,161.5 470.1,162.4 473.0,163.0 475.8,163.3 478.7,163.4 481.6,163.3 484.5,162.9 487.4,162.5 490.3,161.9 493.1,161.3 496.0,160.6 498.9,159.9 501.8,159.2 504.7,158.6 507.6,158.0 510.4,157.5 513.3,157.1 516.2,156.8 519.1,156.6 522.0,156.5 524.9,156.5 527.8,156.6 530.6,156.7 533.5,157.0 536.4,157.3 539.3,157.6 542.2,158.0 545.1,158.5 547.9,159.0 550.8,159.5 553.7,160.1 556.6,160.6 559.5,161.2 562.4,161.8 565.2,162.3 568.1,162.8 571.0,163.3 573.9,163.8 576.8,164.2 579.7,164.6 582.5,164.8 585.4,165.0 588.3,165.1 591.2,165.0 594.1,164.9 597.0,164.5 599.9,164.1 602.7,163.5 605.6,162.7 608.5,161.8 611.4,160.8 614.3,159.6 617.2,158.3 620.0,157.0 622.9,155.6 625.8,154.1 628.7,152.6 631.6,151.2 634.5,149.8 637.3,148.4 640.2,147.2 643.1,146.1 646.0,145.1 648.9,144.3 651.8,143.6 654.6,143.0 657.5,142.7 660.4,142.4 663.3,142.3" fill="none" stroke="#68c7bc" stroke-opacity="0.65" stroke-width="2.8" stroke-linejoin="round" stroke-linecap="butt"/>
<polyline points="86.5,237.1 89.4,235.5 92.3,234.1 95.2,233.2 98.0,233.0 100.9,233.5 103.8,234.6 106.7,236.1 109.6,237.5 112.5,238.3 115.3,238.2 118.2,237.0 121.1,234.9 124.0,232.2 126.9,229.3 129.8,226.9 132.6,225.5 135.5,225.4 138.4,226.8 141.3,229.3 144.2,232.7 147.1,236.2 149.9,239.4 152.8,241.7 155.7,242.8 158.6,242.8 161.5,241.8 164.4,240.1 167.3,238.3 170.1,236.8 173.0,235.8 175.9,235.4 178.8,235.6 181.7,236.2 184.6,236.8 187.4,237.4 190.3,237.6 193.2,237.5 196.1,237.1 199.0,236.4 201.9,235.8 204.7,235.3 207.6,234.8 210.5,234.5 213.4,234.2 216.3,233.8 219.2,233.3 222.0,232.7 224.9,232.1 227.8,231.7 230.7,231.7 233.6,232.3 236.5,233.5 239.4,235.1 242.2,237.0 245.1,238.6 248.0,239.8 250.9,240.0 253.8,239.1 256.7,237.3 259.5,234.8 262.4,232.0 265.3,229.6 268.2,228.0 271.1,227.6 274.0,228.6 276.8,230.8 279.7,233.8 282.6,237.0 285.5,239.8 288.4,241.9 291.3,242.7 294.1,242.4 297.0,241.1 299.9,239.2 302.8,237.3 305.7,235.7 308.6,234.8" fill="none" stroke="#68c7bc" stroke-opacity="0.65" stroke-width="2.8" stroke-linejoin="round" stroke-linecap="butt"/>
<polyline points="308.6,234.8 311.5,234.7 314.3,235.4 317.2,236.5 320.1,237.8 323.0,238.7 325.9,239.2 328.8,238.9" fill="none" stroke="#eaf03c" stroke-opacity="0.8" stroke-width="2.8" stroke-linejoin="round" stroke-linecap="butt"/>
<polyline points="328.8,238.9 331.6,238.0 334.5,236.6 337.4,235.0 340.3,233.4 343.2,232.1 346.1,231.0 348.9,230.3 351.8,229.9 354.7,229.7 357.6,229.6 360.5,229.7 363.4,230.1 366.2,230.8 369.1,232.0 372.0,233.6 374.9,235.6 377.8,237.7 380.7,239.8 383.6,241.3 386.4,242.0 389.3,241.8 392.2,240.5 395.1,238.5 398.0,235.7 400.9,233.3 403.7,231.8 406.6,231.3 409.5,230.9 412.4,230.1 415.3,228.7 418.2,227.4 421.0,225.4 423.9,222.3 426.8,218.5 429.7,214.5 432.6,210.8 435.5,206.8 438.3,202.6 441.2,198.3 444.1,193.9 447.0,189.2 449.9,184.5 452.8,180.4 455.7,176.8 458.5,173.7 461.4,171.5 464.3,169.6 467.2,167.8 470.1,166.0 473.0,164.1 475.8,162.2 478.7,160.4 481.6,158.7 484.5,157.2 487.4,155.8 490.3,154.5 493.1,153.2 496.0,152.1 498.9,151.1 501.8,150.1 504.7,147.6 507.6,145.1 510.4,142.7 513.3,140.7 516.2,138.8 519.1,137.3 522.0,136.1 524.9,135.2 527.8,134.4 530.6,133.9 533.5,133.4 536.4,133.1 539.3,132.7 542.2,132.4 545.1,132.0 547.9,131.5 550.8,131.0 553.7,130.4 556.6,129.9 559.5,129.4 562.4,129.1 565.2,128.9 568.1,129.0 571.0,129.4 573.9,130.1 576.8,131.2 579.7,132.7 582.5,134.5 585.4,136.7 588.3,139.2 591.2,141.8 594.1,144.6 597.0,147.3 599.9,150.0 602.7,152.4 605.6,154.5 608.5,156.2 611.4,157.4 614.3,158.1 617.2,158.3 620.0,157.9 622.9,157.1 625.8,155.8 628.7,154.1 631.6,152.2 634.5,150.1 637.3,147.9 640.2,145.7 643.1,143.7 646.0,141.8 648.9,140.1 651.8,138.7 654.6,137.6 657.5,136.6 660.4,135.9 663.3,135.4" fill="none" stroke="#68c7bc" stroke-opacity="0.65" stroke-width="2.8" stroke-linejoin="round" stroke-linecap="butt"/>
<polyline points="86.5,235.5 89.4,238.6 92.3,240.8 95.2,241.6 98.0,240.6 100.9,238.0 103.8,234.3 106.7,230.3 109.6,226.9 112.5,224.7 115.3,224.2 118.2,225.4 121.1,228.2 124.0,231.7 126.9,235.2 129.8,237.9 132.6,239.0 135.5,238.4 138.4,236.0 141.3,232.5 144.2,228.4 147.1,224.8 149.9,222.2 152.8,221.2 155.7,222.0 158.6,224.2 161.5,227.3 164.4,230.6 167.3,233.4 170.1,235.0 173.0,235.1 175.9,233.7 178.8,231.3 181.7,228.2 184.6,225.2 187.4,222.8 190.3,221.2 193.2,220.5 196.1,220.6 199.0,221.0 201.9,221.3 204.7,221.1 207.6,220.1 210.5,218.3 213.4,215.8 216.3,212.8 219.2,209.7 222.0,206.8 224.9,204.1 227.8,201.7 230.7,199.5 233.6,196.3 236.5,192.5 239.4,188.4 242.2,183.8 245.1,178.9 248.0,173.6 250.9,168.3 253.8,163.0 256.7,157.9 259.5,153.1 262.4,148.8 265.3,145.0 268.2,141.7 271.1,139.1 274.0,137.1 276.8,135.7 279.7,135.0 282.6,134.8 285.5,135.1 288.4,135.9 291.3,136.8 294.1,137.9 297.0,138.9 299.9,139.8 302.8,140.5 305.7,140.9 308.6,141.1 311.5,141.2 314.3,141.1 317.2,140.9 320.1,140.8 323.0,140.8 325.9,140.8 328.8,141.0 331.6,141.3 334.5,141.7 337.4,142.1 340.3,142.4 343.2,142.5 346.1,142.4 348.9,142.0 351.8,141.2 354.7,140.0 357.6,138.4 360.5,136.3 363.4,134.0 366.2,131.3 369.1,128.6 372.0,125.8 374.9,123.1 377.8,120.5 380.7,118.4 383.6,116.6 386.4,115.2 389.3,114.4 392.2,114.0 395.1,114.0 398.0,114.4 400.9,115.0 403.7,115.9 406.6,116.7 409.5,117.6 412.4,118.4 415.3,119.1 418.2,119.6 421.0,120.0 423.9,120.4 426.8,120.6 429.7,121.0 432.6,121.5 435.5,122.2 438.3,123.2 441.2,124.5 444.1,126.2 447.0,128.3 449.9,130.6 452.8,133.2 455.7,135.9 458.5,138.7 461.4,141.2 464.3,143.6 467.2,145.5 470.1,147.0 473.0,147.9 475.8,148.2 478.7,147.9 481.6,147.0 484.5,145.6 487.4,143.8 490.3,141.8 493.1,139.5 496.0,137.1 498.9,134.8 501.8,132.5 504.7,130.5 507.6,128.6 510.4,127.0 513.3,125.6 516.2,124.3 519.1,123.2 522.0,122.5 524.9,121.9 527.8,121.3 530.6,120.8 533.5,120.4 536.4,120.0 539.3,119.7 542.2,119.4 545.1,119.2 547.9,119.1 550.8,119.2 553.7,119.4 556.6,120.0 559.5,120.8 562.4,121.8 565.2,123.1 568.1,126.2 571.0,129.8 573.9,133.6 576.8,137.4 579.7,141.1 582.5,144.5 585.4,147.5 588.3,150.0 591.2,151.8 594.1,153.0 597.0,153.6 599.9,153.5 602.7,152.8 605.6,151.7 608.5,150.3 611.4,148.6 614.3,146.8 617.2,144.9 620.0,143.1 622.9,141.4 625.8,139.8 628.7,138.3 631.6,137.0 634.5,135.6 637.3,134.3 640.2,132.9 643.1,131.4 646.0,129.7 648.9,127.9 651.8,126.0 654.6,124.0 657.5,122.7 660.4,121.8 663.3,121.0" fill="none" stroke="#68c7bc" stroke-opacity="0.65" stroke-width="2.8" stroke-linejoin="round" stroke-linecap="butt"/>
<polyline points="86.5,231.0 89.4,231.0 92.3,231.0 95.2,231.0 98.0,231.0 100.9,231.0 103.8,231.0 106.7,229.1 109.6,224.4 112.5,218.3 115.3,211.6 118.2,202.2 121.1,192.2 124.0,183.9 126.9,175.6 129.8,168.5 132.6,164.2 135.5,162.5 138.4,161.3 141.3,159.9 144.2,157.9 147.1,155.4 149.9,152.7 152.8,149.6 155.7,145.1 158.6,140.7 161.5,138.2 164.4,137.0 167.3,136.3 170.1,136.0 173.0,135.8 175.9,135.6 178.8,135.3 181.7,134.8 184.6,134.2 187.4,133.6 190.3,132.9 193.2,132.1 196.1,131.1 199.0,130.1 201.9,128.9 204.7,127.5 207.6,126.0 210.5,124.3 213.4,122.7 216.3,120.9 219.2,119.1 222.0,117.3 224.9,115.4 227.8,113.5 230.7,111.5 233.6,109.5 236.5,108.0 239.4,106.8 242.2,105.7 245.1,104.8 248.0,104.0 250.9,103.4 253.8,103.0 256.7,102.7 259.5,102.5 262.4,102.2 265.3,102.0 268.2,101.9 271.1,101.8 274.0,101.8 276.8,101.8 279.7,101.8 282.6,101.9 285.5,102.1 288.4,102.2 291.3,102.4 294.1,102.6 297.0,102.8 299.9,103.0 302.8,103.2 305.7,103.4 308.6,103.7 311.5,104.0 314.3,104.3 317.2,104.7 320.1,105.0 323.0,105.4 325.9,105.9 328.8,106.3 331.6,106.7 334.5,107.2 337.4,107.6 340.3,108.1 343.2,108.5 346.1,108.9 348.9,109.4 351.8,109.8 354.7,110.3 357.6,110.7 360.5,111.2 363.4,111.7 366.2,112.2 369.1,112.7 372.0,113.2 374.9,113.7 377.8,114.2 380.7,114.7 383.6,115.2 386.4,115.6 389.3,116.1 392.2,116.6 395.1,117.1 398.0,117.5 400.9,118.0 403.7,118.4 406.6,118.9 409.5,119.3 412.4,119.8 415.3,120.2 418.2,120.7 421.0,121.2 423.9,121.7 426.8,122.2 429.7,122.7 432.6,123.3 435.5,123.9 438.3,124.5 441.2,125.2 444.1,125.9 447.0,126.6 449.9,127.3 452.8,128.0 455.7,128.8 458.5,129.6 461.4,130.3 464.3,131.1 467.2,131.8 470.1,132.6 473.0,133.3 475.8,134.1 478.7,134.8 481.6,135.7 484.5,136.6 487.4,137.5 490.3,138.5 493.1,139.4 496.0,140.3 498.9,141.2 501.8,142.1 504.7,142.8 507.6,143.5 510.4,144.1 513.3,144.5 516.2,144.7 519.1,144.8 522.0,144.8 524.9,144.7 527.8,144.6 530.6,144.5 533.5,144.3 536.4,144.1 539.3,143.8 542.2,143.6 545.1,143.3 547.9,143.0 550.8,142.7 553.7,142.3 556.6,142.0 559.5,141.6 562.4,141.2 565.2,140.8 568.1,140.3 571.0,139.7 573.9,139.0 576.8,138.2 579.7,137.4 582.5,136.5 585.4,135.7 588.3,134.8 591.2,134.0 594.1,133.1 597.0,132.4 599.9,131.7 602.7,131.0 605.6,130.5 608.5,130.0 611.4,129.5 614.3,129.0 617.2,128.6 620.0,128.1 622.9,127.7 625.8,127.3 628.7,126.8 631.6,126.4 634.5,126.1 637.3,125.7 640.2,125.3 643.1,125.0 646.0,124.7 648.9,124.4 651.8,124.1 654.6,123.9 657.5,123.7 660.4,123.5 663.3,123.3" fill="none" stroke="#68c7bc" stroke-opacity="0.65" stroke-width="2.8" stroke-linejoin="round" stroke-linecap="butt"/>
<polyline points="86.5,226.8 89.4,227.1 92.3,228.2 95.2,229.9 98.0,231.5 100.9,232.5 103.8,232.7 106.7,232.2 109.6,231.2 112.5,230.1 115.3,229.5 118.2,229.3 121.1,229.6 124.0,230.1 126.9,230.5 129.8,230.5 132.6,230.1 135.5,229.4 138.4,228.7 141.3,228.4 144.2,228.6 147.1,229.5 149.9,230.7 152.8,231.8 155.7,232.4 158.6,232.1" fill="none" stroke="#68c7bc" stroke-opacity="0.65" stroke-width="2.8" stroke-linejoin="round" stroke-linecap="butt"/>
<polyline points="158.6,232.1 161.5,231.1 164.4,229.6 167.3,228.1 170.1,227.3 173.0,227.6" fill="none" stroke="#eaf03c" stroke-opacity="0.8" stroke-width="2.8" stroke-linejoin="round" stroke-linecap="butt"/>
<polyline points="173.0,227.6 175.9,229.0 178.8,231.1 181.7,233.5 184.6,235.2 187.4,235.8 190.3,235.0 193.2,232.9 196.1,230.3 199.0,227.8 201.9,226.4 204.7,226.3 207.6,227.7 210.5,229.9 213.4,232.4 216.3,234.1 219.2,234.4 222.0,233.2 224.9,230.8 227.8,227.9 230.7,225.2 233.6,223.7 236.5,223.6 239.4,224.9 242.2,227.2 245.1,229.6 248.0,231.5 250.9,232.2 253.8,231.8 256.7,230.4 259.5,228.8 262.4,227.4 265.3,227.0 268.2,227.5 271.1,228.9 274.0,230.8 276.8,232.6 279.7,233.8 282.6,234.2 285.5,234.0 288.4,233.4 291.3,232.7 294.1,232.4 297.0,232.5 299.9,232.9 302.8,233.3 305.7,233.4 308.6,233.0 311.5,232.1 314.3,230.9 317.2,229.7 320.1,229.0 323.0,228.9 325.9,229.3 328.8,230.1 331.6,230.7 334.5,230.6 337.4,229.7 340.3,228.0 343.2,225.9 346.1,223.9 348.9,222.8 351.8,223.0 354.7,224.4 357.6,226.7 360.5,229.3 363.4,231.4 366.2,232.4 369.1,232.0 372.0,230.5 374.9,228.5 377.8,226.8 380.7,226.1 383.6,226.9 386.4,229.1 389.3,232.2 392.2,235.4 395.1,237.8 398.0,238.8 400.9,238.2 403.7,236.2 406.6,233.5 409.5,231.1 412.4,229.6 415.3,229.3 418.2,230.3 421.0,232.1 423.9,233.8 426.8,234.8 429.7,234.7 432.6,233.4 435.5,231.1 438.3,228.6 441.2,226.3 444.1,225.0 447.0,224.6 449.9,225.1 452.8,226.0 455.7,227.0 458.5,227.5 461.4,227.5 464.3,227.0 467.2,226.4 470.1,226.1 473.0,226.2 475.8,226.9 478.7,228.0 481.6,229.2 484.5,230.2 487.4,230.7 490.3,230.7 493.1,230.4 496.0,229.7 498.9,228.6 501.8,227.4 504.7,226.1 507.6,224.9 510.4,223.6 513.3,222.2 516.2,220.8 519.1,219.3 522.0,217.8 524.9,216.2 527.8,214.6 530.6,213.1 533.5,211.5 536.4,209.9 539.3,208.5 542.2,207.2 545.1,205.9 547.9,204.5 550.8,203.0 553.7,201.3 556.6,199.4 559.5,197.0 562.4,193.4 565.2,188.8 568.1,183.8 571.0,179.0 573.9,174.0 576.8,169.0 579.7,164.3 582.5,159.8 585.4,155.6 588.3,152.4 591.2,149.7 594.1,147.2 597.0,145.2 599.9,143.7 602.7,142.6 605.6,142.4 608.5,142.7 611.4,143.4 614.3,144.4 617.2,145.4 620.0,146.4 622.9,147.1 625.8,147.5 628.7,147.6 631.6,147.2 634.5,146.4 637.3,145.3 640.2,144.0 643.1,142.6 646.0,141.3 648.9,140.2 651.8,139.5 654.6,139.4 657.5,139.8 660.4,141.0 663.3,142.9" fill="none" stroke="#68c7bc" stroke-opacity="0.65" stroke-width="2.8" stroke-linejoin="round" stroke-linecap="butt"/>
<polyline points="86.5,235.8 89.4,232.4 92.3,229.5 95.2,227.5 98.0,226.9 100.9,227.5 103.8,229.2 106.7,231.5 109.6,233.8 112.5,235.5 115.3,236.3 118.2,236.1 121.1,235.1 124.0,233.4 126.9,231.7 129.8,230.3 132.6,229.7 135.5,230.1 138.4,231.3 141.3,233.3 144.2,235.6 147.1,237.8 149.9,239.5 152.8,240.4 155.7,240.6 158.6,240.0 161.5,238.8 164.4,237.5 167.3,236.2 170.1,235.3 173.0,234.8 175.9,234.6 178.8,234.8 181.7,235.2 184.6,235.4 187.4,235.5 190.3,235.4 193.2,234.9 196.1,234.3 199.0,233.7 201.9,233.0 204.7,232.5 207.6,232.1 210.5,231.9 213.4,231.8 216.3,231.7 219.2,231.6 222.0,231.6 224.9,231.8 227.8,232.0 230.7,232.6 233.6,233.3 236.5,234.3 239.4,235.3 242.2,236.3 245.1,236.9 248.0,237.2 250.9,236.9 253.8,236.2 256.7,235.2 259.5,234.1 262.4,233.3 265.3,233.0 268.2,233.3 271.1,234.2 274.0,235.0 276.8,235.3 279.7,234.5 282.6,232.6 285.5,229.3 288.4,225.5 291.3,222.1 294.1,219.5 297.0,217.0 299.9,214.4 302.8,211.4 305.7,207.9 308.6,204.2 311.5,200.3 314.3,196.3 317.2,192.4 320.1,188.6 323.0,185.0 325.9,181.3 328.8,177.4 331.6,173.1 334.5,168.2 337.4,161.6 340.3,155.4 343.2,151.4 346.1,148.3 348.9,145.8 351.8,143.9 354.7,142.4 357.6,141.1 360.5,140.0 363.4,138.9 366.2,137.7 369.1,136.5 372.0,135.3 374.9,134.1 377.8,132.9 380.7,131.7 383.6,131.1 386.4,130.4 389.3,129.6 392.2,128.8 395.1,127.9 398.0,127.0 400.9,126.0 403.7,125.0 406.6,124.1 409.5,123.3 412.4,122.6 415.3,122.1 418.2,121.8 421.0,121.7 423.9,121.9 426.8,122.3 429.7,122.9 432.6,123.8 435.5,124.9 438.3,126.2 441.2,127.5 444.1,129.0 447.0,130.6 449.9,132.1 452.8,133.6 455.7,135.1 458.5,136.6 461.4,137.9 464.3,139.2 467.2,140.4 470.1,141.5 473.0,142.6 475.8,143.7 478.7,144.7 481.6,145.8 484.5,147.0 487.4,148.3 490.3,149.6 493.1,150.9 496.0,152.4 498.9,153.9 501.8,155.4 504.7,156.8 507.6,158.2 510.4,159.4 513.3,160.5 516.2,161.3 519.1,161.8 522.0,162.0 524.9,161.9 527.8,161.4 530.6,160.5 533.5,159.2 536.4,157.6 539.3,155.8 542.2,153.7 545.1,151.4 547.9,149.0 550.8,146.6 553.7,144.2 556.6,141.9 559.5,139.9 562.4,138.0 565.2,136.4 568.1,135.1 571.0,134.0 573.9,133.3 576.8,132.9 579.7,132.7 582.5,132.6 585.4,132.8 588.3,133.0 591.2,133.2 594.1,133.4 597.0,133.5 599.9,133.4 602.7,133.2 605.6,132.7 608.5,132.1 611.4,131.2 614.3,130.2 617.2,129.0 620.0,127.7 622.9,126.3 625.8,124.9 628.7,123.6 631.6,122.9 634.5,122.4 637.3,121.9 640.2,121.6 643.1,121.3 646.0,121.2 648.9,121.2 651.8,121.2 654.6,121.4 657.5,121.6 660.4,121.9 663.3,122.2" fill="none" stroke="#68c7bc" stroke-opacity="0.65" stroke-width="2.8" stroke-linejoin="round" stroke-linecap="butt"/>
<polyline points="86.5,235.0 89.4,236.4 92.3,237.5 95.2,238.0 98.0,237.8 100.9,237.0 103.8,235.6 106.7,234.0 109.6,232.1 112.5,230.1 115.3,228.2 118.2,226.2 121.1,224.3 124.0,222.3 126.9,220.3 129.8,218.4 132.6,216.5 135.5,214.5 138.4,212.6 141.3,210.4 144.2,208.0 147.1,205.3 149.9,202.1 152.8,198.7 155.7,195.1 158.6,191.5 161.5,187.6 164.4,184.2 167.3,181.3 170.1,178.8 173.0,176.6 175.9,174.6 178.8,172.4 181.7,170.1 184.6,167.6 187.4,164.9 190.3,162.1 193.2,159.3 196.1,156.6 199.0,154.2 201.9,152.1 204.7,150.3 207.6,148.8 210.5,147.5 213.4,146.3 216.3,145.3 219.2,144.3 222.0,143.3 224.9,142.3 227.8,141.3 230.7,140.2 233.6,139.1 236.5,137.7 239.4,136.3 242.2,134.7 245.1,132.8 248.0,130.8 250.9,128.6 253.8,126.3 256.7,123.9 259.5,121.5 262.4,119.1 265.3,116.9 268.2,114.8 271.1,112.9 274.0,111.4 276.8,110.2 279.7,109.3 282.6,108.8 285.5,108.6 288.4,108.8 291.3,109.3 294.1,110.0 297.0,111.0 299.9,112.1 302.8,113.2 305.7,114.4 308.6,115.6 311.5,116.7 314.3,117.7 317.2,118.6 320.1,119.3 323.0,119.8 325.9,120.2 328.8,120.5 331.6,120.6 334.5,120.7 337.4,120.8 340.3,120.8 343.2,120.9 346.1,121.0 348.9,121.2 351.8,121.6 354.7,122.0 357.6,122.5 360.5,123.2 363.4,123.9 366.2,124.7 369.1,125.5 372.0,126.4 374.9,127.2 377.8,128.0 380.7,128.7 383.6,129.4 386.4,129.9 389.3,130.3 392.2,130.7 395.1,130.8 398.0,130.9 400.9,130.8 403.7,130.7 406.6,130.4" fill="none" stroke="#68c7bc" stroke-opacity="0.65" stroke-width="2.8" stroke-linejoin="round" stroke-linecap="butt"/>
<polyline points="406.6,130.4 409.5,130.0 412.4,129.6 415.3,129.0 418.2,128.4 421.0,127.7 423.9,127.0 426.8,126.1 429.7,125.3 432.6,124.3 435.5,123.4 438.3,122.4 441.2,121.3 444.1,120.3 447.0,119.2 449.9,118.2 452.8,117.2 455.7,116.3 458.5,115.5 461.4,114.8 464.3,114.2 467.2,113.8 470.1,113.5 473.0,113.4 475.8,113.5 478.7,113.7 481.6,114.1 484.5,114.6 487.4,115.2 490.3,115.9 493.1,116.6 496.0,117.3 498.9,118.1 501.8,118.8 504.7,119.5 507.6,120.2 510.4,120.8 513.3,121.4 516.2,122.0 519.1,122.6 522.0,123.2 524.9,124.0 527.8,124.8 530.6,125.8 533.5,126.9 536.4,128.2 539.3,129.7 542.2,131.4 545.1,133.3 547.9,135.4 550.8,137.6 553.7,140.0 556.6,142.3 559.5,144.7 562.4,147.1 565.2,149.3 568.1,151.4 571.0,153.3 573.9,154.9 576.8,156.3 579.7,157.4 582.5,158.2 585.4,158.8 588.3,159.1 591.2,159.1 594.1,159.0 597.0,158.7 599.9,158.3 602.7,157.7 605.6,157.1 608.5,156.5 611.4,155.8 614.3,155.0 617.2,154.2 620.0,153.4 622.9,152.4 625.8,151.3 628.7,150.2 631.6,148.8 634.5,147.2 637.3,145.4 640.2,143.4 643.1,141.2 646.0,138.8 648.9,136.2 651.8,133.4 654.6,130.6 657.5,127.8 660.4,125.0 663.3,122.3" fill="none" stroke="#30459c" stroke-opacity="0.68" stroke-width="2.8" stroke-linejoin="round" stroke-linecap="butt"/>
<polyline points="86.5,231.2 89.4,231.8 92.3,232.7 95.2,233.9 98.0,235.3 100.9,236.7 103.8,237.9 106.7,238.6 109.6,238.9 112.5,238.7 115.3,238.0 118.2,236.9 121.1,235.6 124.0,234.3 126.9,233.2 129.8,232.4 132.6,232.0 135.5,232.1 138.4,232.6 141.3,233.3 144.2,234.1 147.1,234.9 149.9,235.4 152.8,235.4 155.7,235.0 158.6,234.1 161.5,232.9 164.4,231.5 167.3,230.1 170.1,229.0 173.0,228.4 175.9,228.3 178.8,229.0 181.7,230.3 184.6,232.1 187.4,234.2 190.3,236.3 193.2,238.2 196.1,239.7 199.0,240.5 201.9,240.7 204.7,240.1 207.6,239.1 210.5,237.6 213.4,236.1 216.3,234.8 219.2,233.9 222.0,233.4 224.9,233.6 227.8,234.3 230.7,235.3 233.6,236.5 236.5,237.5 239.4,238.2 242.2,238.2 245.1,237.7 248.0,236.4 250.9,234.6 253.8,232.4 256.7,230.2 259.5,228.2 262.4,226.8 265.3,226.1 268.2,226.3 271.1,227.3 274.0,229.1 276.8,231.3 279.7,233.7 282.6,235.9 285.5,237.7 288.4,238.8 291.3,239.0 294.1,238.6 297.0,237.4 299.9,235.9 302.8,234.3 305.7,232.9 308.6,231.9 311.5,231.7 314.3,232.2 317.2,233.4 320.1,235.0 323.0,236.9 325.9,238.7 328.8,240.1 331.6,240.8 334.5,240.6 337.4,239.6 340.3,237.8 343.2,235.4 346.1,232.8 348.9,230.5 351.8,228.6 354.7,227.5 357.6,227.4 360.5,228.2 363.4,229.9 366.2,232.1 369.1,234.6 372.0,237.0 374.9,238.8 377.8,239.8 380.7,240.0 383.6,239.2 386.4,237.6 389.3,235.5 392.2,233.1 395.1,231.2 398.0,230.3 400.9,230.2 403.7,230.3 406.6,229.8 409.5,228.7 412.4,227.4 415.3,225.3 418.2,222.0 421.0,218.1 423.9,214.2 426.8,210.5 429.7,206.4 432.6,202.2 435.5,197.9 438.3,193.4 441.2,188.6 444.1,184.2 447.0,180.4 449.9,177.0 452.8,174.5 455.7,172.5 458.5,170.7 461.4,168.9 464.3,167.0 467.2,165.1 470.1,163.3 473.0,161.6 475.8,160.0 478.7,158.6 481.6,157.3 484.5,156.1 487.4,155.0 490.3,153.9 493.1,153.0 496.0,152.2 498.9,150.9 501.8,149.7 504.7,148.5 507.6,147.2 510.4,145.7 513.3,144.1 516.2,142.4 519.1,140.4 522.0,138.3 524.9,136.1 527.8,133.8 530.6,131.4 533.5,129.2 536.4,127.0 539.3,125.1 542.2,123.4 545.1,122.7 547.9,122.3 550.8,122.0 553.7,121.9 556.6,122.1 559.5,122.4 562.4,122.8 565.2,123.7 568.1,125.4 571.0,127.3 573.9,129.4 576.8,131.5 579.7,133.6 582.5,135.5 585.4,137.3 588.3,138.8 591.2,140.0 594.1,140.9 597.0,141.3 599.9,141.4 602.7,141.1 605.6,140.4 608.5,139.3 611.4,137.9 614.3,136.2 617.2,134.3 620.0,132.3 622.9,130.1 625.8,127.8 628.7,125.5 631.6,123.3 634.5,122.3 637.3,121.3 640.2,120.3 643.1,119.5 646.0,118.6 648.9,117.8 651.8,117.1 654.6,116.4 657.5,115.8 660.4,115.2 663.3,114.7" fill="none" stroke="#68c7bc" stroke-opacity="0.65" stroke-width="2.8" stroke-linejoin="round" stroke-linecap="butt"/>
<polyline points="86.5,234.6 89.4,234.6 92.3,234.6 95.2,234.5 98.0,234.5 100.9,234.4 103.8,234.3 106.7,234.2 109.6,234.0 112.5,233.9 115.3,233.7 118.2,233.5 121.1,233.3 124.0,233.1 126.9,232.9 129.8,232.6 132.6,232.3 135.5,232.0 138.4,231.7 141.3,231.4 144.2,231.0 147.1,230.2 149.9,228.7 152.8,226.5 155.7,223.9 158.6,220.7 161.5,217.3 164.4,213.6 167.3,209.8 170.1,206.0 173.0,202.3 175.9,198.2 178.8,193.2 181.7,187.7 184.6,181.9 187.4,175.9 190.3,170.0 193.2,164.5 196.1,159.5 199.0,155.2 201.9,152.0 204.7,149.5 207.6,147.1 210.5,144.9 213.4,142.9 216.3,141.1 219.2,139.4 222.0,137.9 224.9,136.5 227.8,135.2 230.7,134.1 233.6,133.0 236.5,132.0 239.4,131.1 242.2,130.2 245.1,129.4 248.0,128.6 250.9,127.8 253.8,127.1 256.7,126.4 259.5,125.7 262.4,125.1 265.3,124.5 268.2,123.9 271.1,123.3 274.0,122.7 276.8,122.1 279.7,121.5 282.6,120.9 285.5,120.3 288.4,119.7 291.3,119.1 294.1,118.4 297.0,117.7 299.9,117.0 302.8,116.3 305.7,115.6 308.6,114.9 311.5,114.1 314.3,113.5 317.2,112.8 320.1,112.1 323.0,111.5 325.9,111.0 328.8,110.5 331.6,110.0 334.5,109.7 337.4,109.4 340.3,109.1 343.2,109.0 346.1,108.9 348.9,109.0 351.8,109.1 354.7,109.4 357.6,109.7 360.5,110.1 363.4,110.5 366.2,111.0 369.1,111.5 372.0,112.0 374.9,112.5 377.8,113.1 380.7,113.6 383.6,114.1 386.4,114.6 389.3,115.0 392.2,115.4 395.1,115.7 398.0,115.9 400.9,116.1 403.7,116.1 406.6,116.0 409.5,115.8 412.4,115.4 415.3,114.9 418.2,114.3 421.0,113.6 423.9,112.9 426.8,112.2 429.7,111.5 432.6,110.8" fill="none" stroke="#68c7bc" stroke-opacity="0.65" stroke-width="2.8" stroke-linejoin="round" stroke-linecap="butt"/>
<polyline points="432.6,110.8 435.5,110.2 438.3,109.7 441.2,109.3 444.1,109.0 447.0,108.9 449.9,108.9 452.8,108.9 455.7,108.9 458.5,108.9 461.4,108.9 464.3,108.9 467.2,108.9 470.1,108.9 473.0,108.9 475.8,108.9 478.7,108.9 481.6,108.9 484.5,108.9 487.4,108.9 490.3,108.9 493.1,108.9 496.0,108.9 498.9,108.9 501.8,108.9 504.7,108.9 507.6,108.9 510.4,108.9 513.3,108.9 516.2,108.9 519.1,108.9 522.0,108.9 524.9,108.7 527.8,108.5 530.6,108.2 533.5,107.8 536.4,107.4 539.3,106.9 542.2,106.4 545.1,105.9 547.9,105.3 550.8,104.8 553.7,104.3 556.6,103.6 559.5,102.8 562.4,101.8 565.2,100.5 568.1,98.9 571.0,94.4 573.9,88.8 576.8,84.9 579.7,81.6 582.5,80.1 585.4,79.6 588.3,79.4 591.2,79.0 594.1,78.4 597.0,77.5 599.9,76.1 602.7,74.4 605.6,71.8 608.5,67.0 611.4,61.8 614.3,58.3 617.2,57.2 620.0,56.6 622.9,56.0 625.8,55.0 628.7,52.7 631.6,49.2 634.5,45.9 637.3,42.7 640.2,39.5 643.1,36.2 646.0,33.0 648.9,30.0 651.8,27.0 654.6,24.0 657.5,21.2 660.4,18.4 663.3,15.6" fill="none" stroke="#30459c" stroke-opacity="0.68" stroke-width="2.8" stroke-linejoin="round" stroke-linecap="butt"/>
<polyline points="86.5,234.6 89.4,234.3 92.3,233.9 95.2,233.4 98.0,232.8 100.9,232.1 103.8,231.2 106.7,230.4 109.6,229.4 112.5,228.4 115.3,227.4 118.2,226.3 121.1,225.0 124.0,223.6 126.9,222.0 129.8,220.3 132.6,218.4 135.5,216.4 138.4,214.2 141.3,211.9 144.2,209.5 147.1,206.6 149.9,203.0 152.8,198.9 155.7,194.4 158.6,189.6 161.5,184.8 164.4,179.8 167.3,175.1 170.1,170.5 173.0,166.4 175.9,162.3 178.8,158.1 181.7,153.9 184.6,149.6 187.4,145.5 190.3,141.6 193.2,138.1 196.1,135.0 199.0,132.4 201.9,130.5 204.7,129.0 207.6,127.5 210.5,126.2 213.4,125.0 216.3,123.9 219.2,122.8 222.0,121.8 224.9,120.9 227.8,120.1 230.7,119.3 233.6,118.6 236.5,117.9 239.4,117.3 242.2,116.7 245.1,116.1 248.0,115.6 250.9,115.1 253.8,114.7 256.7,114.3 259.5,113.9 262.4,113.5 265.3,113.1 268.2,112.8 271.1,112.5 274.0,112.2 276.8,111.8 279.7,111.5 282.6,111.2 285.5,110.9 288.4,110.6 291.3,110.3 294.1,110.0 297.0,109.7 299.9,109.3 302.8,108.9 305.7,108.5 308.6,108.1 311.5,107.6 314.3,107.1 317.2,106.5 320.1,106.0 323.0,105.4 325.9,104.9 328.8,104.4 331.6,103.9 334.5,103.4 337.4,103.0 340.3,102.6 343.2,102.3 346.1,102.0 348.9,101.9 351.8,101.8 354.7,101.8 357.6,101.9 360.5,102.3" fill="none" stroke="#68c7bc" stroke-opacity="0.65" stroke-width="2.8" stroke-linejoin="round" stroke-linecap="butt"/>
<polyline points="360.5,102.3 363.4,102.7 366.2,103.3 369.1,103.9 372.0,104.6 374.9,105.3 377.8,106.4 380.7,107.9 383.6,109.7 386.4,111.8 389.3,114.0 392.2,116.4 395.1,118.6 398.0,120.8 400.9,123.0 403.7,125.4 406.6,127.8 409.5,130.3 412.4,132.8 415.3,135.2 418.2,137.7 421.0,140.0 423.9,142.4 426.8,144.8 429.7,147.2 432.6,149.6 435.5,152.0 438.3,154.4 441.2,156.8 444.1,159.2 447.0,161.6 449.9,164.0 452.8,166.3 455.7,168.7 458.5,171.1 461.4,173.5 464.3,176.0 467.2,178.7 470.1,181.5 473.0,184.4 475.8,187.4 478.7,190.6 481.6,194.0 484.5,197.5 487.4,201.2 490.3,205.3 493.1,209.6 496.0,214.2 498.9,218.8 501.8,224.0 504.7,229.2 507.6,233.1 510.4,236.5 513.3,239.4 516.2,241.0 519.1,240.8 522.0,239.7 524.9,238.2 527.8,236.7 530.6,235.1 533.5,233.1 536.4,231.1 539.3,229.8 542.2,229.6 545.1,230.4 547.9,231.7 550.8,233.2 553.7,234.6 556.6,235.9 559.5,237.4 562.4,238.9 565.2,239.9 568.1,240.3 571.0,239.5 573.9,237.7 576.8,235.5 579.7,233.7 582.5,231.6 585.4,229.5 588.3,228.3 591.2,228.4 594.1,230.0 597.0,232.4 599.9,234.6 602.7,236.9 605.6,239.4 608.5,240.9 611.4,240.6 614.3,238.8 617.2,236.2 620.0,233.9 622.9,231.6 625.8,229.2 628.7,227.1 631.6,226.0 634.5,226.4 637.3,228.1 640.2,230.1 643.1,231.9 646.0,233.8 648.9,235.6 651.8,236.7 654.6,237.0 657.5,237.2 660.4,237.4 663.3,237.5" fill="none" stroke="#30459c" stroke-opacity="0.68" stroke-width="2.8" stroke-linejoin="round" stroke-linecap="butt"/>
<polyline points="86.5,234.3 89.4,234.5 92.3,234.5 95.2,233.9 98.0,232.6 100.9,230.8 103.8,229.0 106.7,227.7 109.6,227.2 112.5,227.9 115.3,229.4 118.2,231.4 121.1,233.3 124.0,234.5 126.9,234.6 129.8,233.6 132.6,231.9 135.5,230.1 138.4,228.9 141.3,228.8 144.2,229.9 147.1,232.1 149.9,234.8 152.8,237.3 155.7,239.1 158.6,239.7 161.5,239.1 164.4,237.6 167.3,235.7 170.1,234.0 173.0,232.8 175.9,232.3 178.8,232.3 181.7,232.5 184.6,232.4 187.4,231.8 190.3,230.7 193.2,229.3 196.1,228.0 199.0,227.4 201.9,227.6 204.7,228.9 207.6,230.9 210.5,233.0 213.4,234.7 216.3,235.5 219.2,235.2 222.0,233.9 224.9,232.2 227.8,230.7 230.7,230.0 233.6,230.4 236.5,231.9 239.4,234.3 242.2,236.8 245.1,238.8 248.0,239.7 250.9,239.4 253.8,237.9 256.7,235.7 259.5,233.4 262.4,231.5 265.3,230.4 268.2,230.2 271.1,230.4 274.0,230.8 276.8,231.0 279.7,230.7 282.6,229.9 285.5,228.9 288.4,228.3 291.3,228.3 294.1,229.1 297.0,230.8 299.9,232.9 302.8,234.9 305.7,236.2 308.6,236.5 311.5,235.7 314.3,234.2 317.2,232.4 320.1,231.1 323.0,230.8" fill="none" stroke="#68c7bc" stroke-opacity="0.65" stroke-width="2.8" stroke-linejoin="round" stroke-linecap="butt"/>
<polyline points="323.0,230.8 325.9,231.6 328.8,233.4 331.6,235.6 334.5,237.8 337.4,239.0 340.3,239.1" fill="none" stroke="#eaf03c" stroke-opacity="0.8" stroke-width="2.8" stroke-linejoin="round" stroke-linecap="butt"/>
<polyline points="340.3,239.1 343.2,237.8 346.1,235.6 348.9,233.0 351.8,230.6 354.7,229.0 357.6,228.4 360.5,228.6 363.4,229.4 366.2,230.2 369.1,230.7 372.0,230.7 374.9,230.3 377.8,229.8 380.7,229.6 383.6,230.0 386.4,231.2 389.3,233.0 392.2,235.0 395.1,236.6 398.0,237.3 400.9,237.0 403.7,235.7 406.6,233.9 409.5,232.2 412.4,231.1 415.3,231.1 418.2,232.2 421.0,234.1 423.9,236.1 426.8,237.7 429.7,238.2 432.6,237.5 435.5,235.5 438.3,232.9 441.2,230.2 444.1,228.2 447.0,227.1 449.9,227.2 452.8,228.2 455.7,229.6 458.5,230.9 461.4,231.7 464.3,231.9 467.2,231.7 470.1,231.4 473.0,231.4 475.8,232.0 478.7,233.3 481.6,234.9 484.5,236.4 487.4,237.4 490.3,237.2 493.1,235.7 496.0,233.6 498.9,231.9 501.8,230.5 504.7,229.3 507.6,228.3 510.4,227.1 513.3,226.0 516.2,224.9 519.1,223.7 522.0,222.5 524.9,221.2 527.8,219.8 530.6,218.4 533.5,217.0 536.4,215.6 539.3,214.2 542.2,212.8 545.1,211.4 547.9,210.1 550.8,208.9 553.7,207.8 556.6,206.6 559.5,205.2 562.4,203.7 565.2,202.0 568.1,200.0 571.0,197.1 573.9,193.1 576.8,188.6 579.7,184.2 582.5,179.9 585.4,175.3 588.3,170.9 591.2,166.9 594.1,162.9 597.0,159.5 599.9,157.0 602.7,154.6 605.6,152.6 608.5,150.9 611.4,149.8 614.3,144.3 617.2,139.2 620.0,135.1 622.9,131.8 625.8,129.5 628.7,128.1 631.6,127.4 634.5,127.5 637.3,128.2 640.2,129.4 643.1,131.0 646.0,132.7 648.9,134.5 651.8,136.2 654.6,137.8 657.5,139.0 660.4,139.9 663.3,140.5" fill="none" stroke="#68c7bc" stroke-opacity="0.65" stroke-width="2.8" stroke-linejoin="round" stroke-linecap="butt"/>
<polyline points="86.5,231.0 89.4,232.1 92.3,233.1 95.2,234.0 98.0,234.8 100.9,235.5 103.8,236.1 106.7,236.6 109.6,237.0 112.5,237.4 115.3,237.6 118.2,237.9 121.1,238.0 124.0,238.1 126.9,238.2 129.8,238.2 132.6,238.1 135.5,237.9 138.4,237.5 141.3,236.9 144.2,236.3 147.1,235.5 149.9,234.6 152.8,233.5 155.7,232.4 158.6,231.2 161.5,229.9 164.4,228.5 167.3,227.0 170.1,225.4 173.0,223.8 175.9,221.7 178.8,218.6 181.7,214.9 184.6,210.5 187.4,205.7 190.3,200.6 193.2,195.4 196.1,190.3 199.0,185.3 201.9,180.7 204.7,176.2 207.6,171.3 210.5,166.4 213.4,161.7 216.3,157.4" fill="none" stroke="#68c7bc" stroke-opacity="0.65" stroke-width="2.8" stroke-linejoin="round" stroke-linecap="butt"/>
<polyline points="216.3,157.4 219.2,153.6 222.0,150.6 224.9,148.1 227.8,146.0 230.7,144.0 233.6,142.0 236.5,140.0 239.4,137.7 242.2,135.0 245.1,132.0 248.0,129.0 250.9,125.9 253.8,123.0 256.7,120.4 259.5,118.1 262.4,115.9 265.3,113.8 268.2,111.9 271.1,110.2 274.0,108.7 276.8,107.4 279.7,106.1 282.6,105.0 285.5,104.2 288.4,103.9 291.3,104.4 294.1,105.7 297.0,107.4 299.9,109.1 302.8,110.6 305.7,111.5 308.6,112.2 311.5,112.9 314.3,113.5 317.2,114.0 320.1,114.7 323.0,115.3 325.9,116.0 328.8,116.8 331.6,118.6 334.5,120.4 337.4,121.6 340.3,122.4 343.2,122.5 346.1,122.0 348.9,120.9 351.8,119.4 354.7,117.9 357.6,116.4 360.5,114.4 363.4,112.3 366.2,110.8 369.1,109.7 372.0,108.7 374.9,107.9 377.8,107.4 380.7,107.1 383.6,106.7 386.4,106.4 389.3,106.2 392.2,106.1 395.1,106.1 398.0,106.2 400.9,106.4 403.7,106.8 406.6,107.2 409.5,107.7 412.4,108.2 415.3,108.9" fill="none" stroke="#eaf03c" stroke-opacity="0.8" stroke-width="2.8" stroke-linejoin="round" stroke-linecap="butt"/>
<polyline points="415.3,108.9 418.2,109.9 421.0,111.0 423.9,112.2 426.8,113.5 429.7,114.8 432.6,116.1 435.5,117.5 438.3,119.0 441.2,120.6 444.1,122.3 447.0,123.9 449.9,125.6 452.8,127.1 455.7,128.4 458.5,129.6 461.4,130.5 464.3,131.2 467.2,131.8 470.1,132.3 473.0,132.8 475.8,133.3 478.7,133.7 481.6,134.1 484.5,134.5 487.4,134.8 490.3,135.2 493.1,135.6 496.0,136.0 498.9,136.5 501.8,137.1 504.7,137.7 507.6,138.4 510.4,139.3 513.3,140.4 516.2,141.6 519.1,142.8 522.0,144.1 524.9,145.4 527.8,146.7 530.6,147.9 533.5,149.0 536.4,150.0 539.3,150.8 542.2,151.5 545.1,151.9 547.9,152.0 550.8,151.9 553.7,151.5 556.6,150.9 559.5,150.1 562.4,149.1 565.2,148.0 568.1,146.8 571.0,145.6 573.9,144.3 576.8,143.0 579.7,141.8 582.5,140.6 585.4,139.5 588.3,138.5 591.2,137.7 594.1,136.9 597.0,136.2 599.9,135.5 602.7,134.8 605.6,134.1 608.5,133.4 611.4,132.7 614.3,132.1 617.2,131.4 620.0,130.8 622.9,130.1 625.8,129.5 628.7,128.9 631.6,128.4 634.5,127.8 637.3,127.3 640.2,126.7 643.1,126.2 646.0,125.7 648.9,125.3 651.8,124.8 654.6,124.4 657.5,124.0 660.4,123.6 663.3,123.3" fill="none" stroke="#68c7bc" stroke-opacity="0.65" stroke-width="2.8" stroke-linejoin="round" stroke-linecap="butt"/>
<polyline points="86.5,235.4 89.4,233.7 92.3,231.3 95.2,228.6 98.0,226.0 100.9,223.8 103.8,222.2 106.7,221.6 109.6,222.0 112.5,223.4 115.3,225.5 118.2,228.1 121.1,230.7 124.0,233.1 126.9,234.8 129.8,235.7 132.6,235.7 135.5,234.8 138.4,233.1 141.3,231.0 144.2,228.8 147.1,226.8 149.9,225.3 152.8,224.6 155.7,224.8 158.6,225.7 161.5,227.4 164.4,229.4 167.3,231.5 170.1,233.3 173.0,234.5 175.9,234.9 178.8,234.4 181.7,233.2 184.6,231.3 187.4,229.1 190.3,226.9 193.2,225.1 196.1,223.9 199.0,223.7 201.9,224.3 204.7,225.9 207.6,228.2 210.5,230.9 213.4,233.6 216.3,236.1 219.2,237.8 222.0,238.7 224.9,238.5 227.8,237.4 230.7,235.5 233.6,233.1 236.5,230.5 239.4,228.0 242.2,226.1 245.1,224.9 248.0,224.6 250.9,225.0 253.8,226.2 256.7,227.8 259.5,229.5 262.4,231.0 265.3,232.0 268.2,232.3 271.1,231.8 274.0,230.5 276.8,228.7 279.7,226.6 282.6,224.5 285.5,222.8 288.4,221.8 291.3,221.7 294.1,222.6 297.0,224.4 299.9,226.9 302.8,229.8 305.7,232.8 308.6,235.6 311.5,237.6 314.3,238.9 317.2,239.1 320.1,238.3 323.0,236.7 325.9,234.6 328.8,232.3 331.6,230.0 334.5,228.3 337.4,227.1 340.3,226.8 343.2,227.3 346.1,228.4 348.9,229.9 351.8,231.5 354.7,232.9 357.6,233.7 360.5,233.9 363.4,233.2 366.2,231.8 369.1,230.3 372.0,229.4 374.9,229.0 377.8,228.4 380.7,227.4 383.6,225.6 386.4,223.0 389.3,219.0 392.2,214.4 395.1,210.0 398.0,206.5 400.9,203.8 403.7,200.9 406.6,197.0 409.5,191.1 412.4,184.1 415.3,177.9 418.2,172.2 421.0,167.0 423.9,162.8 426.8,159.4 429.7,156.5 432.6,154.0 435.5,151.9 438.3,150.0 441.2,148.3 444.1,146.8 447.0,145.6 449.9,144.9 452.8,146.6 455.7,148.1 458.5,149.4 461.4,150.4 464.3,151.1 467.2,151.7 470.1,152.1 473.0,152.5 475.8,152.7 478.7,152.9 481.6,153.2 484.5,153.5 487.4,153.9 490.3,154.4 493.1,154.9 496.0,155.4 498.9,156.0 501.8,156.5 504.7,156.9 507.6,157.3 510.4,157.5 513.3,157.7 516.2,157.7 519.1,157.5 522.0,157.3 524.9,157.1 527.8,156.8 530.6,156.6 533.5,156.4 536.4,156.3 539.3,156.4 542.2,156.6 545.1,157.0 547.9,157.5 550.8,158.1 553.7,158.8 556.6,159.5 559.5,160.2 562.4,160.8 565.2,161.2 568.1,161.5 571.0,161.5 573.9,161.2 576.8,160.8 579.7,160.1 582.5,159.2 585.4,158.1 588.3,157.0 591.2,156.0 594.1,155.0 597.0,154.1 599.9,153.6 602.7,153.3 605.6,153.3 608.5,153.8 611.4,154.5 614.3,155.6 617.2,156.9 620.0,158.4 622.9,160.0 625.8,161.6 628.7,163.1 631.6,164.4 634.5,165.4 637.3,166.0 640.2,166.2 643.1,166.0 646.0,165.4 648.9,164.4 651.8,163.1 654.6,161.6 657.5,160.0 660.4,158.4 663.3,156.9" fill="none" stroke="#68c7bc" stroke-opacity="0.65" stroke-width="2.8" stroke-linejoin="round" stroke-linecap="butt"/>
<polyline points="86.5,237.7 89.4,238.7 92.3,238.0 95.2,236.1 98.0,233.4 100.9,230.9 103.8,229.1 106.7,228.4 109.6,228.8 112.5,229.8 115.3,230.7 118.2,231.2 121.1,230.8 124.0,229.8 126.9,228.6 129.8,227.7 132.6,227.5 135.5,228.3 138.4,229.7 141.3,231.2 144.2,232.2 147.1,232.3 149.9,231.4 152.8,229.7 155.7,228.0 158.6,226.9 161.5,227.1 164.4,228.8" fill="none" stroke="#68c7bc" stroke-opacity="0.65" stroke-width="2.8" stroke-linejoin="round" stroke-linecap="butt"/>
<polyline points="164.4,228.8 167.3,231.5 170.1,234.7 173.0,237.3 175.9,238.8" fill="none" stroke="#eaf03c" stroke-opacity="0.8" stroke-width="2.8" stroke-linejoin="round" stroke-linecap="butt"/>
<polyline points="175.9,238.8 178.8,238.6 181.7,236.8 184.6,234.2 187.4,231.5 190.3,229.6 193.2,228.9 196.1,229.6 199.0,231.3 201.9,233.2 204.7,234.6 207.6,235.0 210.5,234.3 213.4,232.8 216.3,231.0 219.2,229.6 222.0,228.9 224.9,229.1 227.8,229.9 230.7,230.7 233.6,231.0 236.5,230.6 239.4,229.4 242.2,228.0 245.1,226.9 248.0,226.8 250.9,227.8 253.8,229.9 256.7,232.5 259.5,234.8 262.4,236.2 265.3,236.1 268.2,234.6 271.1,232.2 274.0,229.6 276.8,227.8 279.7,227.4 282.6,228.5 285.5,230.8 288.4,233.5 291.3,235.8 294.1,237.0 297.0,236.7 299.9,235.1 302.8,232.9 305.7,230.7 308.6,229.2 311.5,228.8 314.3,229.3 317.2,230.0 320.1,230.3 323.0,229.8 325.9,228.2 328.8,225.9 331.6,223.7 334.5,221.9 337.4,220.4 340.3,218.8 343.2,217.2 346.1,215.6 348.9,214.0 351.8,212.5 354.7,210.9 357.6,209.3 360.5,207.5 363.4,205.6 366.2,203.5 369.1,201.0 372.0,197.7 374.9,193.9 377.8,189.9 380.7,186.0 383.6,182.6 386.4,179.3 389.3,176.1 392.2,172.9 395.1,169.5 398.0,165.9 400.9,162.1 403.7,158.4 406.6,155.2 409.5,152.3 412.4,149.4 415.3,146.8 418.2,144.4 421.0,142.2 423.9,140.4 426.8,138.8 429.7,137.1 432.6,135.6 435.5,134.2 438.3,133.0 441.2,131.9 444.1,131.0 447.0,130.3 449.9,132.1 452.8,134.1 455.7,135.8 458.5,137.0 461.4,137.9 464.3,138.4 467.2,138.6 470.1,138.6 473.0,138.3 475.8,137.8 478.7,137.2 481.6,136.6 484.5,135.9 487.4,135.4 490.3,134.9 493.1,134.6 496.0,134.5 498.9,134.7 501.8,135.1 504.7,135.8 507.6,136.8 510.4,138.1 513.3,139.6 516.2,141.3 519.1,143.3 522.0,145.4 524.9,147.5 527.8,149.8 530.6,152.0 533.5,154.2 536.4,156.3 539.3,158.2 542.2,160.0 545.1,161.5 547.9,162.8 550.8,163.9 553.7,164.7 556.6,165.3 559.5,165.6 562.4,165.8 565.2,165.8 568.1,165.6 571.0,165.3 573.9,165.0 576.8,164.6 579.7,164.3 582.5,164.0 585.4,163.7 588.3,163.6 591.2,163.6 594.1,163.8 597.0,164.0 599.9,164.4 602.7,165.0 605.6,165.6 608.5,166.3 611.4,167.1 614.3,167.9 617.2,168.6 620.0,169.3 622.9,170.0 625.8,170.5 628.7,170.8 631.6,171.0 634.5,170.9 637.3,170.7 640.2,170.2 643.1,169.5 646.0,168.5 648.9,167.4 651.8,166.0 654.6,164.5 657.5,162.8 660.4,161.0 663.3,159.1" fill="none" stroke="#68c7bc" stroke-opacity="0.65" stroke-width="2.8" stroke-linejoin="round" stroke-linecap="butt"/>
<polyline points="86.5,236.1 89.4,232.3 92.3,228.6 95.2,225.7 98.0,224.4" fill="none" stroke="#68c7bc" stroke-opacity="0.65" stroke-width="2.8" stroke-linejoin="round" stroke-linecap="butt"/>
<polyline points="98.0,224.4 100.9,224.7 103.8,226.7 106.7,229.8 109.6,233.2 112.5,236.3" fill="none" stroke="#eaf03c" stroke-opacity="0.8" stroke-width="2.8" stroke-linejoin="round" stroke-linecap="butt"/>
<polyline points="112.5,236.3 115.3,238.3 118.2,238.7 121.1,237.3 124.0,234.4 126.9,230.7 129.8,226.9 132.6,223.8 135.5,222.0 138.4,221.9 141.3,223.4 144.2,226.1 147.1,229.2 149.9,232.0 152.8,233.6 155.7,233.6 158.6,231.8 161.5,228.4 164.4,223.7 167.3,218.5 170.1,213.3 173.0,208.5 175.9,204.4 178.8,201.0 181.7,198.0 184.6,195.2 187.4,191.4 190.3,187.0 193.2,182.3 196.1,177.5 199.0,172.7 201.9,168.3 204.7,164.2 207.6,160.6 210.5,157.4 213.4,154.5 216.3,151.8 219.2,149.4 222.0,147.0 224.9,144.8 227.8,142.5 230.7,140.3 233.6,138.2 236.5,136.0 239.4,133.9 242.2,131.8 245.1,129.7 248.0,127.7 250.9,125.7 253.8,123.7 256.7,121.9 259.5,120.2 262.4,118.7 265.3,117.3 268.2,116.2 271.1,115.3 274.0,114.7 276.8,114.3 279.7,114.2 282.6,114.4 285.5,114.8 288.4,115.5 291.3,116.4 294.1,117.5 297.0,118.7 299.9,120.1 302.8,121.5 305.7,123.0 308.6,124.5 311.5,125.9 314.3,127.2 317.2,128.3 320.1,129.3 323.0,130.1 325.9,130.6 328.8,130.9 331.6,130.9 334.5,130.6 337.4,130.1 340.3,129.3 343.2,128.3 346.1,127.0 348.9,125.6 351.8,124.0 354.7,122.3 357.6,120.5 360.5,118.7 363.4,116.8 366.2,114.9 369.1,113.1 372.0,111.3 374.9,109.6 377.8,108.0 380.7,106.6 383.6,105.2 386.4,104.0 389.3,102.8 392.2,101.8 395.1,100.9 398.0,100.1 400.9,99.3 403.7,98.7 406.6,98.1 409.5,97.5 412.4,97.0 415.3,96.6 418.2,96.2 421.0,95.9 423.9,95.6 426.8,95.5 429.7,95.4 432.6,95.5 435.5,95.7 438.3,96.1 441.2,96.7 444.1,97.5 447.0,98.5 449.9,99.8 452.8,101.3 455.7,103.1 458.5,105.2 461.4,107.4 464.3,110.0 467.2,112.7 470.1,115.6 473.0,118.6 475.8,121.7 478.7,124.9 481.6,128.0 484.5,131.1 487.4,134.1 490.3,136.9 493.1,139.4 496.0,141.7 498.9,143.7 501.8,145.3 504.7,146.5 507.6,147.3 510.4,147.7 513.3,147.8 516.2,147.4 519.1,146.6 522.0,145.6 524.9,144.2 527.8,142.6 530.6,140.7 533.5,138.8 536.4,136.7 539.3,134.7 542.2,132.6 545.1,130.7 547.9,128.9 550.8,127.2 553.7,125.8 556.6,124.6 559.5,123.6 562.4,123.1 565.2,122.9 568.1,122.7 571.0,122.7 573.9,122.7 576.8,122.8 579.7,122.9 582.5,123.0 585.4,123.1 588.3,123.2 591.2,123.3 594.1,123.3 597.0,123.2 599.9,123.1 602.7,122.8 605.6,122.5 608.5,122.1 611.4,121.6 614.3,121.1 617.2,120.5 620.0,119.9 622.9,119.3 625.8,118.7 628.7,118.2 631.6,117.7 634.5,117.4 637.3,117.1 640.2,117.0 643.1,117.0 646.0,117.2 648.9,117.6 651.8,118.1 654.6,118.8 657.5,119.7 660.4,120.7 663.3,121.8" fill="none" stroke="#68c7bc" stroke-opacity="0.65" stroke-width="2.8" stroke-linejoin="round" stroke-linecap="butt"/>
<polyline points="86.5,234.6 89.4,234.6 92.3,234.6 95.2,234.5 98.0,234.5 100.9,234.4 103.8,234.3 106.7,234.2 109.6,234.1 112.5,233.9 115.3,233.7 118.2,233.6 121.1,233.4 124.0,233.1 126.9,232.9 129.8,232.6 132.6,232.3 135.5,232.0 138.4,231.7 141.3,231.4 144.2,231.0 147.1,230.0 149.9,228.0 152.8,225.2 155.7,221.6 158.6,217.5 161.5,213.0 164.4,208.4 167.3,203.7 170.1,199.2 173.0,195.1 175.9,190.9 178.8,186.3 181.7,181.5 184.6,176.5 187.4,171.5 190.3,166.7 193.2,162.2 196.1,158.2 199.0,154.7 201.9,152.0 204.7,149.8 207.6,147.6 210.5,145.6 213.4,143.6 216.3,141.7 219.2,139.8 222.0,138.1 224.9,136.4 227.8,134.9 230.7,133.4 233.6,132.0 236.5,130.7 239.4,129.5 242.2,128.3 245.1,127.3 248.0,126.3 250.9,125.4 253.8,124.6 256.7,123.9 259.5,123.3 262.4,122.7 265.3,122.2 268.2,121.6 271.1,121.1 274.0,120.6 276.8,120.1 279.7,119.6 282.6,119.1 285.5,118.7 288.4,118.3 291.3,117.9 294.1,117.5 297.0,117.2 299.9,116.9 302.8,116.7 305.7,116.5 308.6,116.3 311.5,116.2 314.3,116.1 317.2,116.1 320.1,116.1 323.0,116.2 325.9,116.3 328.8,116.4 331.6,116.6 334.5,116.8 337.4,117.0 340.3,117.3 343.2,117.6 346.1,117.9 348.9,118.2 351.8,118.5 354.7,118.9 357.6,119.3 360.5,119.7 363.4,120.2 366.2,120.9 369.1,121.7 372.0,122.7 374.9,123.7 377.8,124.9 380.7,126.2 383.6,127.7" fill="none" stroke="#68c7bc" stroke-opacity="0.65" stroke-width="2.8" stroke-linejoin="round" stroke-linecap="butt"/>
<polyline points="383.6,127.7 386.4,129.6 389.3,131.9 392.2,134.3 395.1,136.6 398.0,138.7 400.9,140.9 403.7,143.0 406.6,145.0 409.5,146.5 412.4,147.4 415.3,148.3 418.2,149.0 421.0,149.5 423.9,149.8 426.8,149.8 429.7,149.5 432.6,148.9 435.5,148.2 438.3,147.4 441.2,146.6 444.1,145.5 447.0,144.4 449.9,143.4 452.8,142.6" fill="none" stroke="#eaf03c" stroke-opacity="0.8" stroke-width="2.8" stroke-linejoin="round" stroke-linecap="butt"/>
<polyline points="452.8,142.6 455.7,141.7 458.5,140.8 461.4,140.0 464.3,139.3 467.2,138.6 470.1,138.1 473.0,137.8 475.8,137.7 478.7,137.8 481.6,138.0 484.5,138.4 487.4,138.9 490.3,139.5 493.1,140.2 496.0,140.9 498.9,141.6 501.8,142.3 504.7,143.0 507.6,143.6 510.4,144.1 513.3,144.5 516.2,144.7 519.1,144.8 522.0,144.8 524.9,144.6 527.8,144.3 530.6,144.0 533.5,143.5 536.4,143.0 539.3,142.4 542.2,141.8 545.1,141.2 547.9,140.6 550.8,139.9 553.7,139.3 556.6,138.7 559.5,138.2 562.4,137.7 565.2,137.2 568.1,136.7 571.0,136.1 573.9,135.6 576.8,135.0 579.7,134.5 582.5,133.9 585.4,133.4 588.3,132.9 591.2,132.4 594.1,131.9 597.0,131.5 599.9,131.1 602.7,130.8 605.6,130.5 608.5,130.2 611.4,129.9 614.3,129.7 617.2,129.4 620.0,129.2 622.9,128.9 625.8,128.7 628.7,128.5 631.6,128.2 634.5,128.0 637.3,127.8 640.2,127.7 643.1,127.5 646.0,127.4 648.9,127.2 651.8,127.1 654.6,127.0 657.5,127.0 660.4,126.9 663.3,126.9" fill="none" stroke="#68c7bc" stroke-opacity="0.65" stroke-width="2.8" stroke-linejoin="round" stroke-linecap="butt"/>
<polyline points="86.5,235.4 89.4,234.1 92.3,232.6 95.2,230.9 98.0,229.4 100.9,228.3 103.8,227.8 106.7,227.8 109.6,228.5 112.5,229.6 115.3,231.1 118.2,232.5 121.1,233.6 124.0,234.3 126.9,234.3 129.8,233.7 132.6,232.5 135.5,230.9 138.4,229.4 141.3,228.1 144.2,227.5 147.1,227.6 149.9,228.7 152.8,230.6 155.7,233.1 158.6,235.9 161.5,238.6 164.4,240.9 167.3,242.3 170.1,242.7 173.0,242.0 175.9,240.3 178.8,237.8 181.7,235.1 184.6,232.4 187.4,230.2 190.3,228.8 193.2,228.3 196.1,228.9 199.0,230.3 201.9,232.1 204.7,234.2 207.6,235.9 210.5,236.9 213.4,237.1 216.3,236.3 219.2,234.5 222.0,232.0 224.9,229.2 227.8,226.9 230.7,225.8 233.6,225.7 236.5,225.7 239.4,225.2 242.2,224.0 245.1,222.5 248.0,220.8 250.9,218.9 253.8,216.5 256.7,213.7 259.5,210.7 262.4,207.6 265.3,204.2 268.2,200.6 271.1,196.8 274.0,192.9 276.8,188.9 279.7,184.9 282.6,180.9 285.5,176.5 288.4,172.0 291.3,167.7 294.1,164.2 297.0,161.4 299.9,158.8 302.8,156.7 305.7,154.8 308.6,153.1 311.5,151.6 314.3,150.3 317.2,149.2 320.1,148.3 323.0,147.6 325.9,146.9 328.8,146.1 331.6,145.3 334.5,144.4 337.4,143.4 340.3,142.4 343.2,141.3 346.1,140.2 348.9,139.1 351.8,137.9 354.7,136.6 357.6,135.4 360.5,134.1 363.4,132.7 366.2,131.1 369.1,129.4 372.0,127.5 374.9,125.5 377.8,123.4 380.7,121.1 383.6,118.8 386.4,116.5 389.3,114.3 392.2,112.1 395.1,110.0 398.0,108.2 400.9,106.6 403.7,105.3 406.6,104.3 409.5,103.8 412.4,103.6 415.3,103.9 418.2,104.6 421.0,105.7 423.9,107.2 426.8,109.0 429.7,111.2 432.6,113.6 435.5,116.2 438.3,118.9 441.2,121.7 444.1,124.6 447.0,127.4 449.9,130.1 452.8,132.7 455.7,135.1 458.5,137.4 461.4,139.5 464.3,141.5 467.2,143.3 470.1,145.0 473.0,146.6 475.8,148.2 478.7,149.8 481.6,151.4 484.5,153.1 487.4,154.8 490.3,156.7 493.1,158.8 496.0,160.9 498.9,163.2 501.8,165.5 504.7,167.9 507.6,170.2 510.4,172.5 513.3,174.6 516.2,176.5 519.1,178.2 522.0,179.5 524.9,180.4 527.8,180.8 530.6,180.8 533.5,180.3 536.4,179.3 539.3,177.8 542.2,175.8 545.1,173.4 547.9,170.6 550.8,167.6 553.7,164.3 556.6,161.0 559.5,157.6 562.4,154.3 565.2,151.1 568.1,148.3 571.0,145.7 573.9,143.5 576.8,141.7 579.7,140.4 582.5,139.6 585.4,139.2 588.3,139.2 591.2,139.7 594.1,140.5 597.0,141.6 599.9,143.0 602.7,144.5 605.6,146.1 608.5,147.8 611.4,149.5 614.3,151.1 617.2,152.6 620.0,153.9 622.9,155.1 625.8,156.1 628.7,157.0 631.6,157.7 634.5,158.2 637.3,158.7 640.2,159.2 643.1,159.6" fill="none" stroke="#68c7bc" stroke-opacity="0.65" stroke-width="2.8" stroke-linejoin="round" stroke-linecap="butt"/>
<polyline points="643.1,159.6 646.0,160.0 648.9,160.5 651.8,161.1 654.6,161.8 657.5,162.6 660.4,163.5" fill="none" stroke="#eaf03c" stroke-opacity="0.8" stroke-width="2.8" stroke-linejoin="round" stroke-linecap="butt"/>
<polyline points="660.4,163.5 663.3,164.5" fill="none" stroke="#68c7bc" stroke-opacity="0.65" stroke-width="2.8" stroke-linejoin="round" stroke-linecap="butt"/>
<polyline points="86.5,232.2 89.4,230.0 92.3,227.7 95.2,225.7 98.0,224.5 100.9,224.4 103.8,225.4 106.7,227.3 109.6,229.9 112.5,232.6 115.3,235.0 118.2,236.8 121.1,237.8 124.0,238.0 126.9,237.5 129.8,236.5 132.6,235.3 135.5,234.2 138.4,233.3 141.3,232.5 144.2,231.9 147.1,231.2 149.9,230.5 152.8,229.7 155.7,228.8 158.6,228.0 161.5,227.5 164.4,227.5 167.3,228.1 170.1,229.2 173.0,230.7 175.9,232.3 178.8,233.7 181.7,234.5 184.6,234.6 187.4,233.8 190.3,232.4 193.2,230.5 196.1,228.6 199.0,227.2 201.9,226.6 204.7,227.0 207.6,228.4 210.5,230.5 213.4,232.9 216.3,235.1 219.2,236.6 222.0,237.1 224.9,236.4 227.8,234.8 230.7,232.4 233.6,229.8 236.5,227.6 239.4,226.1" fill="none" stroke="#68c7bc" stroke-opacity="0.65" stroke-width="2.8" stroke-linejoin="round" stroke-linecap="butt"/>
<polyline points="239.4,226.1 242.2,225.6 245.1,226.2 248.0,227.7 250.9,229.8" fill="none" stroke="#eaf03c" stroke-opacity="0.8" stroke-width="2.8" stroke-linejoin="round" stroke-linecap="butt"/>
<polyline points="250.9,229.8 253.8,232.1 256.7,234.2 259.5,235.7 262.4,236.6 265.3,236.7 268.2,236.3 271.1,235.5 274.0,234.6 276.8,233.7 279.7,232.9 282.6,232.3 285.5,231.6 288.4,230.9 291.3,230.0 294.1,228.9 297.0,227.8 299.9,226.8 302.8,226.1 305.7,226.0 308.6,226.6 311.5,227.8 314.3,229.5 317.2,231.3 320.1,232.9 323.0,234.0 325.9,234.3 328.8,233.8 331.6,232.5 334.5,230.9 337.4,229.4 340.3,228.4 343.2,228.1 346.1,228.9 348.9,230.7 351.8,233.0 354.7,235.6 357.6,237.9 360.5,239.3 363.4,239.6 366.2,238.7 369.1,236.6 372.0,233.8 374.9,230.8 377.8,228.0 380.7,225.9 383.6,224.9 386.4,224.8 389.3,225.8 392.2,227.3 395.1,229.1 398.0,230.8 400.9,232.1 403.7,232.9 406.6,233.2 409.5,233.1 412.4,232.9 415.3,232.6 418.2,232.4 421.0,232.4 423.9,232.4 426.8,232.3 429.7,232.0 432.6,231.4 435.5,230.6 438.3,229.6 441.2,228.7 444.1,228.2 447.0,228.2 449.9,228.8 452.8,230.0 455.7,231.6 458.5,233.3 461.4,234.7 464.3,235.5 467.2,235.4 470.1,234.5 473.0,232.8 475.8,230.9 478.7,229.1 481.6,227.8 484.5,227.5 487.4,228.4 490.3,230.1 493.1,231.7 496.0,232.2 498.9,231.2 501.8,229.4 504.7,227.5 507.6,226.3 510.4,225.1 513.3,223.9 516.2,222.6 519.1,221.2 522.0,219.8 524.9,218.3 527.8,216.8 530.6,215.3 533.5,213.8 536.4,212.3 539.3,210.9 542.2,209.5 545.1,208.3 547.9,207.0 550.8,205.7 553.7,204.3 556.6,202.6 559.5,200.7 562.4,198.3 565.2,194.7 568.1,190.2 571.0,185.4 573.9,180.9 576.8,176.1 579.7,171.3 582.5,167.0 585.4,162.7 588.3,158.9 591.2,156.0 594.1,153.4 597.0,151.2 599.9,149.4 602.7,148.1 605.6,147.7 608.5,147.1 611.4,146.4 614.3,145.6 617.2,144.6 620.0,143.5 622.9,142.4 625.8,141.3 628.7,140.3 631.6,139.3 634.5,138.6 637.3,138.0 640.2,137.7 643.1,137.5 646.0,137.6 648.9,137.8 651.8,138.1 654.6,138.4 657.5,138.6 660.4,138.7 663.3,138.6" fill="none" stroke="#68c7bc" stroke-opacity="0.65" stroke-width="2.8" stroke-linejoin="round" stroke-linecap="butt"/>
<polyline points="86.5,235.0 89.4,237.1 92.3,238.7 95.2,239.1 98.0,238.0 100.9,235.6 103.8,232.5 106.7,229.6 109.6,227.7 112.5,227.2 115.3,228.3 118.2,230.7 121.1,233.5 124.0,236.1 126.9,237.8 129.8,238.3 132.6,237.6 135.5,236.3 138.4,234.9 141.3,233.9 144.2,233.7 147.1,234.3 149.9,235.4 152.8,236.5 155.7,237.1 158.6,236.8 161.5,235.6 164.4,233.6 167.3,231.3 170.1,228.9 173.0,227.0 175.9,225.7 178.8,225.0 181.7,224.5 184.6,224.1 187.4,223.5 190.3,222.5 193.2,221.2 196.1,219.9 199.0,218.5 201.9,217.3 204.7,216.3 207.6,215.4 210.5,214.2 213.4,212.8 216.3,210.8 219.2,208.4 222.0,205.7 224.9,202.9 227.8,198.2 230.7,193.5 233.6,189.1 236.5,185.0 239.4,180.9 242.2,176.9 245.1,172.9 248.0,168.9 250.9,165.1 253.8,161.5 256.7,158.2 259.5,155.3 262.4,152.7 265.3,150.4 268.2,148.2 271.1,146.1 274.0,143.9 276.8,141.7 279.7,139.5 282.6,137.4 285.5,135.5 288.4,133.9 291.3,132.6 294.1,131.6 297.0,131.0 299.9,130.7 302.8,130.7 305.7,130.9 308.6,131.4 311.5,132.1 314.3,132.9 317.2,134.0 320.1,135.1 323.0,136.3 325.9,137.5 328.8,138.7 331.6,139.8 334.5,140.8 337.4,141.6 340.3,142.2 343.2,142.7 346.1,143.0 348.9,143.1 351.8,143.2 354.7,143.2 357.6,143.1 360.5,143.1 363.4,143.0 366.2,143.0 369.1,143.0 372.0,143.1 374.9,143.3 377.8,143.5 380.7,143.9 383.6,144.3 386.4,144.8 389.3,145.4 392.2,146.0 395.1,146.6 398.0,147.2 400.9,147.9 403.7,148.5 406.6,149.1 409.5,149.7 412.4,150.2 415.3,150.7 418.2,151.1 421.0,151.4 423.9,151.7 426.8,151.9 429.7,152.1 432.6,152.1 435.5,152.0 438.3,151.8 441.2,151.5 444.1,151.1 447.0,150.6 449.9,149.9 452.8,149.2 455.7,148.3 458.5,147.4 461.4,146.4" fill="none" stroke="#68c7bc" stroke-opacity="0.65" stroke-width="2.8" stroke-linejoin="round" stroke-linecap="butt"/>
<polyline points="461.4,146.4 464.3,145.5 467.2,144.5 470.1,143.6 473.0,142.7 475.8,142.0 478.7,141.4 481.6,141.1 484.5,140.9 487.4,140.9 490.3,141.2 493.1,141.6 496.0,142.3 498.9,143.1 501.8,144.1 504.7,145.2 507.6,146.4 510.4,147.6 513.3,148.8 516.2,149.9 519.1,150.9 522.0,151.8 524.9,152.5 527.8,153.1 530.6,153.5 533.5,153.7 536.4,153.8 539.3,153.8 542.2,153.6 545.1,153.4 547.9,153.2 550.8,153.0 553.7,152.9 556.6,152.8 559.5,152.8 562.4,153.1 565.2,153.2 568.1,153.4 571.0,153.7 573.9,154.0 576.8,154.4 579.7,154.9 582.5,155.4 585.4,155.8 588.3,156.2 591.2,156.5 594.1,156.7 597.0,156.8 599.9,156.6 602.7,156.2 605.6,155.6 608.5,154.8 611.4,153.6 614.3,152.3 617.2,150.6 620.0,148.8 622.9,146.7 625.8,144.4 628.7,142.0 631.6,139.4 634.5,136.7 637.3,133.9 640.2,131.1 643.1,128.2 646.0,125.4 648.9,122.5 651.8,119.7 654.6,117.0 657.5,114.4 660.4,111.8 663.3,109.2" fill="none" stroke="#30459c" stroke-opacity="0.68" stroke-width="2.8" stroke-linejoin="round" stroke-linecap="butt"/>
<polyline points="86.5,216.6 89.4,217.6 92.3,218.7 95.2,219.4 98.0,219.3 100.9,218.3 103.8,216.2 106.7,213.1 109.6,209.3 112.5,205.3 115.3,201.3 118.2,197.7 121.1,194.7 124.0,192.4 126.9,190.5 129.8,188.7 132.6,187.2 135.5,185.5 138.4,183.6 141.3,181.2 144.2,178.3 147.1,175.1 149.9,171.6 152.8,168.1 155.7,164.7 158.6,161.7 161.5,159.2 164.4,157.2 167.3,155.8 170.1,154.9 173.0,154.5 175.9,154.5 178.8,154.6 181.7,154.9 184.6,155.2 187.4,155.4 190.3,155.5 193.2,155.4 196.1,155.1 199.0,154.5 201.9,153.6 204.7,152.5 207.6,151.1 210.5,149.5 213.4,147.6 216.3,145.5 219.2,143.2 222.0,140.8 224.9,138.4 227.8,136.0 230.7,133.8 233.6,131.7 236.5,129.8 239.4,128.1 242.2,126.8 245.1,125.8 248.0,125.1 250.9,124.6 253.8,124.5 256.7,124.5 259.5,124.8 262.4,125.2 265.3,125.7 268.2,126.3 271.1,126.9 274.0,127.6 276.8,128.2 279.7,128.9 282.6,129.7 285.5,130.4 288.4,131.2 291.3,132.0 294.1,132.8 297.0,133.7 299.9,134.6 302.8,135.6 305.7,136.5 308.6,137.4 311.5,138.3 314.3,139.0 317.2,139.6 320.1,140.1 323.0,140.3 325.9,140.4 328.8,140.1 331.6,139.7 334.5,138.9 337.4,138.0 340.3,136.8 343.2,135.5 346.1,134.0 348.9,132.5 351.8,130.9 354.7,129.4 357.6,128.0 360.5,126.7 363.4,125.5 366.2,124.6 369.1,123.8 372.0,123.3 374.9,122.9 377.8,122.7 380.7,122.6 383.6,122.6 386.4,122.6 389.3,122.6 392.2,122.5 395.1,122.4 398.0,122.2 400.9,121.8 403.7,121.4 406.6,121.0 409.5,120.5 412.4,120.1 415.3,119.8 418.2,119.6 421.0,119.7 423.9,120.1 426.8,120.8 429.7,121.9 432.6,123.4 435.5,125.3 438.3,127.6 441.2,130.3 444.1,133.2 447.0,136.4 449.9,139.7 452.8,143.0 455.7,146.2 458.5,149.3 461.4,152.1 464.3,154.5 467.2,156.5 470.1,158.0 473.0,159.1 475.8,159.6 478.7,159.6 481.6,159.2 484.5,158.4 487.4,157.3 490.3,156.0 493.1,154.6 496.0,153.1 498.9,151.7 501.8,150.4 504.7,149.3 507.6,148.4 510.4,147.8 513.3,147.4 516.2,147.3 519.1,147.3 522.0,147.5 524.9,147.8 527.8,148.2 530.6,148.4 533.5,148.6 536.4,148.7 539.3,148.5 542.2,148.1 545.1,147.6 547.9,146.8 550.8,145.8 553.7,144.7 556.6,143.6 559.5,142.4 562.4,141.3 565.2,140.3 568.1,139.5 571.0,139.0 573.9,138.8 576.8,138.9 579.7,139.3 582.5,140.1 585.4,141.2 588.3,142.5 591.2,144.1 594.1,145.8 597.0,147.6 599.9,149.4 602.7,151.1 605.6,152.7 608.5,154.2 611.4,155.4 614.3,156.4 617.2,157.1 620.0,157.4 622.9,157.6 625.8,157.4 628.7,157.0 631.6,156.4 634.5,155.6 637.3,154.7 640.2,153.6 643.1,152.4 646.0,151.2 648.9,149.8 651.8,148.5 654.6,147.0 657.5,145.5 660.4,143.9 663.3,142.2" fill="none" stroke="#68c7bc" stroke-opacity="0.65" stroke-width="2.8" stroke-linejoin="round" stroke-linecap="butt"/>
<polyline points="86.5,224.1 89.4,223.9 92.3,224.9 95.2,226.6 98.0,228.6 100.9,230.5 103.8,232.0 106.7,232.8 109.6,233.2 112.5,233.2 115.3,233.3 118.2,233.7 121.1,234.3 124.0,235.2 126.9,235.9 129.8,236.2 132.6,235.7 135.5,234.3 138.4,232.2 141.3,229.7 144.2,227.4 147.1,225.6 149.9,224.7 152.8,225.0 155.7,226.1 158.6,227.6 161.5,229.0 164.4,229.5 167.3,228.9 170.1,227.0 173.0,224.0 175.9,220.4 178.8,216.9 181.7,214.1 184.6,212.3 187.4,211.7 190.3,212.0 193.2,212.7 196.1,213.1 199.0,212.6 201.9,211.0 204.7,208.0 207.6,204.0 210.5,199.2 213.4,194.1 216.3,188.1 219.2,181.9 222.0,176.1 224.9,170.6 227.8,165.4 230.7,160.5 233.6,156.0 236.5,151.8 239.4,148.1 242.2,145.0 245.1,142.4 248.0,140.3 250.9,138.8 253.8,137.6 256.7,136.7 259.5,136.0 262.4,135.4 265.3,134.9 268.2,134.3 271.1,133.7 274.0,133.1 276.8,132.5 279.7,131.9 282.6,131.3 285.5,130.6 288.4,130.0 291.3,129.3 294.1,128.7 297.0,128.0 299.9,127.4 302.8,126.8 305.7,126.2 308.6,125.6 311.5,124.9 314.3,124.3 317.2,123.5 320.1,122.7 323.0,121.8 325.9,120.7 328.8,119.5 331.6,118.1 334.5,116.7 337.4,115.1 340.3,113.5 343.2,111.8 346.1,110.2 348.9,108.7 351.8,107.2 354.7,105.9 357.6,104.8 360.5,103.9 363.4,103.2 366.2,102.8 369.1,102.6 372.0,102.6 374.9,102.7 377.8,102.9 380.7,103.2 383.6,103.4 386.4,103.6 389.3,103.7 392.2,103.7 395.1,103.4 398.0,103.0 400.9,102.4 403.7,101.6 406.6,100.7 409.5,99.7 412.4,98.6 415.3,97.7 418.2,96.8 421.0,96.1 423.9,95.6 426.8,95.4 429.7,95.6 432.6,96.2 435.5,97.1 438.3,98.4 441.2,100.0 444.1,102.0 447.0,104.2 449.9,106.6 452.8,109.1 455.7,111.6 458.5,114.1 461.4,116.6 464.3,118.9 467.2,121.0 470.1,123.0 473.0,124.8 475.8,126.4 478.7,127.8 481.6,129.2 484.5,130.4 487.4,131.7 490.3,133.0 493.1,134.4 496.0,135.9 498.9,137.6 501.8,139.4 504.7,141.4 507.6,143.5 510.4,145.7 513.3,147.9 516.2,150.1 519.1,152.3 522.0,154.2 524.9,155.9 527.8,157.4 530.6,158.4 533.5,159.0 536.4,159.2 539.3,159.0 542.2,158.3 545.1,157.1 547.9,155.6 550.8,153.8 553.7,151.6 556.6,149.3 559.5,146.9 562.4,144.4 565.2,142.0 568.1,139.6 571.0,137.4 573.9,135.3 576.8,133.4 579.7,131.7 582.5,130.2 585.4,128.9 588.3,127.7 591.2,126.7 594.1,125.7 597.0,124.7 599.9,123.7 602.7,123.0 605.6,122.6 608.5,122.1 611.4,121.5 614.3,120.9 617.2,120.3 620.0,119.7 622.9,119.1 625.8,118.4 628.7,117.8 631.6,117.1 634.5,116.5 637.3,116.0 640.2,115.5 643.1,115.0 646.0,114.6 648.9,114.3 651.8,114.0 654.6,113.7 657.5,113.6 660.4,113.4 663.3,113.3" fill="none" stroke="#68c7bc" stroke-opacity="0.65" stroke-width="2.8" stroke-linejoin="round" stroke-linecap="butt"/>
<polyline points="86.5,237.5 89.4,237.1 92.3,236.2 95.2,234.6 98.0,232.4 100.9,229.9 103.8,227.5 106.7,225.6 109.6,224.5 112.5,224.2 115.3,224.4 118.2,224.8 121.1,224.9 124.0,224.3 126.9,222.6 129.8,219.9 132.6,216.4 135.5,212.6 138.4,208.9 141.3,205.6 144.2,202.9 147.1,200.7 149.9,198.8 152.8,196.2 155.7,193.3 158.6,189.7 161.5,185.6 164.4,181.2 167.3,176.6 170.1,172.2 173.0,168.2 175.9,164.8 178.8,162.0 181.7,159.8 184.6,158.1 187.4,156.9 190.3,155.9 193.2,155.2 196.1,154.7 199.0,154.3 201.9,154.0 204.7,153.7 207.6,153.5 210.5,153.1 213.4,152.6 216.3,152.0 219.2,151.2 222.0,150.3 224.9,149.2 227.8,148.1 230.7,146.9 233.6,145.7 236.5,144.6 239.4,143.7 242.2,142.9 245.1,142.2 248.0,141.8 250.9,141.5 253.8,141.4 256.7,141.5 259.5,141.7 262.4,141.9 265.3,142.2 268.2,142.4 271.1,142.6 274.0,142.6 276.8,142.5 279.7,142.2 282.6,141.7 285.5,140.9 288.4,139.9 291.3,138.7 294.1,137.3 297.0,135.7 299.9,134.1 302.8,132.4 305.7,130.8 308.6,129.2 311.5,127.8 314.3,126.7 317.2,125.8 320.1,125.2 323.0,124.9 325.9,124.9 328.8,125.3 331.6,125.9 334.5,126.9 337.4,128.1 340.3,129.5 343.2,131.0 346.1,132.6 348.9,134.2 351.8,135.8 354.7,137.3 357.6,138.7 360.5,139.9 363.4,141.0 366.2,142.0 369.1,142.8 372.0,143.4 374.9,144.0 377.8,144.5 380.7,144.9 383.6,145.3 386.4,145.8 389.3,146.3 392.2,146.9 395.1,147.6 398.0,148.4 400.9,149.3 403.7,150.3 406.6,151.3 409.5,152.3 412.4,153.3 415.3,154.3 418.2,155.1 421.0,155.8 423.9,156.3 426.8,156.6 429.7,156.7 432.6,156.6 435.5,156.3 438.3,155.8 441.2,155.2 444.1,154.6 447.0,154.0 449.9,153.4 452.8,153.0 455.7,152.7 458.5,152.8 461.4,153.2 464.3,154.0 467.2,155.2 470.1,156.8 473.0,158.9 475.8,161.3 478.7,164.1 481.6,167.2 484.5,170.4 487.4,173.8 490.3,177.2 493.1,180.4 496.0,183.5 498.9,186.2 501.8,188.5 504.7,190.2 507.6,191.5 510.4,192.1 513.3,192.0 516.2,191.4 519.1,190.1 522.0,188.2 524.9,185.8 527.8,183.0 530.6,179.9 533.5,176.5 536.4,173.0 539.3,169.5 542.2,166.1 545.1,162.8 547.9,159.8 550.8,157.2 553.7,154.8 556.6,152.9 559.5,151.4 562.4,150.4 565.2,149.7 568.1,149.3 571.0,149.3 573.9,149.6 576.8,150.0 579.7,150.7 582.5,151.4 585.4,152.2 588.3,153.1 591.2,153.9 594.1,154.7 597.0,155.5 599.9,156.2 602.7,156.9 605.6,157.6 608.5,158.3 611.4,158.9 614.3,159.6 617.2,160.4 620.0,161.2 622.9,162.0 625.8,162.8 628.7,163.7 631.6,164.6 634.5,165.4 637.3,166.1 640.2,166.6 643.1,167.0 646.0,167.2 648.9,167.2 651.8,166.8 654.6,166.2 657.5,165.2 660.4,163.9 663.3,162.3" fill="none" stroke="#68c7bc" stroke-opacity="0.65" stroke-width="2.8" stroke-linejoin="round" stroke-linecap="butt"/>
<polyline points="86.5,235.7 89.4,236.0 92.3,235.0 95.2,232.8 98.0,229.4 100.9,225.5 103.8,221.2 106.7,217.2 109.6,213.7 112.5,210.9 115.3,208.6 118.2,206.8 121.1,205.2 124.0,203.3 126.9,200.9 129.8,197.7 132.6,193.7 135.5,189.2 138.4,184.5 141.3,180.0 144.2,175.9 147.1,172.3 149.9,169.5 152.8,167.4 155.7,165.9 158.6,164.8 161.5,164.0 164.4,163.3 167.3,162.7 170.1,161.9 173.0,161.0 175.9,159.9 178.8,158.6 181.7,157.1 184.6,155.4 187.4,153.5 190.3,151.5 193.2,149.3 196.1,147.0 199.0,144.5 201.9,142.0 204.7,139.5 207.6,136.9 210.5,134.4 213.4,132.0 216.3,129.7 219.2,127.7 222.0,125.9 224.9,124.3 227.8,123.1 230.7,122.1 233.6,121.6 236.5,121.3 239.4,121.5 242.2,121.9 245.1,122.6 248.0,123.6 250.9,124.8 253.8,126.2 256.7,127.8 259.5,129.4 262.4,131.0 265.3,132.6 268.2,134.2 271.1,135.7 274.0,137.0 276.8,138.2 279.7,139.2 282.6,139.9 285.5,140.5 288.4,140.8 291.3,141.0 294.1,140.9 297.0,140.7 299.9,140.4 302.8,139.9 305.7,139.4 308.6,138.8 311.5,138.2 314.3,137.7 317.2,137.2 320.1,136.8 323.0,136.6 325.9,136.4 328.8,136.4 331.6,136.6 334.5,136.9 337.4,137.3 340.3,137.9 343.2,138.6 346.1,139.3 348.9,140.1 351.8,140.9 354.7,141.6 357.6,142.3 360.5,142.9 363.4,143.3" fill="none" stroke="#68c7bc" stroke-opacity="0.65" stroke-width="2.8" stroke-linejoin="round" stroke-linecap="butt"/>
<polyline points="363.4,143.3 366.2,143.6 369.1,143.6 372.0,143.5 374.9,143.1 377.8,142.4 380.7,141.5 383.6,140.4 386.4,139.1 389.3,137.6 392.2,136.0 395.1,134.2 398.0,132.4 400.9,130.6 403.7,128.9 406.6,127.2 409.5,125.7 412.4,124.4 415.3,123.4 418.2,122.7 421.0,122.3 423.9,122.2 426.8,122.6 429.7,123.3 432.6,124.4 435.5,125.8 438.3,127.6 441.2,129.7 444.1,132.1 447.0,134.7 449.9,137.5 452.8,140.4 455.7,143.3 458.5,146.3 461.4,149.1 464.3,151.9 467.2,154.4 470.1,156.7 473.0,158.8 475.8,160.5 478.7,161.9 481.6,163.0 484.5,163.7 487.4,164.1 490.3,164.1 493.1,163.8 496.0,163.2 498.9,162.4 501.8,161.3 504.7,160.1 507.6,158.8 510.4,157.4 513.3,155.9 516.2,154.5 519.1,153.1 522.0,151.8 524.9,150.6 527.8,149.6 530.6,148.7 533.5,148.0 536.4,147.5 539.3,147.1 542.2,146.8 545.1,146.7 547.9,146.7 550.8,146.7 553.7,146.8 556.6,146.9 559.5,147.0 562.4,147.1 565.2,147.0 568.1,146.7 571.0,146.3 573.9,145.8 576.8,145.1 579.7,144.2 582.5,143.2 585.4,142.1 588.3,140.9 591.2,139.7 594.1,138.3 597.0,137.0 599.9,135.7 602.7,134.5 605.6,133.4 608.5,132.4 611.4,131.5 614.3,130.9 617.2,130.4 620.0,130.1 622.9,130.1 625.8,130.2 628.7,130.6 631.6,131.1 634.5,131.8 637.3,132.7 640.2,133.6 643.1,134.5 646.0,135.4 648.9,136.3 651.8,137.1 654.6,137.8 657.5,138.3 660.4,138.5 663.3,138.5" fill="none" stroke="#30459c" stroke-opacity="0.68" stroke-width="2.8" stroke-linejoin="round" stroke-linecap="butt"/>
<polyline points="86.5,229.2 89.4,230.4 92.3,230.6 95.2,229.9 98.0,228.3 100.9,226.0 103.8,223.5 106.7,221.2 109.6,219.4 112.5,218.6 115.3,218.6 118.2,219.4 121.1,220.7 124.0,222.0 126.9,222.7 129.8,222.7 132.6,221.5 135.5,219.2 138.4,216.0 141.3,212.3 144.2,208.4 147.1,204.9 149.9,201.9 152.8,199.7 155.7,198.2 158.6,197.1 161.5,196.2 164.4,195.2 167.3,192.6 170.1,189.1 173.0,185.2 175.9,180.9 178.8,176.6 181.7,172.5 184.6,168.9 187.4,166.0 190.3,163.7 193.2,162.1 196.1,160.9 199.0,160.0 201.9,159.3 204.7,158.4 207.6,157.4 210.5,156.1 213.4,154.6 216.3,152.9 219.2,151.1 222.0,149.1 224.9,147.2 227.8,145.3 230.7,143.4 233.6,141.5 236.5,139.6 239.4,137.7 242.2,135.7 245.1,133.6 248.0,131.5 250.9,129.2 253.8,126.8 256.7,124.4 259.5,122.0 262.4,119.5 265.3,117.1 268.2,114.7 271.1,112.5 274.0,110.3 276.8,108.3 279.7,106.5 282.6,105.0 285.5,103.7 288.4,102.8 291.3,102.1 294.1,101.9 297.0,102.0 299.9,102.4 302.8,103.2 305.7,104.3 308.6,105.7 311.5,107.3 314.3,109.1 317.2,110.9 320.1,112.9 323.0,114.9 325.9,116.8 328.8,118.6 331.6,120.4 334.5,122.0 337.4,123.4 340.3,124.8 343.2,125.9 346.1,127.0 348.9,127.9 351.8,128.7 354.7,129.4 357.6,130.0 360.5,130.5 363.4,130.9 366.2,131.2 369.1,131.4 372.0,131.4 374.9,131.2 377.8,130.7 380.7,130.1 383.6,129.1 386.4,127.9 389.3,126.3 392.2,124.5 395.1,122.5 398.0,120.2 400.9,117.8 403.7,115.3 406.6,112.8 409.5,110.4 412.4,108.1 415.3,106.1 418.2,104.5 421.0,103.3 423.9,102.6 426.8,102.4 429.7,102.7 432.6,103.6 435.5,105.0 438.3,106.9 441.2,109.1 444.1,111.7 447.0,114.6 449.9,117.5 452.8,120.5 455.7,123.4 458.5,126.1 461.4,128.7 464.3,130.9 467.2,132.8 470.1,134.4 473.0,135.7 475.8,136.6 478.7,137.4 481.6,137.9 484.5,138.3" fill="none" stroke="#68c7bc" stroke-opacity="0.65" stroke-width="2.8" stroke-linejoin="round" stroke-linecap="butt"/>
<polyline points="484.5,138.3 487.4,138.7 490.3,139.1 493.1,139.7 496.0,140.4 498.9,141.2 501.8,142.3 504.7,143.6 507.6,145.2 510.4,146.8 513.3,148.6 516.2,150.5 519.1,152.3 522.0,153.9 524.9,155.4 527.8,156.5 530.6,157.3 533.5,157.6 536.4,157.5 539.3,156.8 542.2,155.6 545.1,153.8 547.9,151.5 550.8,148.8 553.7,145.6 556.6,142.1 559.5,138.4 562.4,134.5 565.2,130.4 568.1,126.2 571.0,122.1 573.9,118.1 576.8,114.4 579.7,111.0 582.5,107.9 585.4,105.2 588.3,103.0 591.2,101.2 594.1,100.0 597.0,99.3 599.9,99.1 602.7,99.5 605.6,100.4 608.5,101.7 611.4,103.6 614.3,105.9 617.2,108.5 620.0,111.5 622.9,114.7 625.8,118.1 628.7,121.6 631.6,125.0 634.5,128.4 637.3,131.5 640.2,134.3 643.1,136.7 646.0,138.6 648.9,139.9 651.8,140.6 654.6,140.7 657.5,140.0 660.4,138.6 663.3,136.6" fill="none" stroke="#30459c" stroke-opacity="0.68" stroke-width="2.8" stroke-linejoin="round" stroke-linecap="butt"/>
<polyline points="86.5,231.9 89.4,231.0 92.3,231.2 95.2,232.5 98.0,234.4 100.9,236.4 103.8,237.8 106.7,238.2 109.6,237.4 112.5,235.6 115.3,233.2 118.2,230.8 121.1,228.7 124.0,227.5 126.9,227.2 129.8,227.6 132.6,228.5 135.5,229.5 138.4,230.2 141.3,230.4 144.2,230.3 147.1,229.8 149.9,229.3 152.8,229.0 155.7,228.9 158.6,229.1 161.5,229.6 164.4,230.1 167.3,230.6 170.1,230.9 173.0,231.0 175.9,231.1 178.8,231.2 181.7,231.2 184.6,231.2 187.4,231.0 190.3,230.5 193.2,229.5 196.1,227.9 199.0,225.8 201.9,223.5 204.7,221.2 207.6,219.1 210.5,217.4 213.4,216.1 216.3,215.0 219.2,213.7 222.0,212.0 224.9,209.5 227.8,206.3 230.7,202.4 233.6,198.2 236.5,194.0 239.4,188.6 242.2,183.2 245.1,178.2 248.0,173.5 250.9,168.9 253.8,164.3 256.7,159.5 259.5,154.6 262.4,149.7 265.3,145.0 268.2,140.5 271.1,136.4 274.0,132.8 276.8,129.5 279.7,126.5 282.6,123.8 285.5,121.2 288.4,118.6 291.3,116.1 294.1,113.6 297.0,111.1 299.9,108.7 302.8,106.3 305.7,104.1 308.6,102.1 311.5,100.2 314.3,98.5 317.2,97.0 320.1,95.7 323.0,94.7 325.9,94.0 328.8,93.6 331.6,93.4 334.5,93.6 337.4,94.2 340.3,95.0 343.2,96.1 346.1,97.4 348.9,98.9 351.8,100.6 354.7,102.4 357.6,104.3 360.5,106.2 363.4,108.1 366.2,109.9 369.1,111.6 372.0,113.2 374.9,114.7 377.8,116.2 380.7,117.5 383.6,118.7 386.4,119.9 389.3,121.1 392.2,122.3 395.1,123.5 398.0,124.8 400.9,126.2 403.7,127.6 406.6,129.1 409.5,130.7 412.4,132.4 415.3,134.1 418.2,135.8 421.0,137.4 423.9,139.0 426.8,140.3 429.7,141.4 432.6,142.3 435.5,142.8 438.3,143.0 441.2,142.7 444.1,142.0 447.0,140.9 449.9,139.3 452.8,137.3 455.7,135.0 458.5,132.3 461.4,129.4 464.3,126.2 467.2,122.9 470.1,119.5 473.0,116.2 475.8,112.9 478.7,109.8 481.6,106.9 484.5,104.2 487.4,101.9 490.3,99.9 493.1,98.2 496.0,96.8 498.9,95.8 501.8,95.2" fill="none" stroke="#68c7bc" stroke-opacity="0.65" stroke-width="2.8" stroke-linejoin="round" stroke-linecap="butt"/>
<polyline points="501.8,95.2 504.7,94.8 507.6,94.7 510.4,94.9 513.3,95.3 516.2,95.9 519.1,96.7 522.0,97.6 524.9,98.6 527.8,99.7 530.6,100.9 533.5,102.1 536.4,103.4 539.3,104.8 542.2,106.2 545.1,107.6 547.9,109.1 550.8,110.6 553.7,112.2 556.6,113.8 559.5,115.4 562.4,117.0 565.2,118.5 568.1,119.8 571.0,121.0 573.9,122.0 576.8,123.0 579.7,123.8 582.5,124.4 585.4,124.9 588.3,125.3 591.2,125.5 594.1,125.5 597.0,125.3 599.9,125.1 602.7,124.6 605.6,124.1 608.5,123.4 611.4,122.6 614.3,121.6 617.2,120.5 620.0,119.3 622.9,118.0 625.8,116.5 628.7,114.8 631.6,112.9 634.5,110.9 637.3,108.6 640.2,106.1 643.1,103.3 646.0,100.3 648.9,97.1 651.8,93.7 654.6,90.0 657.5,86.2 660.4,82.2 663.3,78.1" fill="none" stroke="#30459c" stroke-opacity="0.68" stroke-width="2.8" stroke-linejoin="round" stroke-linecap="butt"/>
<polyline points="86.5,237.5 89.4,237.9 92.3,236.7 95.2,234.3 98.0,231.2 100.9,228.3 103.8,226.2 106.7,225.6 109.6,226.5 112.5,228.9 115.3,232.2 118.2,235.6 121.1,238.4 124.0,239.8 126.9,239.6 129.8,237.7 132.6,234.6 135.5,231.0 138.4,227.7 141.3,225.4 144.2,224.7 147.1,225.6 149.9,228.0 152.8,231.1 155.7,234.1 158.6,236.4 161.5,237.2 164.4,236.3 167.3,233.9 170.1,230.6 173.0,227.1 175.9,224.3 178.8,222.9 181.7,223.3 184.6,225.4 187.4,228.9 190.3,232.9 193.2,236.7 196.1,239.3 199.0,240.3 201.9,239.4 204.7,237.1 207.6,233.8 210.5,230.5 213.4,228.0 216.3,226.9 219.2,227.5 222.0,229.7 224.9,232.9 227.8,236.4 230.7,239.1 233.6,240.5 236.5,240.0 239.4,237.7 242.2,234.0 245.1,229.7 248.0,225.8 250.9,223.0 253.8,221.9 256.7,222.8 259.5,225.3 262.4,228.8 265.3,231.7 268.2,232.9 271.1,232.2 274.0,229.6 276.8,226.5 279.7,223.8 282.6,221.7 285.5,219.9 288.4,217.9 291.3,215.8 294.1,213.6 297.0,211.0 299.9,208.1 302.8,205.1 305.7,201.9 308.6,198.6 311.5,195.3 314.3,192.0 317.2,188.9 320.1,185.9 323.0,182.9 325.9,179.8 328.8,176.5 331.6,172.9 334.5,169.0 337.4,163.8 340.3,158.2 343.2,153.6 346.1,150.6 348.9,148.0 351.8,145.8 354.7,144.1 357.6,142.7 360.5,141.5 363.4,140.5 366.2,139.6 369.1,138.7 372.0,137.7 374.9,136.7 377.8,135.7 380.7,134.7 383.6,133.7 386.4,132.7 389.3,131.8 392.2,130.9 395.1,130.6 398.0,130.8 400.9,131.4 403.7,132.3 406.6,133.5 409.5,134.7 412.4,136.0 415.3,137.2 418.2,138.2 421.0,139.1 423.9,139.8 426.8,140.3 429.7,140.6 432.6,141.0 435.5,141.3 438.3,141.7 441.2,142.2 444.1,143.0 447.0,144.1 449.9,145.4 452.8,147.1 455.7,149.0 458.5,151.1 461.4,153.4 464.3,155.8 467.2,158.2 470.1,160.4 473.0,162.5 475.8,164.4 478.7,166.0 481.6,167.3 484.5,168.4 487.4,169.2 490.3,169.8 493.1,170.2 496.0,170.7 498.9,171.1 501.8,171.6 504.7,172.2 507.6,173.0 510.4,173.9 513.3,175.0 516.2,176.2 519.1,177.4 522.0,178.6 524.9,179.7 527.8,180.6 530.6,181.2 533.5,181.5 536.4,181.3 539.3,180.8 542.2,179.9 545.1,178.6 547.9,177.0 550.8,175.1 553.7,173.2 556.6,171.2 559.5,169.2 562.4,167.3" fill="none" stroke="#68c7bc" stroke-opacity="0.65" stroke-width="2.8" stroke-linejoin="round" stroke-linecap="butt"/>
<polyline points="562.4,167.3 565.2,165.6 568.1,164.1 571.0,162.8 573.9,161.7 576.8,160.8 579.7,159.9 582.5,159.1 585.4,158.2 588.3,157.2 591.2,155.9 594.1,154.4 597.0,152.5 599.9,150.3 602.7,147.9 605.6,145.1 608.5,142.3 611.4,139.4 614.3,136.6 617.2,134.1 620.0,131.9 622.9,130.2 625.8,129.0 628.7,128.4 631.6,128.5 634.5,129.2 637.3,130.4 640.2,132.0 643.1,133.9 646.0,136.0 648.9,138.2 651.8,140.1 654.6,141.9 657.5,143.2 660.4,144.1 663.3,144.6" fill="none" stroke="#30459c" stroke-opacity="0.68" stroke-width="2.8" stroke-linejoin="round" stroke-linecap="butt"/>
</g>
<g clip-path="url(#cb)">
<polyline points="86.0,477.9 86.8,477.4 87.8,476.7 89.1,475.9 90.5,475.1 92.0,474.2 93.5,473.3 95.0,472.5 96.5,471.8 98.0,471.2 99.5,470.5 101.0,469.8 102.5,469.2 104.1,468.7 105.7,468.4 107.3,468.2 108.8,468.3 110.2,468.6 111.5,469.1 112.9,469.8 114.3,470.6 115.6,471.5 117.0,472.4 118.3,473.4 119.7,474.4 121.0,475.3 122.3,476.3 123.7,477.4 125.0,478.6 126.3,479.8 127.6,481.0 128.9,482.1 130.1,483.0 131.3,483.7 132.4,484.1 133.9,484.2 135.3,483.8 136.5,483.0 137.7,481.9 139.0,480.8 140.3,479.7 141.5,478.7 142.7,477.4 143.9,476.0 145.1,474.6 146.4,473.3 147.7,472.2 149.0,471.5" fill="none" stroke="#68c7bc" stroke-opacity="0.65" stroke-width="2.8" stroke-linejoin="round" stroke-linecap="butt"/>
<polyline points="173.2,473.3 174.6,473.0 176.1,472.5 177.6,472.0 179.1,471.5 180.7,470.9 182.3,470.2 183.9,469.6 185.5,469.0 187.0,468.4 188.5,467.9 190.0,467.4 191.5,466.9 192.9,466.5 194.4,466.0 195.9,465.6 197.4,465.1 198.8,464.7 200.2,464.2 201.6,463.7 203.0,463.2 204.3,462.7 205.9,462.0 207.4,461.4 209.0,460.7 210.5,460.0 211.9,459.3 213.3,458.5 214.7,457.8 216.1,457.0 217.4,456.1 218.7,455.2 220.0,454.3 221.2,453.3 222.4,452.3 223.6,451.3 224.7,450.3 225.8,449.2 226.9,448.1 227.9,446.9 228.9,445.7 229.8,444.5 230.7,443.3 231.6,442.1 232.4,440.8 233.3,439.4 234.1,438.0 234.9,436.6 235.8,435.1 236.5,433.8 237.2,432.4 238.0,431.0 238.7,429.5 239.4,428.0 240.1,426.5 240.8,425.0 241.5,423.5 242.3,422.1 243.0,420.6 243.7,419.3 244.5,417.9 245.2,416.5 246.0,415.1 246.7,413.8 247.5,412.5 248.3,411.2 249.0,409.9 249.9,408.7 250.7,407.4 251.6,406.2 252.5,404.9 253.5,403.7 254.5,402.4 255.5,401.2 256.5,400.0 257.6,398.8 258.7,397.6 259.8,396.5 260.9,395.4 262.1,394.4 263.3,393.4 264.6,392.5 265.9,391.7 267.3,390.8 268.6,390.0 270.0,389.3 271.4,388.6 272.7,387.9 274.0,387.2 275.2,386.5 276.7,385.7 278.0,385.0 279.4,384.3 280.7,383.6 282.0,383.0 283.3,382.4 284.6,381.8 286.0,381.2 287.4,380.6 288.8,380.1 290.2,379.7 291.6,379.2 293.1,378.7 294.6,378.1 296.3,377.4 298.0,376.5 299.2,375.8 300.4,375.1 301.8,374.3 303.2,373.4 304.6,372.5 306.1,371.6 307.5,370.6 308.9,369.7 310.3,368.8 311.6,367.8 312.9,367.0 314.0,366.2 315.0,365.4 316.6,364.2 317.9,363.1 318.9,362.0 319.8,361.1 320.7,360.1 321.6,359.0 322.6,357.9 323.5,356.8 324.5,355.7 325.4,354.6 326.3,353.4 327.2,352.2 328.2,351.0 329.2,349.7 330.2,348.4 331.2,347.2 332.2,345.9 333.3,344.6 334.4,343.3 335.5,341.9 336.6,340.6 337.7,339.3 338.7,338.1 339.7,337.0 340.9,335.7 342.0,334.4 343.1,333.2 344.1,332.1 345.2,331.1 346.2,330.2 347.3,329.4 348.8,328.4 350.3,327.6 351.9,327.0 353.4,326.6 354.9,326.5 356.5,326.7 358.1,327.3 359.8,328.0 361.2,328.7 362.4,329.4 363.6,330.5 365.0,332.1 366.1,332.9 367.4,333.9 368.8,335.0 370.4,336.1 371.9,337.3 373.4,338.4 374.6,339.4 375.8,340.4 377.1,341.4 378.3,342.5 379.5,343.5 380.7,344.5 381.8,345.4 383.3,346.6 384.8,347.8 386.2,349.0 387.5,350.0 388.8,351.0 390.3,352.1 391.7,353.2 393.0,354.0 394.4,354.5 396.2,354.4 398.0,353.8 400.0,353.1 401.7,352.5 403.5,351.8 405.3,351.2 407.1,350.7 408.9,350.4 410.6,350.3 412.4,350.3 414.1,350.3 415.9,350.4 417.7,350.5 419.4,350.8 421.1,351.0 423.1,351.5 424.9,352.1 426.7,352.4 428.5,352.1 430.2,351.5 432.3,351.0 433.8,350.9 435.6,350.8 437.4,350.7 439.2,350.8 440.7,351.0 442.2,351.4 443.5,352.0 444.8,352.8 446.3,353.8 447.4,354.6 448.6,355.4 449.9,356.4 451.2,357.4 452.8,358.4 454.5,359.5 455.7,360.1 456.9,360.8 458.3,361.5 459.7,362.2 461.1,362.9 462.6,363.6 464.1,364.4 465.6,365.1 467.1,365.8 468.5,366.5 469.9,367.2 471.4,368.0 472.8,368.8 474.3,369.5 475.7,370.3 477.2,371.1 478.6,371.8 479.9,372.5 481.2,373.1 482.5,373.6 484.2,374.2 485.9,374.7 487.4,375.1 488.9,375.4 490.4,375.7 491.7,376.0 493.0,376.4 494.6,377.1 495.9,377.9 497.1,378.6 498.4,379.3 500.0,379.9 501.3,380.2 502.8,380.4 504.3,380.5 505.9,380.6 507.5,380.7 509.1,381.0 510.6,381.3 512.1,381.8 513.6,382.3 515.1,383.0 516.6,383.7 518.1,384.4 519.6,385.1 521.1,385.8 522.6,386.5 524.1,387.2 525.6,387.8 527.1,388.5 528.6,389.3 530.1,390.2 531.6,391.1 532.8,391.9 534.0,392.7 535.2,393.5 536.4,394.3 537.6,395.3 538.7,396.2 539.9,397.3 541.0,398.5 542.1,399.8 542.9,400.9 543.7,402.1 544.4,403.4 545.1,404.7 545.8,406.1 546.6,407.6 547.3,409.0 548.0,410.5 548.7,411.9 549.4,413.2 550.1,414.4 550.8,415.6 551.8,417.1 552.7,418.5 553.7,419.9 554.6,421.3 555.6,422.6 556.5,423.7 557.5,424.7 558.5,425.5 559.6,426.1 561.0,426.5 562.5,426.5 564.0,426.2 565.5,425.8 567.1,425.2 568.6,424.7 570.1,424.3 571.6,424.1 573.1,423.9 574.6,423.8 576.1,423.6 577.6,423.3 579.1,422.7 580.6,421.9 581.6,421.1 582.7,420.2 583.8,419.1 584.8,418.0 585.9,416.7 586.9,415.4 588.0,414.1 589.0,412.8 590.1,411.5 591.1,410.3 592.1,409.1 593.2,407.8 594.2,406.6 595.3,405.3 596.4,404.0 597.4,402.8 598.5,401.5 599.5,400.3 600.6,399.2 601.6,398.1 602.8,396.9 604.0,395.8 605.2,394.7 606.4,393.6 607.5,392.5 608.7,391.6 609.9,390.7 611.0,389.9 612.1,389.3 613.9,388.5 615.7,387.9 617.3,387.7 619.1,387.6 620.9,387.6 622.3,387.7 623.7,387.8 625.2,388.0 626.7,388.3 628.2,388.7 629.8,389.0 631.4,389.3 632.9,389.6 634.4,389.9 636.0,390.2 637.7,390.5 639.3,390.9 640.8,391.2 642.3,391.5 643.7,391.8 645.7,392.4 647.4,393.2 649.1,393.9 650.7,394.2 652.4,393.9 653.5,393.2 654.8,392.1 656.0,390.8 657.2,389.3 658.4,387.8 659.5,386.4 660.4,385.1 661.2,384.1 662.8,381.9 663.3,381.0" fill="none" stroke="#68c7bc" stroke-opacity="0.65" stroke-width="2.8" stroke-linejoin="round" stroke-linecap="butt"/>
<polyline points="86.0,480.6 86.7,479.9 87.6,478.9 88.7,477.7 89.9,476.4 91.3,475.0 92.6,473.7 94.0,472.3 95.3,471.1 96.5,470.0 97.8,468.9 99.0,467.9 100.3,466.9 101.5,466.0 102.8,465.1 104.1,464.4 105.5,463.6 107.0,463.0 108.4,462.5 109.9,462.2 111.4,462.0 112.9,461.9 114.5,461.7 116.1,461.5 117.8,461.3 119.4,460.9 121.0,460.4 122.3,459.8 123.7,459.2 125.1,458.4 126.5,457.6 127.9,456.8 129.3,455.9 130.6,455.1 132.0,454.2 133.4,453.4 134.7,452.7 136.0,452.1 137.6,451.5 139.1,451.0 140.6,450.6 142.1,450.2 143.6,449.8 145.0,449.4 146.4,449.0 147.8,448.4 149.1,447.7 150.4,446.9 151.6,446.0 152.8,445.1 153.9,444.1 155.1,443.0 156.2,441.9 157.3,440.6 158.4,439.2 159.6,437.7 160.3,436.6 161.1,435.5 161.8,434.3 162.6,433.0 163.3,431.7 164.1,430.3 164.8,428.9 165.6,427.5 166.3,426.1 167.1,424.7 167.8,423.3 168.6,421.9 169.3,420.6 170.1,419.3 170.9,417.9 171.7,416.5 172.5,415.1 173.4,413.7 174.2,412.3 175.0,410.9 175.8,409.6 176.6,408.2 177.4,406.9 178.3,405.7 179.1,404.5 179.9,403.3 180.7,402.2 181.9,400.7 183.0,399.3 184.1,398.0 185.2,396.8 186.4,395.7 187.5,394.6 188.7,393.6 189.9,392.6 191.2,391.7 192.5,390.8 193.9,390.1 195.3,389.3 196.7,388.7 198.1,388.1 199.6,387.5 201.2,387.0 202.7,386.5 204.3,386.0 205.8,385.6 207.4,385.3 209.1,385.1 210.7,384.9 212.4,384.7 214.1,384.5 215.8,384.3 217.3,384.0 218.8,383.7 220.1,383.3 221.7,382.7 223.1,382.0 224.3,381.3 225.5,380.5 226.6,379.6 227.8,378.6 229.2,377.3 230.2,376.4 231.2,375.3 232.3,374.2 233.4,373.0 234.5,371.7 235.6,370.4 236.8,369.1 237.9,367.8 239.0,366.5 240.1,365.3 241.1,364.1 242.2,362.8 243.3,361.6 244.4,360.3 245.5,359.0 246.6,357.7 247.6,356.5 248.6,355.4 249.7,354.3 250.6,353.2 251.6,352.3 253.1,350.9 254.6,349.7 256.1,348.7 257.4,347.8 258.8,347.0 260.0,346.4 261.7,345.8 263.2,345.6 264.7,345.6 266.2,345.7 267.8,345.8 269.3,346.1 270.9,346.4 272.4,346.8 273.9,347.2 275.4,347.7 276.9,348.3 278.5,348.8 279.8,349.2 281.2,349.5 282.6,349.9 284.2,350.3 286.0,350.8 287.3,351.2 288.8,351.6 290.3,352.0 291.9,352.4 293.5,352.9 295.1,353.3 296.6,353.6 297.9,353.9 299.7,354.1 301.4,354.2 302.9,354.2 304.4,354.2 306.0,354.4 307.4,354.8 308.9,355.3 310.4,355.9 311.9,356.4 313.5,356.8 315.0,356.9 316.6,356.8 318.1,356.4 319.7,356.0 321.3,355.4 322.9,354.7 324.5,354.1 325.9,353.5 327.2,352.9 328.6,352.2 329.9,351.5 331.3,350.7 332.6,350.0 334.0,349.3 335.4,348.6 336.7,347.9 338.1,347.2 339.4,346.4 340.8,345.8 342.1,345.1 343.5,344.6 345.1,344.0 346.7,343.6 348.3,343.1 349.8,342.8 351.4,342.5 353.0,342.3 354.7,342.2 356.4,342.2 358.1,342.3 359.8,342.5 361.2,342.6 362.4,342.7 363.7,342.9 365.0,343.3 366.4,343.5 368.1,343.8 370.0,344.1 372.0,344.5 373.8,345.1 375.2,345.7" fill="none" stroke="#68c7bc" stroke-opacity="0.65" stroke-width="2.8" stroke-linejoin="round" stroke-linecap="butt"/>
<polyline points="86.0,482.3 86.7,481.7 87.7,480.9 88.8,479.9 90.1,478.8 91.4,477.6 92.7,476.5 93.9,475.3 95.0,474.1 96.2,472.9 97.3,471.7 98.5,470.4 99.6,469.1 100.7,467.8 101.8,466.5 102.8,465.2 103.9,463.9 104.9,462.5 105.8,461.2 106.8,459.8 107.8,458.4 108.8,456.9 109.7,455.6 110.6,454.2 111.5,452.7 112.4,451.3 113.3,449.8 114.2,448.3 115.0,446.9 115.8,445.5 116.6,444.0 117.4,442.5 118.1,441.0 118.9,439.6 119.6,438.1 120.3,436.6 121.0,435.0 121.7,433.6 122.3,432.1 122.9,430.6 123.6,429.0 124.2,427.5 124.9,425.9 125.6,424.3 126.3,422.8 127.0,421.4 127.6,419.9 128.4,418.5 129.1,417.0 129.8,415.5 130.5,414.1 131.2,412.8 131.8,411.6 132.4,410.5 133.4,408.8 134.1,407.7 134.9,406.6 136.0,404.9 136.7,403.8 137.4,402.6 138.2,401.2 139.1,399.8 140.0,398.3 140.9,396.8 141.9,395.4 142.9,394.1 143.9,393.0 145.1,391.9 146.2,390.8 147.4,389.8 148.7,388.9 150.0,388.1 151.3,387.3 152.8,386.6 154.4,386.0 155.7,385.6 157.2,385.3 158.6,385.1 160.2,385.0 161.8,384.9 163.4,384.8 165.0,384.6 166.7,384.4 168.4,384.2 170.1,383.8 171.4,383.4 172.8,383.1 174.2,382.6 175.6,382.2 177.0,381.7 178.4,381.2 179.9,380.7 181.3,380.1 182.7,379.6 184.2,379.0 185.6,378.4 187.1,377.9 188.5,377.3 189.9,376.7 191.3,376.1 192.7,375.4 194.2,374.8 195.6,374.1 197.0,373.4 198.4,372.7 199.8,372.0 201.2,371.4 202.7,370.7 204.1,370.1 205.5,369.5 206.9,368.9 208.4,368.3 210.0,367.7 211.6,367.1 213.1,366.5 214.7,365.9 216.3,365.4 217.8,364.8 219.4,364.3 220.9,363.9 222.4,363.5 223.9,363.1 225.3,362.8 227.0,362.5 228.7,362.4 230.4,362.3 232.1,362.3 233.7,362.3 235.3,362.3 236.8,362.4 238.3,362.4 239.7,362.4 241.1,362.3 242.9,362.1 244.7,361.9 246.3,361.6 247.9,361.3 249.3,361.0 250.5,360.6 251.6,360.2 253.2,359.0 253.9,357.7 255.0,356.5 256.3,355.8 257.8,355.3 259.4,354.8 261.1,354.4 262.8,354.0 264.6,353.6 266.5,353.2 268.3,352.9 270.1,352.6 271.9,352.4 273.7,352.1 275.4,351.9 277.0,351.6 278.6,351.4 280.1,351.2 281.6,351.1 283.0,351.2 284.3,351.3 285.7,351.6 287.7,351.9 288.9,352.1 290.3,352.4 291.7,352.6 293.3,352.9 294.9,353.2 296.6,353.5 298.3,353.8 300.0,354.0 301.4,354.2 302.9,354.3 304.4,354.5 306.0,354.6 307.6,354.7 309.1,354.9 310.7,354.9 312.2,355.0 313.6,355.0 315.0,355.0 316.8,354.9 318.5,354.8 320.0,354.5 321.6,354.3 323.1,353.9 324.7,353.5 326.4,353.1 327.8,352.7 329.2,352.2 330.7,351.6 332.2,351.0 333.7,350.4 335.2,349.8 336.7,349.2 338.2,348.8 339.7,348.4 341.4,348.1 343.1,347.8 344.8,347.6 346.5,347.5 348.2,347.4 349.8,347.4 351.4,347.4 353.0,347.4 354.8,347.5 356.5,347.7 358.2,348.0 359.8,348.3 361.4,348.7 362.9,349.0 364.3,349.3 366.1,349.7 367.7,350.0 369.1,350.4 370.6,350.7 372.0,351.0 373.8,351.4 375.6,351.8 377.4,352.1 379.0,352.4 380.9,352.7 382.7,352.9 384.6,353.1 386.1,353.3 387.7,353.4 389.3,353.6 390.9,353.8 392.5,354.1" fill="none" stroke="#68c7bc" stroke-opacity="0.65" stroke-width="2.8" stroke-linejoin="round" stroke-linecap="butt"/>
<polyline points="86.0,485.8 86.6,485.1 87.4,484.1 88.4,482.9 89.4,481.6 90.6,480.2 91.8,478.8 93.0,477.4 94.2,476.0 95.4,474.7 96.5,473.6 97.6,472.4 98.8,471.3 99.9,470.2 101.0,469.1 102.1,468.1 103.2,467.1 104.4,466.3 105.7,465.5 107.0,464.8 108.4,464.2 109.9,463.8 111.4,463.5 112.9,463.3 114.5,463.1 116.1,462.9 117.8,462.7 119.4,462.5 121.0,462.2 122.5,461.9 124.0,461.6 125.5,461.3 127.0,460.9 128.6,460.6 130.1,460.3 131.6,459.9 133.1,459.5 134.6,459.1 136.0,458.7 137.6,458.2 139.1,457.7 140.6,457.2 142.1,456.7 143.6,456.1 145.0,455.5 146.4,454.9 147.8,454.2 149.1,453.5 150.4,452.8 151.6,452.1 152.8,451.4 153.9,450.6 155.1,449.8 156.2,448.8 157.3,447.8 158.4,446.5 159.6,445.0 160.3,444.0 161.0,442.9 161.7,441.6 162.4,440.4 163.1,439.0 163.8,437.6 164.5,436.2 165.2,434.7 165.9,433.2 166.6,431.7 167.3,430.2 168.0,428.7 168.7,427.3 169.4,425.9 170.1,424.6 170.9,423.2 171.6,421.8 172.4,420.4 173.2,419.0 173.9,417.6 174.7,416.2 175.5,414.8 176.3,413.4 177.0,412.1 177.8,410.8 178.5,409.6 179.3,408.4 180.0,407.3 180.7,406.2 181.8,404.6 182.8,403.2 183.9,401.8 184.9,400.6 185.9,399.4 186.9,398.3 187.9,397.4 188.8,396.5 189.8,395.7 191.5,394.6 193.0,393.7 194.6,393.2 196.1,393.0 197.7,393.0 199.3,393.4 200.8,394.2 202.3,395.1 203.9,396.2 205.6,397.0 207.0,397.6 208.5,398.3 210.0,399.0 211.6,399.6 213.2,400.0 214.8,400.1 216.2,400.0 217.7,399.8 219.2,399.5 220.7,399.0 222.3,398.4 223.8,397.7 225.3,397.0 226.6,396.3 227.9,395.5 229.2,394.7 230.6,393.8 231.9,392.7 233.2,391.6 234.5,390.4 235.8,389.1 236.8,388.0 237.7,386.8 238.7,385.5 239.6,384.2 240.6,382.8 241.5,381.4 242.5,379.9 243.4,378.5 244.4,377.2 245.3,375.9 246.3,374.7 247.5,373.3 248.6,371.9 249.8,370.6 251.0,369.3 252.1,368.1 253.3,366.9 254.5,365.9 255.6,364.9 256.8,364.1 258.3,363.2 259.8,362.5 261.3,362.0 262.8,361.6 264.3,361.4 265.8,361.2 267.3,361.0 268.8,360.9 270.4,361.0 271.9,361.1 273.5,361.3 275.0,361.5 276.4,361.8 277.8,362.0 279.5,362.4 281.0,362.8 282.4,363.2 284.0,363.7 286.0,364.1 287.3,364.3 288.7,364.5 290.2,364.7 291.8,364.9 293.4,365.1 295.0,365.3 296.7,365.6 298.4,365.8 300.0,366.0 301.5,366.3 303.0,366.6 304.6,366.9 306.2,367.3 307.8,367.7 309.3,368.0 310.9,368.3 312.3,368.4 313.7,368.4 315.0,368.3 316.6,367.8 318.1,367.1 319.5,366.1 320.7,365.0 321.9,363.9 323.2,362.7 324.5,361.7 325.9,360.7 327.2,359.8 328.6,358.8 329.9,357.8 331.3,356.8 332.6,355.9 334.0,355.0 335.4,354.1 336.7,353.2 338.1,352.2 339.4,351.4 340.8,350.5 342.1,349.9 343.5,349.3 345.1,348.8 346.7,348.5 348.3,348.4 349.8,348.3 351.4,348.3 353.0,348.4 354.7,348.6 356.4,348.9 358.1,349.3 359.8,349.7 361.2,350.1 362.4,350.3 363.8,350.2 365.0,350.3 366.1,350.9 367.5,351.7 369.0,352.7 370.5,353.6 372.0,354.5 373.4,355.2 374.8,356.0 376.2,356.6 377.6,357.3 379.0,358.0 380.4,358.7 381.8,359.4 383.2,360.2 384.6,360.8 386.0,361.5 387.4,362.1 388.8,362.7 390.2,363.3 391.6,363.8 393.0,364.3 394.7,364.9 396.5,365.3 398.2,365.8 400.0,366.4 401.4,366.9 402.8,367.4 404.3,367.9 405.7,368.5 407.1,369.3 408.5,370.2 409.9,371.3 411.3,372.4 412.7,373.6 414.1,374.9 415.3,376.0 416.4,377.1 417.6,378.3 418.8,379.5 419.9,380.7 421.1,381.9 422.3,383.1 423.4,384.3 424.6,385.5 425.8,386.7 426.9,387.8 428.1,388.9 429.5,390.2 430.9,391.4 432.3,392.5 433.7,393.6 435.1,394.5 436.5,395.3 438.0,395.9 439.4,396.4 440.8,396.9 442.1,397.3 444.1,398.0 446.0,398.5 447.7,398.7 449.8,398.3 451.9,397.3 453.1,396.6 454.4,395.9 456.0,395.0 458.0,393.9 459.1,393.3 460.3,392.6 461.6,391.8 463.0,391.0 464.5,390.2 466.0,389.5 467.5,388.9 468.9,388.5 470.3,388.3 471.8,388.3 473.2,388.6 474.6,389.1 476.1,389.7 477.5,390.4 479.1,391.1 480.7,392.0 482.5,392.8 483.7,393.4 484.9,394.0 486.2,394.8 487.6,395.6 489.0,396.4 490.4,397.3 491.8,398.1 493.3,398.9 494.7,399.7 496.1,400.3 497.4,400.9 498.8,401.3 500.0,401.6 501.7,401.8 503.4,401.8 505.0,401.5 506.5,401.2 508.0,400.7 509.5,400.1 511.0,399.5 512.6,398.8 514.1,398.1 515.4,397.5 516.7,396.8 517.9,396.1 519.2,395.2 520.5,394.4 521.7,393.5 523.0,392.6 524.3,391.8 525.6,390.9 526.8,390.1 528.1,389.3 529.5,388.4 531.0,387.5 532.4,386.6 533.9,385.7 535.3,384.7 536.8,383.9 538.2,383.1 539.5,382.5 540.8,382.0 542.1,381.6 543.8,381.4 545.4,381.4 546.8,381.7 548.3,382.1 549.7,382.7 551.1,383.4 552.6,384.1 553.9,384.8 555.3,385.8 556.7,386.8 558.1,387.9 559.4,389.0 560.7,390.1 562.0,391.0 563.1,391.8 564.7,392.8 566.0,393.7 567.2,394.3 568.5,394.6 570.1,394.6 571.4,394.3 572.8,393.7 574.4,392.9 575.9,392.0 577.5,391.0 579.1,390.1 580.6,389.3 582.1,388.5 583.7,387.7 585.3,386.9 586.8,386.1 588.4,385.4 589.8,384.7 591.1,384.1 593.0,383.4 594.6,383.0 596.2,382.5 598.1,381.6" fill="none" stroke="#68c7bc" stroke-opacity="0.65" stroke-width="2.8" stroke-linejoin="round" stroke-linecap="butt"/>
<polyline points="149.0,471.5 150.4,471.1 151.8,471.0 153.3,471.1 154.8,471.4 156.4,471.7 158.0,472.0 159.6,472.2 161.0,472.4 162.4,472.7 163.9,473.0 165.3,473.3 166.8,473.6 168.4,473.7 170.0,473.8 171.8,473.6 173.2,473.3" fill="none" stroke="#eaf03c" stroke-opacity="0.8" stroke-width="2.8" stroke-linejoin="round" stroke-linecap="butt"/>
<polyline points="375.2,345.7 376.6,346.4 377.9,347.1 379.2,347.9 380.5,348.8 381.8,349.6 383.3,350.6 384.7,351.6 386.0,352.7 387.4,353.9 388.8,355.2 389.8,356.3 390.8,357.4 391.9,358.6 392.9,359.8 393.9,361.1 394.9,362.4 395.8,363.6 396.8,365.0 397.8,366.4 398.7,367.9 399.7,369.3 400.6,370.7 401.5,372.1 402.4,373.6 403.4,375.1 404.3,376.6 405.2,378.1 406.2,379.4 407.1,380.5 408.4,381.8 409.7,382.7 411.1,383.4 412.7,384.0 414.2,384.4 415.9,384.7 417.7,384.9 419.5,385.1 421.1,385.4 422.9,385.9 424.7,386.5 426.4,387.1 428.1,387.5 429.8,387.8 431.5,388.0 433.3,388.1 435.1,388.2 436.8,388.2 438.6,388.2 440.4,388.2 442.1,388.1 443.5,388.2 445.4,388.6 447.5,389.3 448.7,389.6 450.0,389.9 451.5,390.2 453.2,390.5 454.8,390.9 456.4,391.3 458.0,391.8 459.5,392.4 461.0,393.0 462.5,393.7 464.0,394.5 465.5,395.2 467.0,395.8 468.5,396.3 470.0,396.7 471.5,397.1 473.0,397.5 474.5,397.8 476.0,398.0 477.5,398.1 479.0,398.1 480.5,398.0 482.0,397.7 483.5,397.4 485.0,397.0 486.5,396.5 488.0,395.9 489.5,395.3 490.8,394.7 492.2,394.0 493.5,393.2 494.9,392.3 496.2,391.5 497.5,390.7 498.8,390.0 500.0,389.3 501.6,388.5 503.1,387.7 504.5,387.0 505.9,386.4 507.4,385.9 508.8,385.8 510.2,385.9 511.7,386.3 513.1,386.8 514.5,387.5 516.0,388.3 517.6,389.3 518.7,390.1 519.8,391.0 521.0,391.9 522.2,393.0 523.3,394.1 524.5,395.2 525.7,396.2 526.9,397.2 528.1,398.1 529.4,399.0 530.7,399.9 532.0,400.8 533.4,401.6 534.7,402.4 536.0,403.1 537.3,403.6 538.6,404.0 540.1,404.3 541.6,404.3 543.1,404.2 544.6,404.0 546.1,403.8 547.6,403.5 549.1,403.3 550.6,403.1 552.1,402.8 553.6,402.6 555.1,402.3 556.6,402.0 558.1,401.8 559.6,401.6 561.1,401.5 562.6,401.5 564.1,401.6 565.6,401.7 567.1,401.7 568.6,401.7 570.1,401.6 571.6,401.4 573.1,401.1 574.6,400.7 576.1,400.3 577.6,399.9 579.1,399.5 580.6,399.1 582.1,398.7 583.6,398.3 585.1,397.9 586.6,397.5 588.1,397.1 589.6,396.7 591.1,396.3 592.6,396.0 594.1,395.6 595.6,395.4 597.1,395.1 598.6,394.7 600.1,394.4 601.6,393.9 603.1,393.3 604.7,392.6 606.3,391.8 607.8,391.0 609.4,390.3 610.8,389.7 612.1,389.3 614.1,389.0 615.8,389.1 617.4,389.6 619.1,390.4 620.2,391.3 621.3,392.4 622.4,393.7 623.5,395.1 624.7,396.3 626.1,397.4 627.4,398.2 628.9,399.1 630.4,399.9 632.0,400.6 633.6,401.2 635.2,401.5 636.7,401.6 638.2,401.4 639.7,400.9 641.2,400.3 642.7,399.4 644.2,398.5 645.7,397.4 647.2,396.3 648.4,395.3 649.6,394.3 650.9,393.1 652.1,391.8 653.4,390.6 654.6,389.3 655.7,388.1 656.7,386.9 657.7,385.8 659.0,384.3 660.1,382.7 661.2,381.2 662.0,379.9 662.7,378.8 663.3,378.0" fill="none" stroke="#30459c" stroke-opacity="0.68" stroke-width="2.8" stroke-linejoin="round" stroke-linecap="butt"/>
<polyline points="392.5,354.1 394.1,354.3 395.7,354.7 397.2,355.2 398.7,355.9 400.1,356.6 401.5,357.6 402.9,358.7 404.0,359.8 405.1,361.0 406.3,362.3 407.4,363.6 408.5,365.0 409.4,366.1 410.4,367.3 411.3,368.5 412.2,369.7 413.2,370.9 414.1,372.1 415.2,373.5 416.3,374.9 417.5,376.3 418.6,377.7 419.7,379.1 420.8,380.5 421.9,381.8 423.1,383.2 424.2,384.6 425.3,386.1 426.2,387.4 427.2,388.8 428.1,390.2 429.0,391.6 430.0,393.1 430.9,394.5 431.8,395.9 432.8,397.3 433.7,398.8 434.7,400.2 435.6,401.6 436.5,402.9 437.4,404.3 438.3,405.7 439.1,407.0 440.1,408.4 441.4,410.0 442.2,411.0 443.2,412.1 444.2,413.3 445.2,414.5 446.3,415.7 447.4,417.0 448.6,418.2 449.8,419.5 451.0,420.8 452.0,421.9 453.1,422.9 454.3,424.0 455.4,425.1 456.6,426.2 457.8,427.3 459.0,428.4 460.1,429.6 461.2,430.7 462.3,431.9 463.3,433.1 464.3,434.4 465.3,435.7 466.2,437.1 467.1,438.4 468.0,439.8 468.8,441.2 469.6,442.6 470.4,444.0 471.2,445.6 472.0,447.1 472.6,448.4 473.3,449.8 473.9,451.2 474.5,452.7 475.0,454.1 475.6,455.6 476.2,457.1 476.7,458.6 477.3,460.1 477.9,461.6 478.4,463.1 479.0,464.6 479.6,466.1 480.2,467.6 480.8,469.2 481.3,470.8 481.9,472.4 482.5,474.0 483.1,475.6 483.7,477.0 484.2,478.5 484.8,479.8 485.4,481.0 486.0,482.1 487.2,484.0 488.3,485.7 489.5,487.1 490.7,488.2 491.8,488.9 493.0,489.1 494.2,488.8 495.3,488.1 496.5,486.9 497.7,485.5 498.8,483.8 500.0,482.1 500.7,480.9 501.4,479.6 502.1,478.1 502.8,476.6 503.4,475.0 504.1,473.4 504.8,471.9 505.6,470.4 506.3,469.2 507.1,468.1 508.5,466.6 509.9,465.2 511.3,464.1 512.8,463.3 514.3,462.9 515.8,462.9 516.9,463.3 518.0,464.0 519.0,464.9 520.1,466.1 521.2,467.4 522.3,468.8 523.4,470.2 524.6,471.6 525.5,472.7 526.5,473.9 527.4,475.3 528.4,476.7 529.5,478.1 530.5,479.6 531.5,480.9 532.4,482.2 533.4,483.3 534.3,484.2 535.1,484.9 537.1,485.8 538.8,485.8 540.4,485.0 542.1,483.9 543.1,483.0 543.9,481.8 544.8,480.5 545.7,479.0 546.7,477.6 547.8,476.2 549.1,475.1 550.4,474.2 551.8,473.4 553.3,472.6 554.9,471.9 556.5,471.3 558.1,470.7 559.7,470.2 561.3,469.9 562.8,469.7 564.3,469.6 565.8,469.6 567.3,469.8 568.9,469.9 570.4,470.1 572.0,470.4 573.6,470.6 575.1,470.8 576.6,471.0 578.1,471.3 579.7,471.6 581.3,471.9 582.9,472.3 584.5,472.6 586.0,473.0 587.6,473.4 589.2,473.9 590.8,474.5 592.4,475.1 594.0,475.8 595.6,476.4 597.2,477.0 598.7,477.5 600.2,477.8 601.6,477.9 603.3,477.7 604.9,477.2 606.3,476.5 607.8,475.7 609.2,474.8 610.6,474.0 612.1,473.4 613.6,472.9 615.1,472.3 616.6,471.7 618.1,471.3 619.6,470.9 621.1,470.8 622.6,470.9 623.9,471.3 625.3,471.9 626.6,472.6 628.0,473.5 629.3,474.5 630.6,475.4 631.9,476.2 633.1,476.9 634.6,477.7 636.0,478.6 637.4,479.4 638.8,480.0 640.3,480.4 641.9,480.4 643.3,480.2 644.8,479.7 646.4,479.0 648.0,478.2 649.7,477.4 651.3,476.5 652.8,475.8 654.2,475.1 656.0,474.3 657.8,473.5 659.5,472.7 661.1,472.0 662.3,471.4 663.3,471.0" fill="none" stroke="#30459c" stroke-opacity="0.68" stroke-width="2.8" stroke-linejoin="round" stroke-linecap="butt"/>
<polyline points="598.1,381.6 599.2,380.9 600.5,380.2 601.8,379.3 603.1,378.4 604.5,377.4 605.9,376.3 607.3,375.0 608.6,373.6 609.5,372.6 610.4,371.4 611.2,370.2 612.1,368.8 613.0,367.5 613.9,366.1 614.7,364.7 615.6,363.2 616.5,361.8 617.4,360.4 618.2,359.1 619.1,357.8 620.1,356.5 621.0,355.1 622.0,353.8 622.9,352.5 623.9,351.2 624.8,349.9 625.8,348.7 626.7,347.4 627.7,346.2 628.6,345.0 629.6,343.8 630.7,342.5 631.7,341.2 632.8,339.8 633.9,338.5 635.0,337.3 636.1,336.0 637.2,334.8 638.2,333.6 639.2,332.5 640.2,331.5 641.6,330.1 642.9,328.8 644.1,327.6 645.4,326.5 646.6,325.5 647.8,324.6 648.9,323.8 650.8,322.8 652.5,322.3 654.2,322.0 656.0,321.7 658.0,321.5 660.1,321.5 662.0,321.5 663.3,321.5" fill="none" stroke="#30459c" stroke-opacity="0.68" stroke-width="2.8" stroke-linejoin="round" stroke-linecap="butt"/>
</g>
<line x1="115.34" y1="259.60" x2="115.34" y2="254.80" stroke="#000" stroke-width="1.6"/>
<line x1="115.34" y1="44.40" x2="115.34" y2="49.20" stroke="#000" stroke-width="1.6"/>
<line x1="144.18" y1="259.60" x2="144.18" y2="254.80" stroke="#000" stroke-width="1.6"/>
<line x1="144.18" y1="44.40" x2="144.18" y2="49.20" stroke="#000" stroke-width="1.6"/>
<line x1="173.02" y1="259.60" x2="173.02" y2="254.80" stroke="#000" stroke-width="1.6"/>
<line x1="173.02" y1="44.40" x2="173.02" y2="49.20" stroke="#000" stroke-width="1.6"/>
<line x1="201.86" y1="259.60" x2="201.86" y2="254.80" stroke="#000" stroke-width="1.6"/>
<line x1="201.86" y1="44.40" x2="201.86" y2="49.20" stroke="#000" stroke-width="1.6"/>
<line x1="230.70" y1="259.60" x2="230.70" y2="250.60" stroke="#000" stroke-width="2"/>
<line x1="230.70" y1="44.40" x2="230.70" y2="53.40" stroke="#000" stroke-width="2"/>
<line x1="259.54" y1="259.60" x2="259.54" y2="254.80" stroke="#000" stroke-width="1.6"/>
<line x1="259.54" y1="44.40" x2="259.54" y2="49.20" stroke="#000" stroke-width="1.6"/>
<line x1="288.38" y1="259.60" x2="288.38" y2="254.80" stroke="#000" stroke-width="1.6"/>
<line x1="288.38" y1="44.40" x2="288.38" y2="49.20" stroke="#000" stroke-width="1.6"/>
<line x1="317.22" y1="259.60" x2="317.22" y2="254.80" stroke="#000" stroke-width="1.6"/>
<line x1="317.22" y1="44.40" x2="317.22" y2="49.20" stroke="#000" stroke-width="1.6"/>
<line x1="346.06" y1="259.60" x2="346.06" y2="254.80" stroke="#000" stroke-width="1.6"/>
<line x1="346.06" y1="44.40" x2="346.06" y2="49.20" stroke="#000" stroke-width="1.6"/>
<line x1="374.90" y1="259.60" x2="374.90" y2="250.60" stroke="#000" stroke-width="2"/>
<line x1="374.90" y1="44.40" x2="374.90" y2="53.40" stroke="#000" stroke-width="2"/>
<line x1="403.74" y1="259.60" x2="403.74" y2="254.80" stroke="#000" stroke-width="1.6"/>
<line x1="403.74" y1="44.40" x2="403.74" y2="49.20" stroke="#000" stroke-width="1.6"/>
<line x1="432.58" y1="259.60" x2="432.58" y2="254.80" stroke="#000" stroke-width="1.6"/>
<line x1="432.58" y1="44.40" x2="432.58" y2="49.20" stroke="#000" stroke-width="1.6"/>
<line x1="461.42" y1="259.60" x2="461.42" y2="254.80" stroke="#000" stroke-width="1.6"/>
<line x1="461.42" y1="44.40" x2="461.42" y2="49.20" stroke="#000" stroke-width="1.6"/>
<line x1="490.26" y1="259.60" x2="490.26" y2="254.80" stroke="#000" stroke-width="1.6"/>
<line x1="490.26" y1="44.40" x2="490.26" y2="49.20" stroke="#000" stroke-width="1.6"/>
<line x1="519.10" y1="259.60" x2="519.10" y2="250.60" stroke="#000" stroke-width="2"/>
<line x1="519.10" y1="44.40" x2="519.10" y2="53.40" stroke="#000" stroke-width="2"/>
<line x1="547.94" y1="259.60" x2="547.94" y2="254.80" stroke="#000" stroke-width="1.6"/>
<line x1="547.94" y1="44.40" x2="547.94" y2="49.20" stroke="#000" stroke-width="1.6"/>
<line x1="576.78" y1="259.60" x2="576.78" y2="254.80" stroke="#000" stroke-width="1.6"/>
<line x1="576.78" y1="44.40" x2="576.78" y2="49.20" stroke="#000" stroke-width="1.6"/>
<line x1="605.62" y1="259.60" x2="605.62" y2="254.80" stroke="#000" stroke-width="1.6"/>
<line x1="605.62" y1="44.40" x2="605.62" y2="49.20" stroke="#000" stroke-width="1.6"/>
<line x1="634.46" y1="259.60" x2="634.46" y2="254.80" stroke="#000" stroke-width="1.6"/>
<line x1="634.46" y1="44.40" x2="634.46" y2="49.20" stroke="#000" stroke-width="1.6"/>
<line x1="86.50" y1="252.54" x2="91.30" y2="252.54" stroke="#000" stroke-width="1.6"/>
<line x1="663.30" y1="252.54" x2="658.50" y2="252.54" stroke="#000" stroke-width="1.6"/>
<line x1="86.50" y1="238.18" x2="91.30" y2="238.18" stroke="#000" stroke-width="1.6"/>
<line x1="663.30" y1="238.18" x2="658.50" y2="238.18" stroke="#000" stroke-width="1.6"/>
<line x1="86.50" y1="223.82" x2="95.50" y2="223.82" stroke="#000" stroke-width="2"/>
<line x1="663.30" y1="223.82" x2="654.30" y2="223.82" stroke="#000" stroke-width="2"/>
<line x1="86.50" y1="209.46" x2="91.30" y2="209.46" stroke="#000" stroke-width="1.6"/>
<line x1="663.30" y1="209.46" x2="658.50" y2="209.46" stroke="#000" stroke-width="1.6"/>
<line x1="86.50" y1="195.10" x2="91.30" y2="195.10" stroke="#000" stroke-width="1.6"/>
<line x1="663.30" y1="195.10" x2="658.50" y2="195.10" stroke="#000" stroke-width="1.6"/>
<line x1="86.50" y1="180.74" x2="91.30" y2="180.74" stroke="#000" stroke-width="1.6"/>
<line x1="663.30" y1="180.74" x2="658.50" y2="180.74" stroke="#000" stroke-width="1.6"/>
<line x1="86.50" y1="166.38" x2="95.50" y2="166.38" stroke="#000" stroke-width="2"/>
<line x1="663.30" y1="166.38" x2="654.30" y2="166.38" stroke="#000" stroke-width="2"/>
<line x1="86.50" y1="152.02" x2="91.30" y2="152.02" stroke="#000" stroke-width="1.6"/>
<line x1="663.30" y1="152.02" x2="658.50" y2="152.02" stroke="#000" stroke-width="1.6"/>
<line x1="86.50" y1="137.66" x2="91.30" y2="137.66" stroke="#000" stroke-width="1.6"/>
<line x1="663.30" y1="137.66" x2="658.50" y2="137.66" stroke="#000" stroke-width="1.6"/>
<line x1="86.50" y1="123.30" x2="91.30" y2="123.30" stroke="#000" stroke-width="1.6"/>
<line x1="663.30" y1="123.30" x2="658.50" y2="123.30" stroke="#000" stroke-width="1.6"/>
<line x1="86.50" y1="108.94" x2="95.50" y2="108.94" stroke="#000" stroke-width="2"/>
<line x1="663.30" y1="108.94" x2="654.30" y2="108.94" stroke="#000" stroke-width="2"/>
<line x1="86.50" y1="94.58" x2="91.30" y2="94.58" stroke="#000" stroke-width="1.6"/>
<line x1="663.30" y1="94.58" x2="658.50" y2="94.58" stroke="#000" stroke-width="1.6"/>
<line x1="86.50" y1="80.22" x2="91.30" y2="80.22" stroke="#000" stroke-width="1.6"/>
<line x1="663.30" y1="80.22" x2="658.50" y2="80.22" stroke="#000" stroke-width="1.6"/>
<line x1="86.50" y1="65.86" x2="91.30" y2="65.86" stroke="#000" stroke-width="1.6"/>
<line x1="663.30" y1="65.86" x2="658.50" y2="65.86" stroke="#000" stroke-width="1.6"/>
<line x1="86.50" y1="51.50" x2="95.50" y2="51.50" stroke="#000" stroke-width="2"/>
<line x1="663.30" y1="51.50" x2="654.30" y2="51.50" stroke="#000" stroke-width="2"/>
<rect x="86.5" y="44.4" width="576.80" height="215.20" fill="none" stroke="#000" stroke-width="2.4"/>
<text x="76" y="232.82" text-anchor="end" font-size="25">1.6</text>
<text x="76" y="175.38" text-anchor="end" font-size="25">2.4</text>
<text x="76" y="117.94" text-anchor="end" font-size="25">3.2</text>
<text x="76" y="60.50" text-anchor="end" font-size="25">4.0</text>
<text transform="translate(24,152.00) rotate(-90)" text-anchor="middle" font-size="25">C-O bond length [Å]</text>
<line x1="115.34" y1="499.90" x2="115.34" y2="495.10" stroke="#000" stroke-width="1.6"/>
<line x1="115.34" y1="284.70" x2="115.34" y2="289.50" stroke="#000" stroke-width="1.6"/>
<line x1="144.18" y1="499.90" x2="144.18" y2="495.10" stroke="#000" stroke-width="1.6"/>
<line x1="144.18" y1="284.70" x2="144.18" y2="289.50" stroke="#000" stroke-width="1.6"/>
<line x1="173.02" y1="499.90" x2="173.02" y2="495.10" stroke="#000" stroke-width="1.6"/>
<line x1="173.02" y1="284.70" x2="173.02" y2="289.50" stroke="#000" stroke-width="1.6"/>
<line x1="201.86" y1="499.90" x2="201.86" y2="495.10" stroke="#000" stroke-width="1.6"/>
<line x1="201.86" y1="284.70" x2="201.86" y2="289.50" stroke="#000" stroke-width="1.6"/>
<line x1="230.70" y1="499.90" x2="230.70" y2="490.90" stroke="#000" stroke-width="2"/>
<line x1="230.70" y1="284.70" x2="230.70" y2="293.70" stroke="#000" stroke-width="2"/>
<line x1="259.54" y1="499.90" x2="259.54" y2="495.10" stroke="#000" stroke-width="1.6"/>
<line x1="259.54" y1="284.70" x2="259.54" y2="289.50" stroke="#000" stroke-width="1.6"/>
<line x1="288.38" y1="499.90" x2="288.38" y2="495.10" stroke="#000" stroke-width="1.6"/>
<line x1="288.38" y1="284.70" x2="288.38" y2="289.50" stroke="#000" stroke-width="1.6"/>
<line x1="317.22" y1="499.90" x2="317.22" y2="495.10" stroke="#000" stroke-width="1.6"/>
<line x1="317.22" y1="284.70" x2="317.22" y2="289.50" stroke="#000" stroke-width="1.6"/>
<line x1="346.06" y1="499.90" x2="346.06" y2="495.10" stroke="#000" stroke-width="1.6"/>
<line x1="346.06" y1="284.70" x2="346.06" y2="289.50" stroke="#000" stroke-width="1.6"/>
<line x1="374.90" y1="499.90" x2="374.90" y2="490.90" stroke="#000" stroke-width="2"/>
<line x1="374.90" y1="284.70" x2="374.90" y2="293.70" stroke="#000" stroke-width="2"/>
<line x1="403.74" y1="499.90" x2="403.74" y2="495.10" stroke="#000" stroke-width="1.6"/>
<line x1="403.74" y1="284.70" x2="403.74" y2="289.50" stroke="#000" stroke-width="1.6"/>
<line x1="432.58" y1="499.90" x2="432.58" y2="495.10" stroke="#000" stroke-width="1.6"/>
<line x1="432.58" y1="284.70" x2="432.58" y2="289.50" stroke="#000" stroke-width="1.6"/>
<line x1="461.42" y1="499.90" x2="461.42" y2="495.10" stroke="#000" stroke-width="1.6"/>
<line x1="461.42" y1="284.70" x2="461.42" y2="289.50" stroke="#000" stroke-width="1.6"/>
<line x1="490.26" y1="499.90" x2="490.26" y2="495.10" stroke="#000" stroke-width="1.6"/>
<line x1="490.26" y1="284.70" x2="490.26" y2="289.50" stroke="#000" stroke-width="1.6"/>
<line x1="519.10" y1="499.90" x2="519.10" y2="490.90" stroke="#000" stroke-width="2"/>
<line x1="519.10" y1="284.70" x2="519.10" y2="293.70" stroke="#000" stroke-width="2"/>
<line x1="547.94" y1="499.90" x2="547.94" y2="495.10" stroke="#000" stroke-width="1.6"/>
<line x1="547.94" y1="284.70" x2="547.94" y2="289.50" stroke="#000" stroke-width="1.6"/>
<line x1="576.78" y1="499.90" x2="576.78" y2="495.10" stroke="#000" stroke-width="1.6"/>
<line x1="576.78" y1="284.70" x2="576.78" y2="289.50" stroke="#000" stroke-width="1.6"/>
<line x1="605.62" y1="499.90" x2="605.62" y2="495.10" stroke="#000" stroke-width="1.6"/>
<line x1="605.62" y1="284.70" x2="605.62" y2="289.50" stroke="#000" stroke-width="1.6"/>
<line x1="634.46" y1="499.90" x2="634.46" y2="495.10" stroke="#000" stroke-width="1.6"/>
<line x1="634.46" y1="284.70" x2="634.46" y2="289.50" stroke="#000" stroke-width="1.6"/>
<line x1="86.50" y1="492.84" x2="91.30" y2="492.84" stroke="#000" stroke-width="1.6"/>
<line x1="663.30" y1="492.84" x2="658.50" y2="492.84" stroke="#000" stroke-width="1.6"/>
<line x1="86.50" y1="478.48" x2="91.30" y2="478.48" stroke="#000" stroke-width="1.6"/>
<line x1="663.30" y1="478.48" x2="658.50" y2="478.48" stroke="#000" stroke-width="1.6"/>
<line x1="86.50" y1="464.12" x2="95.50" y2="464.12" stroke="#000" stroke-width="2"/>
<line x1="663.30" y1="464.12" x2="654.30" y2="464.12" stroke="#000" stroke-width="2"/>
<line x1="86.50" y1="449.76" x2="91.30" y2="449.76" stroke="#000" stroke-width="1.6"/>
<line x1="663.30" y1="449.76" x2="658.50" y2="449.76" stroke="#000" stroke-width="1.6"/>
<line x1="86.50" y1="435.40" x2="91.30" y2="435.40" stroke="#000" stroke-width="1.6"/>
<line x1="663.30" y1="435.40" x2="658.50" y2="435.40" stroke="#000" stroke-width="1.6"/>
<line x1="86.50" y1="421.04" x2="91.30" y2="421.04" stroke="#000" stroke-width="1.6"/>
<line x1="663.30" y1="421.04" x2="658.50" y2="421.04" stroke="#000" stroke-width="1.6"/>
<line x1="86.50" y1="406.68" x2="95.50" y2="406.68" stroke="#000" stroke-width="2"/>
<line x1="663.30" y1="406.68" x2="654.30" y2="406.68" stroke="#000" stroke-width="2"/>
<line x1="86.50" y1="392.32" x2="91.30" y2="392.32" stroke="#000" stroke-width="1.6"/>
<line x1="663.30" y1="392.32" x2="658.50" y2="392.32" stroke="#000" stroke-width="1.6"/>
<line x1="86.50" y1="377.96" x2="91.30" y2="377.96" stroke="#000" stroke-width="1.6"/>
<line x1="663.30" y1="377.96" x2="658.50" y2="377.96" stroke="#000" stroke-width="1.6"/>
<line x1="86.50" y1="363.60" x2="91.30" y2="363.60" stroke="#000" stroke-width="1.6"/>
<line x1="663.30" y1="363.60" x2="658.50" y2="363.60" stroke="#000" stroke-width="1.6"/>
<line x1="86.50" y1="349.24" x2="95.50" y2="349.24" stroke="#000" stroke-width="2"/>
<line x1="663.30" y1="349.24" x2="654.30" y2="349.24" stroke="#000" stroke-width="2"/>
<line x1="86.50" y1="334.88" x2="91.30" y2="334.88" stroke="#000" stroke-width="1.6"/>
<line x1="663.30" y1="334.88" x2="658.50" y2="334.88" stroke="#000" stroke-width="1.6"/>
<line x1="86.50" y1="320.52" x2="91.30" y2="320.52" stroke="#000" stroke-width="1.6"/>
<line x1="663.30" y1="320.52" x2="658.50" y2="320.52" stroke="#000" stroke-width="1.6"/>
<line x1="86.50" y1="306.16" x2="91.30" y2="306.16" stroke="#000" stroke-width="1.6"/>
<line x1="663.30" y1="306.16" x2="658.50" y2="306.16" stroke="#000" stroke-width="1.6"/>
<line x1="86.50" y1="291.80" x2="95.50" y2="291.80" stroke="#000" stroke-width="2"/>
<line x1="663.30" y1="291.80" x2="654.30" y2="291.80" stroke="#000" stroke-width="2"/>
<rect x="86.5" y="284.7" width="576.80" height="215.20" fill="none" stroke="#000" stroke-width="2.4"/>
<text x="76" y="473.12" text-anchor="end" font-size="25">1.6</text>
<text x="76" y="415.68" text-anchor="end" font-size="25">2.4</text>
<text x="76" y="358.24" text-anchor="end" font-size="25">3.2</text>
<text x="76" y="300.80" text-anchor="end" font-size="25">4.0</text>
<text transform="translate(24,392.30) rotate(-90)" text-anchor="middle" font-size="25">C-O bond length [Å]</text>
<text x="86.50" y="529.6" text-anchor="middle" font-size="25">0</text>
<text x="230.70" y="529.6" text-anchor="middle" font-size="25">100</text>
<text x="374.90" y="529.6" text-anchor="middle" font-size="25">200</text>
<text x="519.10" y="529.6" text-anchor="middle" font-size="25">300</text>
<text x="663.30" y="529.6" text-anchor="middle" font-size="25">400</text>
<text x="374.90" y="565.2" text-anchor="middle" font-size="25">Time [fs]</text>
<text x="114" y="83.6" font-size="30.5" font-weight="bold">a</text>
<text x="147.5" y="83.6" font-size="25">SP1mt: 56%</text>
<text x="114" y="323.90" font-size="30.5" font-weight="bold">b</text>
<text x="148.9" y="323.90" font-size="25">SP1mc: 4%</text>
<line x1="172.8" y1="11.9" x2="227.2" y2="11.9" stroke="#30459c" stroke-width="4.6"/>
<text x="243.7" y="21.3" font-size="27.5">S<tspan font-size="19.5" dy="3.8">0</tspan></text>
<line x1="322.3" y1="11.9" x2="376.7" y2="11.9" stroke="#68c7bc" stroke-width="4.6"/>
<text x="393.2" y="21.3" font-size="27.5">S<tspan font-size="19.5" dy="3.8">1</tspan></text>
<line x1="471.8" y1="11.9" x2="526.2" y2="11.9" stroke="#eaf03c" stroke-width="4.6"/>
<text x="542.7" y="21.3" font-size="27.5">S<tspan font-size="19.5" dy="3.8">2</tspan></text>
</svg></body></html>
